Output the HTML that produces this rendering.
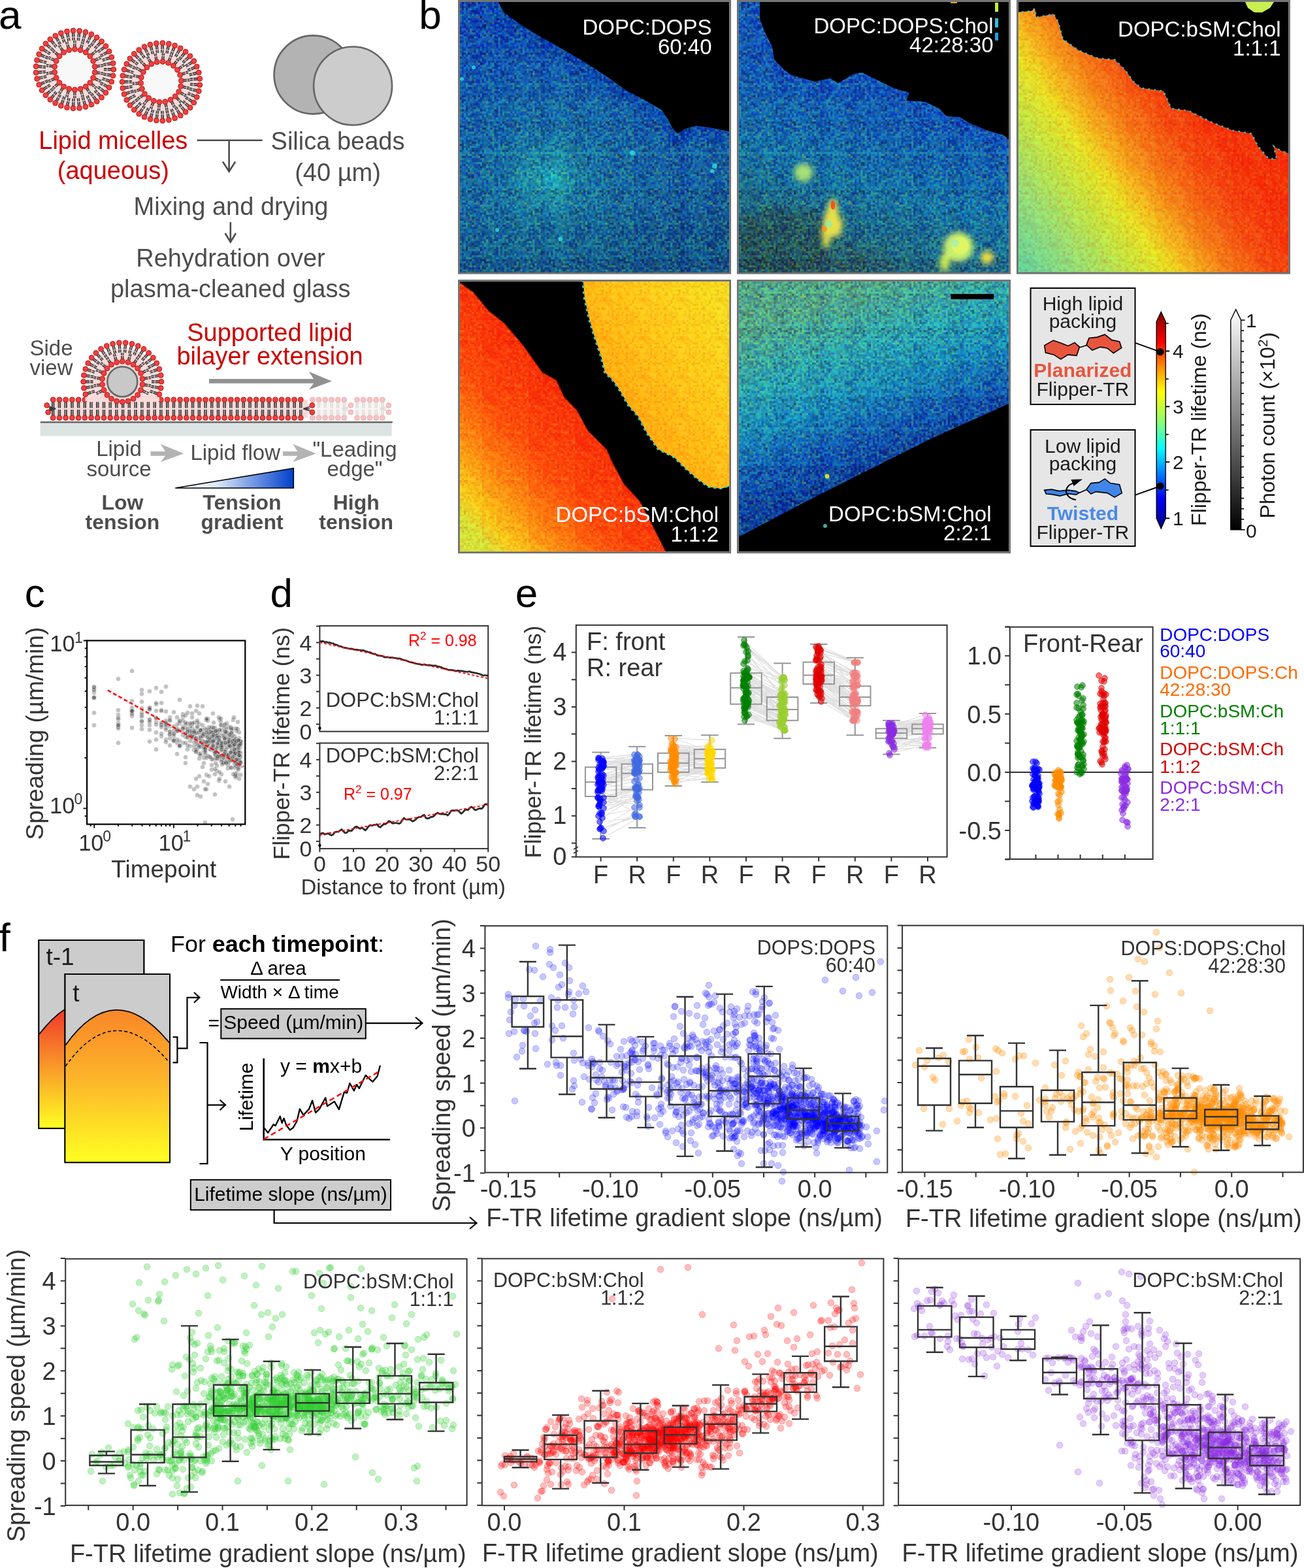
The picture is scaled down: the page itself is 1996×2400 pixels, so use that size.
<!DOCTYPE html>
<html><head><meta charset="utf-8"><style>
html,body{margin:0;padding:0;background:#fff}
svg{display:block}
text{font-family:"Liberation Sans",Arial,sans-serif}
</style></head><body>
<svg xmlns="http://www.w3.org/2000/svg" width="1996" height="2400" viewBox="0 0 1996 2400">
<rect width="1996" height="2400" fill="#fff"/>
<text x="-2" y="44.3" font-size="62" fill="#000">a</text>
<circle cx="114.4" cy="106.3" r="57.5" fill="#f7dada"/>
<circle cx="114.4" cy="106.3" r="29" fill="#f8f8f8"/>
<path d="M170.4 105L164.4 105M163.4 105L158.9 105M170.4 107.6L164.4 107.6M163.4 107.6L158.9 107.6M169.9 114L164 113M163 112.9L158.5 112.2M169.5 116.6L163.5 115.6M162.6 115.4L158.1 114.7M167.9 122.8L162.2 120.9M161.3 120.6L157 119.2M167.1 125.3L161.4 123.4M160.5 123L156.2 121.6M164.6 131.2L159.3 128.4M158.4 127.9L154.4 125.8M163.4 133.5L158.1 130.7M157.2 130.2L153.2 128.1M159.9 138.9L155.2 135.3M154.4 134.7L150.8 132M158.4 141L153.6 137.4M152.8 136.8L149.2 134.1M154.1 145.8L150 141.5M149.3 140.7L146.2 137.5M152.3 147.6L148.1 143.3M147.4 142.5L144.3 139.3M147.3 151.6L143.9 146.7M143.3 145.9L140.7 142.2M145.1 153.1L141.7 148.2M141.2 147.4L138.6 143.7M139.6 156.3L137 150.9M136.6 150L134.7 145.9M137.2 157.5L134.7 152M134.2 151.1L132.3 147.1M131.2 159.7L129.6 154M129.3 153L128 148.7M128.7 160.5L127.1 154.7M126.8 153.7L125.5 149.4M122.4 161.7L121.7 155.8M121.6 154.8L121.1 150.3M119.9 162L119.1 156.1M119 155.1L118.5 150.6M113.4 162.3L113.7 156.3M113.7 155.3L113.9 150.8M110.8 162.2L111.1 156.2M111.1 155.2L111.3 150.7M104.5 161.4L105.7 155.5M105.9 154.6L106.8 150.2M101.9 160.9L103.1 155M103.3 154L104.2 149.6M95.8 159.1L97.9 153.5M98.2 152.6L99.8 148.4M93.3 158.2L95.5 152.6M95.8 151.7L97.4 147.4M87.5 155.4L90.5 150.3M91 149.4L93.3 145.5M85.3 154.1L88.3 149M88.8 148.1L91 144.2M80 150.5L83.8 145.9M84.4 145.1L87.3 141.6M78 148.9L81.8 144.2M82.4 143.4L85.2 139.9M73.3 144.4L77.8 140.4M78.6 139.8L82 136.8M71.6 142.5L76.1 138.5M76.9 137.8L80.2 134.8M67.8 137.3L72.8 134.1M73.7 133.6L77.5 131.2M66.4 135.1L71.4 131.9M72.3 131.4L76.1 129M63.4 129.4L68.9 127.1M69.8 126.7L74 124.9M62.4 127.1L67.9 124.7M68.8 124.3L73 122.5M60.3 121L66.2 119.5M67.1 119.3L71.5 118.2M59.7 118.4L65.5 117M66.5 116.8L70.9 115.7M58.7 112.1L64.7 111.6M65.7 111.5L70.1 111.2M58.5 109.5L64.5 109M65.5 108.9L69.9 108.6M58.5 103.1L64.5 103.6M65.5 103.7L69.9 104M58.7 100.5L64.7 101M65.7 101.1L70.1 101.4M59.7 94.2L65.5 95.6M66.5 95.8L70.9 96.9M60.3 91.6L66.2 93.1M67.1 93.3L71.5 94.4M62.4 85.5L67.9 87.9M68.8 88.3L73 90.1M63.4 83.2L68.9 85.5M69.8 85.9L74 87.7M66.4 77.5L71.4 80.7M72.3 81.2L76.1 83.6M67.8 75.3L72.8 78.5M73.7 79L77.5 81.4M71.6 70.1L76.1 74.1M76.9 74.8L80.2 77.8M73.3 68.2L77.8 72.2M78.6 72.8L82 75.8M78 63.7L81.8 68.4M82.4 69.2L85.2 72.7M80 62.1L83.8 66.7M84.4 67.5L87.3 71M85.3 58.5L88.3 63.6M88.8 64.5L91 68.4M87.5 57.2L90.5 62.3M91 63.2L93.3 67.1M93.3 54.4L95.5 60M95.8 60.9L97.4 65.2M95.8 53.5L97.9 59.1M98.2 60L99.8 64.2M101.9 51.7L103.1 57.6M103.3 58.6L104.2 63M104.5 51.2L105.7 57.1M105.9 58L106.8 62.4M110.8 50.4L111.1 56.4M111.1 57.4L111.3 61.9M113.4 50.3L113.7 56.3M113.7 57.3L113.9 61.8M119.9 50.6L119.1 56.5M119 57.5L118.5 62M122.4 50.9L121.7 56.8M121.6 57.8L121.1 62.3M128.7 52.1L127.1 57.9M126.8 58.9L125.5 63.2M131.2 52.9L129.6 58.6M129.3 59.6L128 63.9M137.2 55.1L134.7 60.6M134.2 61.5L132.3 65.5M139.6 56.3L137 61.7M136.6 62.6L134.7 66.7M145.1 59.5L141.7 64.4M141.2 65.2L138.6 68.9M147.3 61L143.9 65.9M143.3 66.7L140.7 70.4M152.3 65L148.1 69.3M147.4 70.1L144.3 73.3M154.1 66.8L150 71.1M149.3 71.9L146.2 75.1M158.4 71.6L153.6 75.2M152.8 75.8L149.2 78.5M159.9 73.7L155.2 77.3M154.4 77.9L150.8 80.6M163.4 79.1L158.1 81.9M157.2 82.4L153.2 84.5M164.6 81.4L159.3 84.2M158.4 84.7L154.4 86.8M167.1 87.3L161.4 89.2M160.5 89.6L156.2 91M167.9 89.8L162.2 91.7M161.3 92L157 93.4M169.5 96L163.5 97M162.6 97.2L158.1 97.9M169.9 98.6L164 99.6M163 99.7L158.5 100.4M148.7 109.9L153.7 110.6M154.7 110.8L158.1 111.3M148.4 112.5L153.3 113.2M154.3 113.4L157.8 113.8M146.3 119.4L150.9 121.5M151.8 121.9L155 123.4M145.2 121.8L149.8 123.9M150.7 124.3L153.9 125.8M141.3 127.9L145.1 131.2M145.9 131.8L148.5 134.1M139.6 129.9L143.4 133.1M144.2 133.8L146.8 136.1M134.1 134.6L136.8 138.8M137.4 139.7L139.3 142.6M132 136L134.7 140.2M135.2 141.1L137.1 144M125.4 139L126.8 143.8M127.1 144.8L128 148.2M122.9 139.8L124.3 144.6M124.6 145.5L125.5 148.9M115.7 140.8L115.7 145.8M115.7 146.8L115.7 150.3M113.1 140.8L113.1 145.8M113.1 146.8L113.1 150.3M105.9 139.8L104.5 144.6M104.2 145.5L103.3 148.9M103.4 139L102 143.8M101.7 144.8L100.8 148.2M96.8 136L94.1 140.2M93.6 141.1L91.7 144M94.7 134.6L92 138.8M91.4 139.7L89.5 142.6M89.2 129.9L85.4 133.1M84.6 133.8L82 136.1M87.5 127.9L83.7 131.2M82.9 131.8L80.3 134.1M83.6 121.8L79 123.9M78.1 124.3L74.9 125.8M82.5 119.4L77.9 121.5M77 121.9L73.8 123.4M80.4 112.5L75.5 113.2M74.5 113.4L71 113.8M80.1 109.9L75.1 110.6M74.1 110.8L70.7 111.3M80.1 102.7L75.1 102M74.1 101.8L70.7 101.3M80.4 100.1L75.5 99.4M74.5 99.2L71 98.8M82.5 93.2L77.9 91.1M77 90.7L73.8 89.2M83.6 90.8L79 88.7M78.1 88.3L74.9 86.8M87.5 84.7L83.7 81.4M82.9 80.8L80.3 78.5M89.2 82.7L85.4 79.5M84.6 78.8L82 76.5M94.7 78L92 73.8M91.4 72.9L89.5 70M96.8 76.6L94.1 72.4M93.6 71.5L91.7 68.6M103.4 73.6L102 68.8M101.7 67.8L100.8 64.4M105.9 72.8L104.5 68M104.2 67.1L103.3 63.7M113.1 71.8L113.1 66.8M113.1 65.8L113.1 62.3M115.7 71.8L115.7 66.8M115.7 65.8L115.7 62.3M122.9 72.8L124.3 68M124.6 67.1L125.5 63.7M125.4 73.6L126.8 68.8M127.1 67.8L128 64.4M132 76.6L134.7 72.4M135.2 71.5L137.1 68.6M134.1 78L136.8 73.8M137.4 72.9L139.3 70M139.6 82.7L143.4 79.5M144.2 78.8L146.8 76.5M141.3 84.7L145.1 81.4M145.9 80.8L148.5 78.5M145.2 90.8L149.8 88.7M150.7 88.3L153.9 86.8M146.3 93.2L150.9 91.1M151.8 90.7L155 89.2M148.4 100.1L153.3 99.4M154.3 99.2L157.8 98.8M148.7 102.7L153.7 102M154.7 101.8L158.1 101.3" stroke="#3c3c3c" stroke-width="1.8" fill="none"/>
<g fill="#f04040" stroke="#b41616" stroke-width="1"><circle cx="173.9" cy="106.3" r="3.9"/><circle cx="173.1" cy="115.8" r="3.9"/><circle cx="170.8" cy="125.1" r="3.9"/><circle cx="167.1" cy="134" r="3.9"/><circle cx="162" cy="142" r="3.9"/><circle cx="155.6" cy="149.2" r="3.9"/><circle cx="148.2" cy="155.3" r="3.9"/><circle cx="139.9" cy="160.1" r="3.9"/><circle cx="131" cy="163.5" r="3.9"/><circle cx="121.6" cy="165.4" r="3.9"/><circle cx="112" cy="165.8" r="3.9"/><circle cx="102.5" cy="164.6" r="3.9"/><circle cx="93.3" cy="161.9" r="3.9"/><circle cx="84.6" cy="157.8" r="3.9"/><circle cx="76.8" cy="152.4" r="3.9"/><circle cx="69.9" cy="145.8" r="3.9"/><circle cx="64.1" cy="138.1" r="3.9"/><circle cx="59.7" cy="129.6" r="3.9"/><circle cx="56.6" cy="120.5" r="3.9"/><circle cx="55.1" cy="111.1" r="3.9"/><circle cx="55.1" cy="101.5" r="3.9"/><circle cx="56.6" cy="92.1" r="3.9"/><circle cx="59.7" cy="83" r="3.9"/><circle cx="64.1" cy="74.5" r="3.9"/><circle cx="69.9" cy="66.8" r="3.9"/><circle cx="76.8" cy="60.2" r="3.9"/><circle cx="84.7" cy="54.8" r="3.9"/><circle cx="93.3" cy="50.7" r="3.9"/><circle cx="102.5" cy="48" r="3.9"/><circle cx="112" cy="46.8" r="3.9"/><circle cx="121.6" cy="47.2" r="3.9"/><circle cx="131" cy="49.1" r="3.9"/><circle cx="139.9" cy="52.5" r="3.9"/><circle cx="148.2" cy="57.3" r="3.9"/><circle cx="155.6" cy="63.4" r="3.9"/><circle cx="162" cy="70.6" r="3.9"/><circle cx="167.1" cy="78.6" r="3.9"/><circle cx="170.8" cy="87.5" r="3.9"/><circle cx="173.1" cy="96.8" r="3.9"/><circle cx="145.1" cy="110.7" r="3.9"/><circle cx="142.6" cy="119.2" r="3.9"/><circle cx="137.8" cy="126.6" r="3.9"/><circle cx="131.2" cy="132.4" r="3.9"/><circle cx="123.1" cy="136" r="3.9"/><circle cx="114.4" cy="137.3" r="3.9"/><circle cx="105.7" cy="136" r="3.9"/><circle cx="97.6" cy="132.4" r="3.9"/><circle cx="91" cy="126.6" r="3.9"/><circle cx="86.2" cy="119.2" r="3.9"/><circle cx="83.7" cy="110.7" r="3.9"/><circle cx="83.7" cy="101.9" r="3.9"/><circle cx="86.2" cy="93.4" r="3.9"/><circle cx="91" cy="86" r="3.9"/><circle cx="97.6" cy="80.2" r="3.9"/><circle cx="105.7" cy="76.6" r="3.9"/><circle cx="114.4" cy="75.3" r="3.9"/><circle cx="123.1" cy="76.6" r="3.9"/><circle cx="131.2" cy="80.2" r="3.9"/><circle cx="137.8" cy="86" r="3.9"/><circle cx="142.6" cy="93.4" r="3.9"/><circle cx="145.1" cy="101.9" r="3.9"/></g>
<circle cx="246.5" cy="125.3" r="57.5" fill="#f7dada"/>
<circle cx="246.5" cy="125.3" r="29" fill="#f8f8f8"/>
<path d="M302.4 128.5L296.4 128M295.4 127.9L291 127.6M302.2 131.1L296.2 130.6M295.2 130.5L290.8 130.2M301.2 137.4L295.4 136M294.4 135.7L290 134.7M300.6 139.9L294.7 138.5M293.8 138.3L289.4 137.2M298.5 146L293 143.7M292.1 143.3L288 141.5M297.5 148.4L292 146.1M291.1 145.7L286.9 143.9M294.5 154.1L289.5 150.9M288.6 150.4L284.8 148M293.2 156.3L288.1 153.1M287.2 152.6L283.4 150.2M289.3 161.4L284.8 157.5M284.1 156.8L280.7 153.8M287.6 163.4L283.1 159.4M282.3 158.7L279 155.8M282.9 167.8L279.2 163.2M278.5 162.4L275.7 158.9M280.9 169.5L277.1 164.8M276.5 164.1L273.7 160.6M275.7 173.1L272.6 167.9M272.1 167.1L269.9 163.2M273.4 174.4L270.4 169.2M269.9 168.4L267.6 164.5M267.6 177.2L265.5 171.6M265.1 170.6L263.5 166.4M265.2 178.1L263 172.5M262.7 171.6L261.1 167.4M259 179.9L257.8 174M257.6 173L256.7 168.6M256.5 180.4L255.3 174.5M255.1 173.6L254.2 169.2M250.1 181.2L249.8 175.2M249.8 174.2L249.6 169.7M247.5 181.3L247.2 175.3M247.2 174.3L247 169.8M241.1 181.1L241.8 175.1M241.9 174.1L242.5 169.6M238.5 180.7L239.2 174.8M239.3 173.8L239.9 169.3M232.2 179.5L233.9 173.7M234.1 172.7L235.4 168.4M229.7 178.7L231.4 173M231.6 172L232.9 167.7M223.7 176.5L226.3 171M226.7 170.1L228.6 166.1M221.3 175.3L223.9 169.9M224.3 169L226.3 165M215.8 172.1L219.2 167.2M219.8 166.4L222.3 162.7M213.6 170.7L217 165.7M217.6 164.9L220.2 161.2M208.7 166.6L212.8 162.3M213.5 161.6L216.6 158.3M206.8 164.8L210.9 160.5M211.6 159.8L214.8 156.5M202.5 160L207.3 156.4M208.1 155.8L211.7 153.1M201 157.9L205.8 154.3M206.6 153.7L210.2 151M197.5 152.5L202.8 149.7M203.7 149.2L207.7 147.2M196.3 150.2L201.6 147.4M202.5 146.9L206.5 144.9M193.8 144.3L199.5 142.4M200.4 142.1L204.7 140.6M193 141.8L198.7 139.9M199.6 139.6L203.9 138.2M191.4 135.6L197.4 134.6M198.3 134.5L202.8 133.7M191 133L196.9 132.1M197.9 131.9L202.4 131.2M190.5 126.6L196.5 126.6M197.5 126.6L202 126.6M190.5 124L196.5 124M197.5 124L202 124M191 117.6L196.9 118.6M197.9 118.7L202.4 119.5M191.4 115.1L197.4 116M198.3 116.2L202.8 116.9M193 108.8L198.7 110.7M199.6 111L203.9 112.5M193.8 106.4L199.5 108.3M200.4 108.6L204.7 110M196.3 100.5L201.6 103.2M202.5 103.7L206.5 105.8M197.5 98.2L202.8 100.9M203.7 101.4L207.7 103.5M200.9 92.7L205.7 96.3M206.5 96.9L210.1 99.6M202.5 90.6L207.3 94.2M208.1 94.8L211.7 97.5M206.7 85.8L210.9 90.2M211.6 90.9L214.7 94.1M208.6 84L212.8 88.4M213.5 89.1L216.6 92.3M213.6 80L217 84.9M217.6 85.7L220.1 89.4M215.7 78.5L219.1 83.4M219.7 84.3L222.3 88M221.3 75.3L223.9 80.7M224.3 81.6L226.2 85.7M223.6 74.2L226.2 79.6M226.6 80.5L228.6 84.5M229.6 71.9L231.3 77.6M231.6 78.6L232.8 82.9M232.1 71.2L233.8 76.9M234.1 77.9L235.3 82.2M238.4 69.9L239.2 75.8M239.3 76.8L239.8 81.3M241 69.6L241.7 75.5M241.9 76.5L242.4 81M247.4 69.3L247.2 75.3M247.1 76.3L247 80.8M250 69.4L249.8 75.4M249.7 76.4L249.6 80.9M256.4 70.2L255.2 76M255 77L254.1 81.4M258.9 70.7L257.7 76.6M257.5 77.5L256.7 82M265.1 72.5L263 78.1M262.6 79L261 83.2M267.5 73.4L265.4 79M265.1 79.9L263.5 84.1M273.3 76.1L270.3 81.3M269.9 82.2L267.6 86.1M275.6 77.4L272.6 82.6M272.1 83.5L269.9 87.4M280.9 81.1L277.1 85.7M276.5 86.5L273.6 90M282.9 82.7L279.1 87.4M278.5 88.1L275.6 91.6M287.5 87.2L283 91.2M282.3 91.8L278.9 94.8M289.3 89.1L284.8 93.1M284 93.8L280.7 96.7M293.1 94.2L288 97.5M287.2 98L283.4 100.4M294.5 96.4L289.4 99.7M288.6 100.2L284.8 102.6M297.5 102.1L292 104.5M291.1 104.9L286.9 106.6M298.5 104.5L293 106.9M292.1 107.3L287.9 109M300.6 110.6L294.7 112M293.8 112.3L289.4 113.4M301.2 113.1L295.4 114.6M294.4 114.8L290 115.9M302.2 119.5L296.2 120M295.2 120L290.7 120.4M302.4 122.1L296.4 122.5M295.4 122.6L291 123M280.4 131.7L285.3 132.8M286.3 133L289.7 133.8M279.9 134.2L284.7 135.3M285.7 135.5L289.1 136.3M277.3 141L281.6 143.4M282.5 143.9L285.6 145.6M276 143.2L280.4 145.7M281.2 146.2L284.3 147.9M271.6 149L275.1 152.6M275.8 153.3L278.3 155.8M269.8 150.8L273.3 154.4M274 155.1L276.4 157.6M263.9 155.1L266.3 159.5M266.7 160.4L268.4 163.5M261.6 156.3L264 160.7M264.5 161.6L266.1 164.7M254.8 158.8L255.8 163.7M256 164.7L256.8 168.1M252.3 159.3L253.3 164.2M253.5 165.2L254.2 168.6M245 159.8L244.6 164.8M244.6 165.8L244.3 169.3M242.4 159.6L242 164.6M242 165.6L241.7 169.1M235.4 158L233.6 162.7M233.2 163.6L232 166.9M233 157.1L231.2 161.7M230.8 162.7L229.6 165.9M226.6 153.5L223.6 157.5M223 158.3L220.9 161.1M224.6 152L221.5 155.9M220.9 156.7L218.8 159.5M219.5 146.8L215.4 149.7M214.6 150.3L211.8 152.4M217.9 144.7L213.9 147.7M213.1 148.2L210.3 150.3M214.5 138.3L209.8 140M208.9 140.3L205.6 141.5M213.6 135.9L208.9 137.6M208 137.9L204.7 139.1M212.1 128.8L207.2 129.1M206.2 129.1L202.7 129.4M212 126.2L207 126.5M206 126.5L202.5 126.8M212.6 118.9L207.7 117.8M206.7 117.6L203.3 116.8M213.1 116.4L208.3 115.3M207.3 115.1L203.9 114.3M215.7 109.6L211.4 107.2M210.5 106.7L207.4 105M217 107.4L212.6 104.9M211.8 104.4L208.7 102.7M221.4 101.6L217.9 98M217.2 97.3L214.7 94.8M223.2 99.8L219.7 96.2M219 95.5L216.6 93M229.1 95.5L226.7 91.1M226.3 90.2L224.6 87.1M231.4 94.3L229 89.9M228.5 89L226.9 85.9M238.2 91.8L237.2 86.9M237 85.9L236.2 82.5M240.7 91.3L239.7 86.4M239.5 85.4L238.8 82M248 90.8L248.4 85.8M248.4 84.8L248.7 81.3M250.6 91L251 86M251 85L251.3 81.5M257.6 92.6L259.4 87.9M259.8 87L261 83.7M260 93.5L261.8 88.9M262.2 87.9L263.4 84.7M266.4 97.1L269.4 93.1M270 92.3L272.1 89.5M268.4 98.6L271.5 94.7M272.1 93.9L274.2 91.1M273.5 103.8L277.6 100.9M278.4 100.3L281.2 98.2M275.1 105.9L279.1 102.9M279.9 102.4L282.7 100.3M278.5 112.3L283.2 110.6M284.1 110.3L287.4 109.1M279.4 114.7L284.1 113M285 112.7L288.3 111.5M280.9 121.8L285.8 121.5M286.8 121.5L290.3 121.2M281 124.4L286 124.1M287 124.1L290.5 123.8" stroke="#3c3c3c" stroke-width="1.8" fill="none"/>
<g fill="#f04040" stroke="#b41616" stroke-width="1"><circle cx="305.8" cy="130.1" r="3.9"/><circle cx="304.3" cy="139.5" r="3.9"/><circle cx="301.3" cy="148.6" r="3.9"/><circle cx="296.8" cy="157.1" r="3.9"/><circle cx="291.1" cy="164.7" r="3.9"/><circle cx="284.2" cy="171.4" r="3.9"/><circle cx="276.3" cy="176.8" r="3.9"/><circle cx="267.6" cy="180.9" r="3.9"/><circle cx="258.4" cy="183.6" r="3.9"/><circle cx="248.9" cy="184.8" r="3.9"/><circle cx="239.4" cy="184.4" r="3.9"/><circle cx="230" cy="182.5" r="3.9"/><circle cx="221" cy="179.1" r="3.9"/><circle cx="212.7" cy="174.3" r="3.9"/><circle cx="205.3" cy="168.2" r="3.9"/><circle cx="199" cy="161.1" r="3.9"/><circle cx="193.8" cy="153" r="3.9"/><circle cx="190.1" cy="144.2" r="3.9"/><circle cx="187.8" cy="134.9" r="3.9"/><circle cx="187" cy="125.3" r="3.9"/><circle cx="187.8" cy="115.8" r="3.9"/><circle cx="190.1" cy="106.5" r="3.9"/><circle cx="193.8" cy="97.7" r="3.9"/><circle cx="198.9" cy="89.6" r="3.9"/><circle cx="205.3" cy="82.4" r="3.9"/><circle cx="212.7" cy="76.4" r="3.9"/><circle cx="221" cy="71.6" r="3.9"/><circle cx="229.9" cy="68.2" r="3.9"/><circle cx="239.3" cy="66.2" r="3.9"/><circle cx="248.9" cy="65.8" r="3.9"/><circle cx="258.4" cy="67" r="3.9"/><circle cx="267.6" cy="69.7" r="3.9"/><circle cx="276.2" cy="73.8" r="3.9"/><circle cx="284.1" cy="79.2" r="3.9"/><circle cx="291" cy="85.8" r="3.9"/><circle cx="296.8" cy="93.5" r="3.9"/><circle cx="301.2" cy="101.9" r="3.9"/><circle cx="304.3" cy="111" r="3.9"/><circle cx="305.8" cy="120.5" r="3.9"/><circle cx="276.7" cy="132.1" r="3.9"/><circle cx="273.6" cy="140.4" r="3.9"/><circle cx="268.2" cy="147.4" r="3.9"/><circle cx="261.1" cy="152.6" r="3.9"/><circle cx="252.8" cy="155.6" r="3.9"/><circle cx="244" cy="156.2" r="3.9"/><circle cx="235.4" cy="154.3" r="3.9"/><circle cx="227.7" cy="150" r="3.9"/><circle cx="221.5" cy="143.7" r="3.9"/><circle cx="217.4" cy="135.9" r="3.9"/><circle cx="215.6" cy="127.2" r="3.9"/><circle cx="216.3" cy="118.5" r="3.9"/><circle cx="219.4" cy="110.2" r="3.9"/><circle cx="224.8" cy="103.2" r="3.9"/><circle cx="231.9" cy="98" r="3.9"/><circle cx="240.2" cy="95" r="3.9"/><circle cx="249" cy="94.4" r="3.9"/><circle cx="257.6" cy="96.3" r="3.9"/><circle cx="265.3" cy="100.6" r="3.9"/><circle cx="271.5" cy="106.9" r="3.9"/><circle cx="275.6" cy="114.7" r="3.9"/><circle cx="277.4" cy="123.4" r="3.9"/></g>
<circle cx="479.6" cy="114.4" r="60" fill="#b3b3b3" stroke="#666" stroke-width="2.6"/>
<circle cx="540.1" cy="131.5" r="60" fill="#cccccc" stroke="#666" stroke-width="2.6"/>
<text x="173.3" y="227.5" font-size="38" text-anchor="middle" fill="#cc0000">Lipid micelles</text>
<text x="173.3" y="273.6" font-size="38" text-anchor="middle" fill="#cc0000">(aqueous)</text>
<text x="517" y="229.4" font-size="38" text-anchor="middle" fill="#4d4d4d">Silica beads</text>
<text x="517" y="276.5" font-size="38" text-anchor="middle" fill="#4d4d4d">(40 µm)</text>
<path d="M301.6,214.8 H401.7 M350.6,214.8 V262.5 M341,247.5 L350.6,262.5 L360.2,247.5" fill="none" stroke="#4d4d4d" stroke-width="2.6"/>
<text x="353.5" y="328.8" font-size="38" text-anchor="middle" fill="#4d4d4d">Mixing and drying</text>
<path d="M352.8,340 V370.5 M344.6,357 L352.8,370.5 L361,357" fill="none" stroke="#4d4d4d" stroke-width="2.6"/>
<text x="353" y="407.8" font-size="38" text-anchor="middle" fill="#4d4d4d">Rehydration over</text>
<text x="352.7" y="455.3" font-size="38" text-anchor="middle" fill="#4d4d4d">plasma-cleaned glass</text>
<text x="78.5" y="543.7" font-size="33" text-anchor="middle" fill="#4d4d4d">Side</text>
<text x="78.5" y="573.8" font-size="33" text-anchor="middle" fill="#4d4d4d">view</text>
<text x="413" y="522" font-size="38" text-anchor="middle" fill="#cc0000">Supported lipid</text>
<text x="413" y="558" font-size="38" text-anchor="middle" fill="#cc0000">bilayer extension</text>
<path d="M320,579.9 H480.1 L472.8,568.7 L508,583.5 L472.8,596.4 L480.1,586.8 H320 Z" fill="#919191"/>
<rect x="61.7" y="647.4" width="537.9" height="20" fill="#dbe3e3"/>
<line x1="61.7" y1="646.2" x2="600.7" y2="646.2" stroke="#666" stroke-width="2.4"/>
<g opacity="0.32">
<rect x="475.3" y="611.8" width="55.3" height="27.8" fill="#f7dada"/>
<path d="M477 615.3L477 624.4M477 636.1L477 627M479.6 615.3L479.6 624.4M479.6 636.1L479.6 627M486.7 615.3L486.7 624.4M486.7 636.1L486.7 627M489.3 615.3L489.3 624.4M489.3 636.1L489.3 627M496.4 615.3L496.4 624.4M496.4 636.1L496.4 627M499 615.3L499 624.4M499 636.1L499 627M506.2 615.3L506.2 624.4M506.2 636.1L506.2 627M508.8 615.3L508.8 624.4M508.8 636.1L508.8 627M515.9 615.3L515.9 624.4M515.9 636.1L515.9 627M518.5 615.3L518.5 624.4M518.5 636.1L518.5 627M525.6 615.3L525.6 624.4M525.6 636.1L525.6 627M528.2 615.3L528.2 624.4M528.2 636.1L528.2 627" stroke="#9a9a9a" stroke-width="1.8" fill="none"/>
<path d="M533.6 622.5L523.6 625.7M533.6 622.5L523.6 625.7M533.6 625.7L523.6 625.7M533.6 628.9L523.6 625.7M533.6 628.9L523.6 625.7" stroke="#9a9a9a" stroke-width="1.8" fill="none"/>
<g fill="#f04040" stroke="#b41616" stroke-width="1"><circle cx="478.3" cy="611.8" r="3.9"/><circle cx="478.3" cy="639.6" r="3.9"/><circle cx="488" cy="611.8" r="3.9"/><circle cx="488" cy="639.6" r="3.9"/><circle cx="497.7" cy="611.8" r="3.9"/><circle cx="497.7" cy="639.6" r="3.9"/><circle cx="507.5" cy="611.8" r="3.9"/><circle cx="507.5" cy="639.6" r="3.9"/><circle cx="517.2" cy="611.8" r="3.9"/><circle cx="517.2" cy="639.6" r="3.9"/><circle cx="526.9" cy="611.8" r="3.9"/><circle cx="526.9" cy="639.6" r="3.9"/><circle cx="537.1" cy="620.4" r="3.9"/><circle cx="537.1" cy="631" r="3.9"/></g>
</g>
<g opacity="0.32">
<rect x="543.5" y="611.8" width="44.9" height="27.8" fill="#f7dada"/>
<path d="M545.2 615.3L545.2 624.4M545.2 636.1L545.2 627M547.8 615.3L547.8 624.4M547.8 636.1L547.8 627M554.9 615.3L554.9 624.4M554.9 636.1L554.9 627M557.5 615.3L557.5 624.4M557.5 636.1L557.5 627M564.6 615.3L564.6 624.4M564.6 636.1L564.6 627M567.2 615.3L567.2 624.4M567.2 636.1L567.2 627M574.4 615.3L574.4 624.4M574.4 636.1L574.4 627M577 615.3L577 624.4M577 636.1L577 627M584.1 615.3L584.1 624.4M584.1 636.1L584.1 627M586.7 615.3L586.7 624.4M586.7 636.1L586.7 627" stroke="#9a9a9a" stroke-width="1.8" fill="none"/>
<path d="M591.4 622.5L581.4 625.7M591.4 622.5L581.4 625.7M591.4 625.7L581.4 625.7M591.4 628.9L581.4 625.7M591.4 628.9L581.4 625.7" stroke="#9a9a9a" stroke-width="1.8" fill="none"/>
<g fill="#f04040" stroke="#b41616" stroke-width="1"><circle cx="546.5" cy="611.8" r="3.9"/><circle cx="546.5" cy="639.6" r="3.9"/><circle cx="556.2" cy="611.8" r="3.9"/><circle cx="556.2" cy="639.6" r="3.9"/><circle cx="565.9" cy="611.8" r="3.9"/><circle cx="565.9" cy="639.6" r="3.9"/><circle cx="575.7" cy="611.8" r="3.9"/><circle cx="575.7" cy="639.6" r="3.9"/><circle cx="585.4" cy="611.8" r="3.9"/><circle cx="585.4" cy="639.6" r="3.9"/><circle cx="594.9" cy="620.4" r="3.9"/><circle cx="594.9" cy="631" r="3.9"/></g>
</g>
<g>
<rect x="78.2" y="611.8" width="393.1" height="27.8" fill="#f7dada"/>
<path d="M79.9 615.3L79.9 624.4M79.9 636.1L79.9 627M82.5 615.3L82.5 624.4M82.5 636.1L82.5 627M89.6 615.3L89.6 624.4M89.6 636.1L89.6 627M92.2 615.3L92.2 624.4M92.2 636.1L92.2 627M99.3 615.3L99.3 624.4M99.3 636.1L99.3 627M101.9 615.3L101.9 624.4M101.9 636.1L101.9 627M109.1 615.3L109.1 624.4M109.1 636.1L109.1 627M111.7 615.3L111.7 624.4M111.7 636.1L111.7 627M118.8 615.3L118.8 624.4M118.8 636.1L118.8 627M121.4 615.3L121.4 624.4M121.4 636.1L121.4 627M128.5 615.3L128.5 624.4M128.5 636.1L128.5 627M131.1 615.3L131.1 624.4M131.1 636.1L131.1 627M138.2 615.3L138.2 624.4M138.2 636.1L138.2 627M140.8 615.3L140.8 624.4M140.8 636.1L140.8 627M147.9 615.3L147.9 624.4M147.9 636.1L147.9 627M150.5 615.3L150.5 624.4M150.5 636.1L150.5 627M157.7 615.3L157.7 624.4M157.7 636.1L157.7 627M160.3 615.3L160.3 624.4M160.3 636.1L160.3 627M167.4 615.3L167.4 624.4M167.4 636.1L167.4 627M170 615.3L170 624.4M170 636.1L170 627M177.1 615.3L177.1 624.4M177.1 636.1L177.1 627M179.7 615.3L179.7 624.4M179.7 636.1L179.7 627M186.8 615.3L186.8 624.4M186.8 636.1L186.8 627M189.4 615.3L189.4 624.4M189.4 636.1L189.4 627M196.5 615.3L196.5 624.4M196.5 636.1L196.5 627M199.1 615.3L199.1 624.4M199.1 636.1L199.1 627M206.3 615.3L206.3 624.4M206.3 636.1L206.3 627M208.9 615.3L208.9 624.4M208.9 636.1L208.9 627M216 615.3L216 624.4M216 636.1L216 627M218.6 615.3L218.6 624.4M218.6 636.1L218.6 627M225.7 615.3L225.7 624.4M225.7 636.1L225.7 627M228.3 615.3L228.3 624.4M228.3 636.1L228.3 627M235.4 615.3L235.4 624.4M235.4 636.1L235.4 627M238 615.3L238 624.4M238 636.1L238 627M245.1 615.3L245.1 624.4M245.1 636.1L245.1 627M247.7 615.3L247.7 624.4M247.7 636.1L247.7 627M254.9 615.3L254.9 624.4M254.9 636.1L254.9 627M257.5 615.3L257.5 624.4M257.5 636.1L257.5 627M264.6 615.3L264.6 624.4M264.6 636.1L264.6 627M267.2 615.3L267.2 624.4M267.2 636.1L267.2 627M274.3 615.3L274.3 624.4M274.3 636.1L274.3 627M276.9 615.3L276.9 624.4M276.9 636.1L276.9 627M284 615.3L284 624.4M284 636.1L284 627M286.6 615.3L286.6 624.4M286.6 636.1L286.6 627M293.7 615.3L293.7 624.4M293.7 636.1L293.7 627M296.3 615.3L296.3 624.4M296.3 636.1L296.3 627M303.5 615.3L303.5 624.4M303.5 636.1L303.5 627M306.1 615.3L306.1 624.4M306.1 636.1L306.1 627M313.2 615.3L313.2 624.4M313.2 636.1L313.2 627M315.8 615.3L315.8 624.4M315.8 636.1L315.8 627M322.9 615.3L322.9 624.4M322.9 636.1L322.9 627M325.5 615.3L325.5 624.4M325.5 636.1L325.5 627M332.6 615.3L332.6 624.4M332.6 636.1L332.6 627M335.2 615.3L335.2 624.4M335.2 636.1L335.2 627M342.3 615.3L342.3 624.4M342.3 636.1L342.3 627M344.9 615.3L344.9 624.4M344.9 636.1L344.9 627M352.1 615.3L352.1 624.4M352.1 636.1L352.1 627M354.7 615.3L354.7 624.4M354.7 636.1L354.7 627M361.8 615.3L361.8 624.4M361.8 636.1L361.8 627M364.4 615.3L364.4 624.4M364.4 636.1L364.4 627M371.5 615.3L371.5 624.4M371.5 636.1L371.5 627M374.1 615.3L374.1 624.4M374.1 636.1L374.1 627M381.2 615.3L381.2 624.4M381.2 636.1L381.2 627M383.8 615.3L383.8 624.4M383.8 636.1L383.8 627M390.9 615.3L390.9 624.4M390.9 636.1L390.9 627M393.5 615.3L393.5 624.4M393.5 636.1L393.5 627M400.7 615.3L400.7 624.4M400.7 636.1L400.7 627M403.3 615.3L403.3 624.4M403.3 636.1L403.3 627M410.4 615.3L410.4 624.4M410.4 636.1L410.4 627M413 615.3L413 624.4M413 636.1L413 627M420.1 615.3L420.1 624.4M420.1 636.1L420.1 627M422.7 615.3L422.7 624.4M422.7 636.1L422.7 627M429.8 615.3L429.8 624.4M429.8 636.1L429.8 627M432.4 615.3L432.4 624.4M432.4 636.1L432.4 627M439.5 615.3L439.5 624.4M439.5 636.1L439.5 627M442.1 615.3L442.1 624.4M442.1 636.1L442.1 627M449.3 615.3L449.3 624.4M449.3 636.1L449.3 627M451.9 615.3L451.9 624.4M451.9 636.1L451.9 627M459 615.3L459 624.4M459 636.1L459 627M461.6 615.3L461.6 624.4M461.6 636.1L461.6 627" stroke="#3c3c3c" stroke-width="1.8" fill="none"/>
<path d="M474.3 622.5L464.3 625.7M474.3 622.5L464.3 625.7M474.3 625.7L464.3 625.7M474.3 628.9L464.3 625.7M474.3 628.9L464.3 625.7" stroke="#3c3c3c" stroke-width="1.8" fill="none"/>
<path d="M75.2 622.2L85.2 625.7M75.2 624L85.2 625.7M75.2 625.7L85.2 625.7M75.2 627.5L85.2 625.7M75.2 629.2L85.2 625.7" stroke="#3c3c3c" stroke-width="1.8" fill="none"/>
<g fill="#f04040" stroke="#b41616" stroke-width="1"><circle cx="81.2" cy="611.8" r="3.9"/><circle cx="81.2" cy="639.6" r="3.9"/><circle cx="90.9" cy="611.8" r="3.9"/><circle cx="90.9" cy="639.6" r="3.9"/><circle cx="100.6" cy="611.8" r="3.9"/><circle cx="100.6" cy="639.6" r="3.9"/><circle cx="110.4" cy="611.8" r="3.9"/><circle cx="110.4" cy="639.6" r="3.9"/><circle cx="120.1" cy="611.8" r="3.9"/><circle cx="120.1" cy="639.6" r="3.9"/><circle cx="129.8" cy="611.8" r="3.9"/><circle cx="129.8" cy="639.6" r="3.9"/><circle cx="139.5" cy="639.6" r="3.9"/><circle cx="149.2" cy="639.6" r="3.9"/><circle cx="159" cy="639.6" r="3.9"/><circle cx="168.7" cy="639.6" r="3.9"/><circle cx="178.4" cy="639.6" r="3.9"/><circle cx="188.1" cy="639.6" r="3.9"/><circle cx="197.8" cy="639.6" r="3.9"/><circle cx="207.6" cy="639.6" r="3.9"/><circle cx="217.3" cy="639.6" r="3.9"/><circle cx="227" cy="639.6" r="3.9"/><circle cx="236.7" cy="639.6" r="3.9"/><circle cx="246.4" cy="611.8" r="3.9"/><circle cx="246.4" cy="639.6" r="3.9"/><circle cx="256.2" cy="611.8" r="3.9"/><circle cx="256.2" cy="639.6" r="3.9"/><circle cx="265.9" cy="611.8" r="3.9"/><circle cx="265.9" cy="639.6" r="3.9"/><circle cx="275.6" cy="611.8" r="3.9"/><circle cx="275.6" cy="639.6" r="3.9"/><circle cx="285.3" cy="611.8" r="3.9"/><circle cx="285.3" cy="639.6" r="3.9"/><circle cx="295" cy="611.8" r="3.9"/><circle cx="295" cy="639.6" r="3.9"/><circle cx="304.8" cy="611.8" r="3.9"/><circle cx="304.8" cy="639.6" r="3.9"/><circle cx="314.5" cy="611.8" r="3.9"/><circle cx="314.5" cy="639.6" r="3.9"/><circle cx="324.2" cy="611.8" r="3.9"/><circle cx="324.2" cy="639.6" r="3.9"/><circle cx="333.9" cy="611.8" r="3.9"/><circle cx="333.9" cy="639.6" r="3.9"/><circle cx="343.6" cy="611.8" r="3.9"/><circle cx="343.6" cy="639.6" r="3.9"/><circle cx="353.4" cy="611.8" r="3.9"/><circle cx="353.4" cy="639.6" r="3.9"/><circle cx="363.1" cy="611.8" r="3.9"/><circle cx="363.1" cy="639.6" r="3.9"/><circle cx="372.8" cy="611.8" r="3.9"/><circle cx="372.8" cy="639.6" r="3.9"/><circle cx="382.5" cy="611.8" r="3.9"/><circle cx="382.5" cy="639.6" r="3.9"/><circle cx="392.2" cy="611.8" r="3.9"/><circle cx="392.2" cy="639.6" r="3.9"/><circle cx="402" cy="611.8" r="3.9"/><circle cx="402" cy="639.6" r="3.9"/><circle cx="411.7" cy="611.8" r="3.9"/><circle cx="411.7" cy="639.6" r="3.9"/><circle cx="421.4" cy="611.8" r="3.9"/><circle cx="421.4" cy="639.6" r="3.9"/><circle cx="431.1" cy="611.8" r="3.9"/><circle cx="431.1" cy="639.6" r="3.9"/><circle cx="440.8" cy="611.8" r="3.9"/><circle cx="440.8" cy="639.6" r="3.9"/><circle cx="450.6" cy="611.8" r="3.9"/><circle cx="450.6" cy="639.6" r="3.9"/><circle cx="460.3" cy="611.8" r="3.9"/><circle cx="460.3" cy="639.6" r="3.9"/><circle cx="477.8" cy="620.4" r="3.9"/><circle cx="477.8" cy="631" r="3.9"/><circle cx="71.7" cy="620.4" r="3.9"/><circle cx="73.7" cy="631" r="3.9"/></g>
</g>
<path d="M131.8,611 A58.7,58.7 0 1 1 242.8,611 Z" fill="#f7dada"/>
<rect x="130.6" y="600" width="113.4" height="14" fill="#f7dada"/>
<path d="M243.5 582.9L237.5 582.9M236.5 582.9L232 582.9M243.5 585.5L237.5 585.5M236.5 585.5L232 585.5M242.9 592.2L237 591.2M236 591L231.6 590.3M242.5 594.7L236.6 593.7M235.6 593.6L231.2 592.8M240.9 601.2L235.2 599.3M234.3 598.9L230 597.5M240 603.7L234.4 601.7M233.4 601.4L229.2 599.9M134.6 603.7L140.2 601.7M141.2 601.4L145.4 599.9M133.7 601.2L139.4 599.3M140.3 598.9L144.6 597.5M132.1 594.7L138 593.7M139 593.6L143.4 592.8M131.7 592.2L137.6 591.2M138.6 591L143 590.3M131.1 585.5L137.1 585.5M138.1 585.5L142.6 585.5M131.1 582.9L137.1 582.9M138.1 582.9L142.6 582.9M131.7 576.2L137.6 577.2M138.6 577.4L143 578.1M132.1 573.7L138 574.7M139 574.8L143.4 575.6M133.7 567.2L139.4 569.1M140.3 569.5L144.6 570.9M134.6 564.7L140.2 566.7M141.2 567L145.4 568.5M137.3 558.6L142.5 561.5M143.4 561.9L147.4 564.1M138.5 556.3L143.8 559.2M144.6 559.6L148.6 561.8M142.2 550.7L146.9 554.4M147.7 555L151.2 557.8M143.7 548.7L148.5 552.3M149.3 553L152.8 555.7M148.3 543.7L152.3 548.1M153 548.9L156.1 552.2M150.2 542L154.3 546.4M154.9 547.1L158 550.4M155.5 537.9L158.8 542.9M159.3 543.7L161.8 547.5M157.6 536.4L160.9 541.5M161.5 542.3L163.9 546.1M163.5 533.3L165.9 538.8M166.3 539.7L168.2 543.8M165.9 532.2L168.3 537.7M168.7 538.6L170.5 542.7M172.2 530L173.7 535.9M174 536.8L175.1 541.2M174.8 529.4L176.2 535.2M176.5 536.2L177.6 540.5M181.4 528.3L181.9 534.3M181.9 535.3L182.3 539.8M184 528.1L184.5 534.1M184.5 535.1L184.9 539.5M190.6 528.1L190.1 534.1M190.1 535.1L189.7 539.5M193.2 528.3L192.7 534.3M192.7 535.3L192.3 539.8M199.8 529.4L198.4 535.2M198.1 536.2L197 540.5M202.4 530L200.9 535.9M200.6 536.8L199.5 541.2M208.7 532.2L206.3 537.7M205.9 538.6L204.1 542.7M211.1 533.3L208.7 538.8M208.3 539.7L206.4 543.8M217 536.4L213.7 541.5M213.1 542.3L210.7 546.1M219.1 537.9L215.8 542.9M215.3 543.7L212.8 547.5M224.4 542L220.3 546.4M219.7 547.1L216.6 550.4M226.3 543.7L222.3 548.1M221.6 548.9L218.5 552.2M230.9 548.7L226.1 552.3M225.3 553L221.8 555.7M232.4 550.7L227.7 554.4M226.9 555L223.4 557.8M236.1 556.3L230.8 559.2M230 559.6L226 561.8M237.3 558.6L232.1 561.5M231.2 561.9L227.2 564.1M240 564.7L234.4 566.7M233.4 567L229.2 568.5M240.9 567.2L235.2 569.1M234.3 569.5L230 570.9M242.5 573.7L236.6 574.7M235.6 574.8L231.2 575.6M242.9 576.2L237 577.2M236 577.4L231.6 578.1M221.6 587.8L226.6 588.5M227.6 588.7L231 589.2M221.3 590.4L226.2 591.1M227.2 591.3L230.7 591.7M219.2 597.3L223.8 599.4M224.7 599.8L227.9 601.3M218.1 599.7L222.7 601.8M223.6 602.2L226.8 603.7M156.5 599.7L151.9 601.8M151 602.2L147.8 603.7M155.4 597.3L150.8 599.4M149.9 599.8L146.7 601.3M153.3 590.4L148.4 591.1M147.4 591.3L143.9 591.7M153 587.8L148 588.5M147 588.7L143.6 589.2M153 580.6L148 579.9M147 579.7L143.6 579.2M153.3 578L148.4 577.3M147.4 577.1L143.9 576.7M155.4 571.1L150.8 569M149.9 568.6L146.7 567.1M156.5 568.7L151.9 566.6M151 566.2L147.8 564.7M160.4 562.6L156.6 559.3M155.8 558.7L153.2 556.4M162.1 560.6L158.3 557.4M157.5 556.7L154.9 554.4M167.6 555.9L164.9 551.7M164.3 550.8L162.4 547.9M169.7 554.5L167 550.3M166.5 549.4L164.6 546.5M176.3 551.5L174.9 546.7M174.6 545.7L173.7 542.3M178.8 550.7L177.4 545.9M177.1 545L176.2 541.6M186 549.7L186 544.7M186 543.7L186 540.2M188.6 549.7L188.6 544.7M188.6 543.7L188.6 540.2M195.8 550.7L197.2 545.9M197.5 545L198.4 541.6M198.3 551.5L199.7 546.7M200 545.7L200.9 542.3M204.9 554.5L207.6 550.3M208.1 549.4L210 546.5M207 555.9L209.7 551.7M210.3 550.8L212.2 547.9M212.5 560.6L216.3 557.4M217.1 556.7L219.7 554.4M214.2 562.6L218 559.3M218.8 558.7L221.4 556.4M218.1 568.7L222.7 566.6M223.6 566.2L226.8 564.7M219.2 571.1L223.8 569M224.7 568.6L227.9 567.1M221.3 578L226.2 577.3M227.2 577.1L230.7 576.7M221.6 580.6L226.6 579.9M227.6 579.7L231 579.2" stroke="#3c3c3c" stroke-width="1.8" fill="none"/>
<circle cx="187.3" cy="584.2" r="23" fill="#c8c8c8" stroke="#666" stroke-width="2.6"/>
<g fill="#f04040" stroke="#b41616" stroke-width="1"><circle cx="247" cy="584.2" r="3.9"/><circle cx="246.2" cy="594" r="3.9"/><circle cx="243.8" cy="603.6" r="3.9"/><circle cx="130.8" cy="603.6" r="3.9"/><circle cx="128.4" cy="594" r="3.9"/><circle cx="127.6" cy="584.2" r="3.9"/><circle cx="128.4" cy="574.4" r="3.9"/><circle cx="130.8" cy="564.8" r="3.9"/><circle cx="134.8" cy="555.8" r="3.9"/><circle cx="140.2" cy="547.5" r="3.9"/><circle cx="146.9" cy="540.3" r="3.9"/><circle cx="154.6" cy="534.2" r="3.9"/><circle cx="163.3" cy="529.5" r="3.9"/><circle cx="172.6" cy="526.3" r="3.9"/><circle cx="182.4" cy="524.7" r="3.9"/><circle cx="192.2" cy="524.7" r="3.9"/><circle cx="202" cy="526.3" r="3.9"/><circle cx="211.3" cy="529.5" r="3.9"/><circle cx="220" cy="534.2" r="3.9"/><circle cx="227.7" cy="540.3" r="3.9"/><circle cx="234.4" cy="547.5" r="3.9"/><circle cx="239.8" cy="555.8" r="3.9"/><circle cx="243.8" cy="564.8" r="3.9"/><circle cx="246.2" cy="574.4" r="3.9"/><circle cx="218" cy="588.6" r="3.9"/><circle cx="215.5" cy="597.1" r="3.9"/><circle cx="210.7" cy="604.5" r="3.9"/><circle cx="204.1" cy="610.3" r="3.9"/><circle cx="196" cy="613.9" r="3.9"/><circle cx="187.3" cy="615.2" r="3.9"/><circle cx="178.6" cy="613.9" r="3.9"/><circle cx="170.5" cy="610.3" r="3.9"/><circle cx="163.9" cy="604.5" r="3.9"/><circle cx="159.1" cy="597.1" r="3.9"/><circle cx="156.6" cy="588.6" r="3.9"/><circle cx="156.6" cy="579.8" r="3.9"/><circle cx="159.1" cy="571.3" r="3.9"/><circle cx="163.9" cy="563.9" r="3.9"/><circle cx="170.5" cy="558.1" r="3.9"/><circle cx="178.6" cy="554.5" r="3.9"/><circle cx="187.3" cy="553.2" r="3.9"/><circle cx="196" cy="554.5" r="3.9"/><circle cx="204.1" cy="558.1" r="3.9"/><circle cx="210.7" cy="563.9" r="3.9"/><circle cx="215.5" cy="571.3" r="3.9"/><circle cx="218" cy="579.8" r="3.9"/></g>
<path d="M230.5,691.1 H253 L245.7,679.6 L281.2,694.3 L245.7,707.3 L253,697.7 H230.5 Z" fill="#b3b3b3"/>
<path d="M432.9,691.1 H455.4 L448.1,679.6 L483.6,694.3 L448.1,707.3 L455.4,697.7 H432.9 Z" fill="#b3b3b3"/>
<text x="182" y="698.1" font-size="33" text-anchor="middle" fill="#4d4d4d">Lipid</text>
<text x="182" y="729.1" font-size="33" text-anchor="middle" fill="#4d4d4d">source</text>
<text x="360.2" y="704" font-size="33" text-anchor="middle" fill="#4d4d4d">Lipid flow</text>
<text x="543" y="698.7" font-size="33" text-anchor="middle" fill="#4d4d4d">"Leading</text>
<text x="543" y="728.5" font-size="33" text-anchor="middle" fill="#4d4d4d">edge"</text>
<defs><linearGradient id="tg" x1="0" x2="1" y1="0" y2="0"><stop offset="0" stop-color="#ffffff"/><stop offset="0.35" stop-color="#dde8fa"/><stop offset="1" stop-color="#0040cc"/></linearGradient></defs>
<path d="M268.3,747 L449.3,716.6 V747 Z" fill="url(#tg)" stroke="#000" stroke-width="1.6"/>
<text x="187.5" y="779.7" font-size="32" text-anchor="middle" font-weight="bold" fill="#4d4d4d">Low</text>
<text x="187.5" y="809.5" font-size="32" text-anchor="middle" font-weight="bold" fill="#4d4d4d">tension</text>
<text x="370.5" y="779.7" font-size="32" text-anchor="middle" font-weight="bold" fill="#4d4d4d">Tension</text>
<text x="370.5" y="809.5" font-size="32" text-anchor="middle" font-weight="bold" fill="#4d4d4d">gradient</text>
<text x="545.2" y="779.7" font-size="32" text-anchor="middle" font-weight="bold" fill="#4d4d4d">High</text>
<text x="545.2" y="809.5" font-size="32" text-anchor="middle" font-weight="bold" fill="#4d4d4d">tension</text>
<text x="641.2" y="43.7" font-size="62" fill="#000">b</text>
<defs><pattern id="ncool" width="71.3" height="71.3" patternUnits="userSpaceOnUse"><path d="M0 0h3.1v3.1h-3.1zM0 3.1h3.1v3.1h-3.1zM9.3 65.1h3.1v3.1h-3.1zM12.4 12.4h3.1v3.1h-3.1zM12.4 52.7h3.1v3.1h-3.1zM21.7 6.2h3.1v3.1h-3.1zM27.9 3.1h3.1v3.1h-3.1zM27.9 31h3.1v3.1h-3.1zM27.9 65.1h3.1v3.1h-3.1zM34.1 6.2h3.1v3.1h-3.1zM43.4 43.4h3.1v3.1h-3.1zM43.4 65.1h3.1v3.1h-3.1zM46.5 40.3h3.1v3.1h-3.1zM49.6 34.1h3.1v3.1h-3.1zM49.6 40.3h3.1v3.1h-3.1zM49.6 55.8h3.1v3.1h-3.1zM52.7 40.3h3.1v3.1h-3.1zM55.8 24.8h3.1v3.1h-3.1zM58.9 12.4h3.1v3.1h-3.1zM62 43.4h3.1v3.1h-3.1z" fill="#0060d0" fill-opacity="0.3"/><path d="M0 6.2h3.1v3.1h-3.1zM0 37.2h3.1v3.1h-3.1zM3.1 18.6h3.1v3.1h-3.1zM3.1 40.3h3.1v3.1h-3.1zM6.2 3.1h3.1v3.1h-3.1zM9.3 0h3.1v3.1h-3.1zM12.4 24.8h3.1v3.1h-3.1zM12.4 49.6h3.1v3.1h-3.1zM15.5 24.8h3.1v3.1h-3.1zM18.6 34.1h3.1v3.1h-3.1zM24.8 12.4h3.1v3.1h-3.1zM27.9 18.6h3.1v3.1h-3.1zM31 24.8h3.1v3.1h-3.1zM37.2 18.6h3.1v3.1h-3.1zM37.2 55.8h3.1v3.1h-3.1zM40.3 3.1h3.1v3.1h-3.1zM40.3 68.2h3.1v3.1h-3.1zM49.6 12.4h3.1v3.1h-3.1zM49.6 31h3.1v3.1h-3.1zM55.8 21.7h3.1v3.1h-3.1zM58.9 43.4h3.1v3.1h-3.1zM62 27.9h3.1v3.1h-3.1z" fill="#80c840" fill-opacity="0.3"/><path d="M0 9.3h3.1v3.1h-3.1zM0 46.5h3.1v3.1h-3.1zM3.1 21.7h3.1v3.1h-3.1zM3.1 49.6h3.1v3.1h-3.1zM6.2 9.3h3.1v3.1h-3.1zM6.2 21.7h3.1v3.1h-3.1zM9.3 6.2h3.1v3.1h-3.1zM9.3 40.3h3.1v3.1h-3.1zM9.3 49.6h3.1v3.1h-3.1zM15.5 65.1h3.1v3.1h-3.1zM18.6 68.2h3.1v3.1h-3.1zM21.7 46.5h3.1v3.1h-3.1zM21.7 49.6h3.1v3.1h-3.1zM24.8 27.9h3.1v3.1h-3.1zM31 37.2h3.1v3.1h-3.1zM34.1 52.7h3.1v3.1h-3.1zM40.3 40.3h3.1v3.1h-3.1zM40.3 62h3.1v3.1h-3.1zM43.4 0h3.1v3.1h-3.1zM43.4 18.6h3.1v3.1h-3.1zM46.5 3.1h3.1v3.1h-3.1zM49.6 24.8h3.1v3.1h-3.1zM52.7 18.6h3.1v3.1h-3.1zM62 9.3h3.1v3.1h-3.1zM62 34.1h3.1v3.1h-3.1zM65.1 43.4h3.1v3.1h-3.1zM68.2 21.7h3.1v3.1h-3.1zM68.2 43.4h3.1v3.1h-3.1zM68.2 62h3.1v3.1h-3.1z" fill="#80c840" fill-opacity="0.2"/><path d="M0 12.4h3.1v3.1h-3.1zM0 40.3h3.1v3.1h-3.1zM3.1 27.9h3.1v3.1h-3.1zM12.4 68.2h3.1v3.1h-3.1zM18.6 27.9h3.1v3.1h-3.1zM18.6 52.7h3.1v3.1h-3.1zM24.8 9.3h3.1v3.1h-3.1zM24.8 62h3.1v3.1h-3.1zM37.2 12.4h3.1v3.1h-3.1zM37.2 46.5h3.1v3.1h-3.1zM40.3 12.4h3.1v3.1h-3.1zM43.4 37.2h3.1v3.1h-3.1zM43.4 52.7h3.1v3.1h-3.1zM46.5 9.3h3.1v3.1h-3.1zM46.5 24.8h3.1v3.1h-3.1zM46.5 34.1h3.1v3.1h-3.1zM46.5 43.4h3.1v3.1h-3.1zM49.6 3.1h3.1v3.1h-3.1zM49.6 15.5h3.1v3.1h-3.1zM52.7 27.9h3.1v3.1h-3.1zM55.8 52.7h3.1v3.1h-3.1zM55.8 55.8h3.1v3.1h-3.1zM55.8 68.2h3.1v3.1h-3.1zM58.9 21.7h3.1v3.1h-3.1zM58.9 27.9h3.1v3.1h-3.1zM58.9 65.1h3.1v3.1h-3.1zM62 46.5h3.1v3.1h-3.1z" fill="#0010c8" fill-opacity="0.4"/><path d="M0 15.5h3.1v3.1h-3.1zM3.1 3.1h3.1v3.1h-3.1zM3.1 58.9h3.1v3.1h-3.1zM9.3 37.2h3.1v3.1h-3.1zM15.5 62h3.1v3.1h-3.1zM18.6 58.9h3.1v3.1h-3.1zM21.7 52.7h3.1v3.1h-3.1zM24.8 31h3.1v3.1h-3.1zM31 21.7h3.1v3.1h-3.1zM34.1 18.6h3.1v3.1h-3.1zM34.1 58.9h3.1v3.1h-3.1zM37.2 3.1h3.1v3.1h-3.1zM43.4 15.5h3.1v3.1h-3.1zM43.4 46.5h3.1v3.1h-3.1zM46.5 46.5h3.1v3.1h-3.1zM49.6 0h3.1v3.1h-3.1zM52.7 43.4h3.1v3.1h-3.1zM52.7 68.2h3.1v3.1h-3.1zM55.8 3.1h3.1v3.1h-3.1zM55.8 12.4h3.1v3.1h-3.1zM55.8 46.5h3.1v3.1h-3.1zM58.9 55.8h3.1v3.1h-3.1zM62 31h3.1v3.1h-3.1zM62 68.2h3.1v3.1h-3.1zM65.1 46.5h3.1v3.1h-3.1zM65.1 65.1h3.1v3.1h-3.1zM68.2 15.5h3.1v3.1h-3.1z" fill="#30c890" fill-opacity="0.2"/><path d="M0 18.6h3.1v3.1h-3.1zM0 31h3.1v3.1h-3.1zM3.1 65.1h3.1v3.1h-3.1zM9.3 62h3.1v3.1h-3.1zM12.4 34.1h3.1v3.1h-3.1zM15.5 0h3.1v3.1h-3.1zM15.5 37.2h3.1v3.1h-3.1zM15.5 68.2h3.1v3.1h-3.1zM18.6 31h3.1v3.1h-3.1zM18.6 46.5h3.1v3.1h-3.1zM21.7 15.5h3.1v3.1h-3.1zM27.9 46.5h3.1v3.1h-3.1zM31 15.5h3.1v3.1h-3.1zM46.5 18.6h3.1v3.1h-3.1zM49.6 27.9h3.1v3.1h-3.1zM49.6 37.2h3.1v3.1h-3.1zM49.6 43.4h3.1v3.1h-3.1zM49.6 62h3.1v3.1h-3.1zM49.6 68.2h3.1v3.1h-3.1zM58.9 24.8h3.1v3.1h-3.1zM62 58.9h3.1v3.1h-3.1zM65.1 0h3.1v3.1h-3.1zM65.1 40.3h3.1v3.1h-3.1zM68.2 0h3.1v3.1h-3.1zM68.2 65.1h3.1v3.1h-3.1z" fill="#0060d0" fill-opacity="0.2"/><path d="M0 21.7h3.1v3.1h-3.1zM3.1 6.2h3.1v3.1h-3.1zM3.1 43.4h3.1v3.1h-3.1zM9.3 15.5h3.1v3.1h-3.1zM12.4 62h3.1v3.1h-3.1zM15.5 15.5h3.1v3.1h-3.1zM21.7 40.3h3.1v3.1h-3.1zM27.9 40.3h3.1v3.1h-3.1zM27.9 43.4h3.1v3.1h-3.1zM27.9 52.7h3.1v3.1h-3.1zM31 34.1h3.1v3.1h-3.1zM34.1 34.1h3.1v3.1h-3.1zM34.1 68.2h3.1v3.1h-3.1zM37.2 21.7h3.1v3.1h-3.1zM37.2 34.1h3.1v3.1h-3.1zM37.2 43.4h3.1v3.1h-3.1zM43.4 34.1h3.1v3.1h-3.1zM46.5 62h3.1v3.1h-3.1zM52.7 46.5h3.1v3.1h-3.1zM55.8 58.9h3.1v3.1h-3.1zM58.9 6.2h3.1v3.1h-3.1zM65.1 9.3h3.1v3.1h-3.1zM65.1 12.4h3.1v3.1h-3.1z" fill="#000030" fill-opacity="0.3"/><path d="M0 24.8h3.1v3.1h-3.1zM0 65.1h3.1v3.1h-3.1zM3.1 55.8h3.1v3.1h-3.1zM6.2 34.1h3.1v3.1h-3.1zM6.2 40.3h3.1v3.1h-3.1zM6.2 55.8h3.1v3.1h-3.1zM9.3 3.1h3.1v3.1h-3.1zM9.3 46.5h3.1v3.1h-3.1zM9.3 52.7h3.1v3.1h-3.1zM15.5 18.6h3.1v3.1h-3.1zM15.5 31h3.1v3.1h-3.1zM18.6 0h3.1v3.1h-3.1zM21.7 21.7h3.1v3.1h-3.1zM24.8 6.2h3.1v3.1h-3.1zM24.8 15.5h3.1v3.1h-3.1zM24.8 52.7h3.1v3.1h-3.1zM24.8 68.2h3.1v3.1h-3.1zM31 43.4h3.1v3.1h-3.1zM37.2 0h3.1v3.1h-3.1zM40.3 21.7h3.1v3.1h-3.1zM43.4 49.6h3.1v3.1h-3.1zM46.5 21.7h3.1v3.1h-3.1zM46.5 58.9h3.1v3.1h-3.1zM52.7 21.7h3.1v3.1h-3.1zM52.7 52.7h3.1v3.1h-3.1zM52.7 55.8h3.1v3.1h-3.1zM52.7 65.1h3.1v3.1h-3.1zM68.2 37.2h3.1v3.1h-3.1zM68.2 58.9h3.1v3.1h-3.1z" fill="#001070" fill-opacity="0.3"/><path d="M0 27.9h3.1v3.1h-3.1zM0 62h3.1v3.1h-3.1zM3.1 12.4h3.1v3.1h-3.1zM3.1 15.5h3.1v3.1h-3.1zM6.2 46.5h3.1v3.1h-3.1zM6.2 58.9h3.1v3.1h-3.1zM9.3 9.3h3.1v3.1h-3.1zM9.3 18.6h3.1v3.1h-3.1zM12.4 65.1h3.1v3.1h-3.1zM15.5 9.3h3.1v3.1h-3.1zM15.5 46.5h3.1v3.1h-3.1zM18.6 65.1h3.1v3.1h-3.1zM21.7 18.6h3.1v3.1h-3.1zM27.9 6.2h3.1v3.1h-3.1zM27.9 55.8h3.1v3.1h-3.1zM34.1 31h3.1v3.1h-3.1zM34.1 40.3h3.1v3.1h-3.1zM34.1 49.6h3.1v3.1h-3.1zM37.2 62h3.1v3.1h-3.1zM40.3 6.2h3.1v3.1h-3.1zM40.3 27.9h3.1v3.1h-3.1zM46.5 52.7h3.1v3.1h-3.1zM49.6 9.3h3.1v3.1h-3.1zM49.6 58.9h3.1v3.1h-3.1zM49.6 65.1h3.1v3.1h-3.1zM55.8 6.2h3.1v3.1h-3.1zM55.8 27.9h3.1v3.1h-3.1zM55.8 34.1h3.1v3.1h-3.1zM62 3.1h3.1v3.1h-3.1zM62 18.6h3.1v3.1h-3.1zM65.1 15.5h3.1v3.1h-3.1zM65.1 21.7h3.1v3.1h-3.1zM65.1 52.7h3.1v3.1h-3.1zM65.1 68.2h3.1v3.1h-3.1zM68.2 18.6h3.1v3.1h-3.1z" fill="#30c890" fill-opacity="0.3"/><path d="M0 34.1h3.1v3.1h-3.1zM0 68.2h3.1v3.1h-3.1zM3.1 34.1h3.1v3.1h-3.1zM6.2 24.8h3.1v3.1h-3.1zM6.2 31h3.1v3.1h-3.1zM12.4 0h3.1v3.1h-3.1zM12.4 27.9h3.1v3.1h-3.1zM12.4 40.3h3.1v3.1h-3.1zM15.5 27.9h3.1v3.1h-3.1zM15.5 43.4h3.1v3.1h-3.1zM18.6 15.5h3.1v3.1h-3.1zM21.7 55.8h3.1v3.1h-3.1zM24.8 21.7h3.1v3.1h-3.1zM27.9 24.8h3.1v3.1h-3.1zM31 58.9h3.1v3.1h-3.1zM31 68.2h3.1v3.1h-3.1zM34.1 0h3.1v3.1h-3.1zM37.2 49.6h3.1v3.1h-3.1zM40.3 0h3.1v3.1h-3.1zM46.5 49.6h3.1v3.1h-3.1zM49.6 21.7h3.1v3.1h-3.1zM55.8 49.6h3.1v3.1h-3.1zM58.9 40.3h3.1v3.1h-3.1zM65.1 18.6h3.1v3.1h-3.1zM65.1 58.9h3.1v3.1h-3.1z" fill="#0060d0" fill-opacity="0.4"/><path d="M0 43.4h3.1v3.1h-3.1zM3.1 0h3.1v3.1h-3.1zM3.1 52.7h3.1v3.1h-3.1zM6.2 15.5h3.1v3.1h-3.1zM6.2 18.6h3.1v3.1h-3.1zM15.5 52.7h3.1v3.1h-3.1zM18.6 49.6h3.1v3.1h-3.1zM21.7 43.4h3.1v3.1h-3.1zM34.1 15.5h3.1v3.1h-3.1zM34.1 24.8h3.1v3.1h-3.1zM34.1 43.4h3.1v3.1h-3.1zM37.2 68.2h3.1v3.1h-3.1zM40.3 37.2h3.1v3.1h-3.1zM46.5 0h3.1v3.1h-3.1zM52.7 34.1h3.1v3.1h-3.1zM58.9 34.1h3.1v3.1h-3.1zM58.9 58.9h3.1v3.1h-3.1zM58.9 68.2h3.1v3.1h-3.1zM65.1 31h3.1v3.1h-3.1zM65.1 34.1h3.1v3.1h-3.1zM65.1 37.2h3.1v3.1h-3.1zM68.2 40.3h3.1v3.1h-3.1zM68.2 46.5h3.1v3.1h-3.1zM68.2 49.6h3.1v3.1h-3.1z" fill="#0010c8" fill-opacity="0.2"/><path d="M0 49.6h3.1v3.1h-3.1zM0 52.7h3.1v3.1h-3.1zM3.1 62h3.1v3.1h-3.1zM6.2 0h3.1v3.1h-3.1zM18.6 12.4h3.1v3.1h-3.1zM18.6 18.6h3.1v3.1h-3.1zM18.6 43.4h3.1v3.1h-3.1zM21.7 12.4h3.1v3.1h-3.1zM24.8 37.2h3.1v3.1h-3.1zM24.8 40.3h3.1v3.1h-3.1zM24.8 49.6h3.1v3.1h-3.1zM27.9 0h3.1v3.1h-3.1zM27.9 58.9h3.1v3.1h-3.1zM31 3.1h3.1v3.1h-3.1zM31 31h3.1v3.1h-3.1zM34.1 3.1h3.1v3.1h-3.1zM34.1 21.7h3.1v3.1h-3.1zM37.2 65.1h3.1v3.1h-3.1zM40.3 31h3.1v3.1h-3.1zM43.4 3.1h3.1v3.1h-3.1zM43.4 6.2h3.1v3.1h-3.1zM46.5 31h3.1v3.1h-3.1zM55.8 37.2h3.1v3.1h-3.1zM58.9 0h3.1v3.1h-3.1zM58.9 62h3.1v3.1h-3.1zM68.2 24.8h3.1v3.1h-3.1z" fill="#001070" fill-opacity="0.2"/><path d="M0 55.8h3.1v3.1h-3.1zM3.1 31h3.1v3.1h-3.1zM6.2 49.6h3.1v3.1h-3.1zM9.3 58.9h3.1v3.1h-3.1zM12.4 55.8h3.1v3.1h-3.1zM15.5 6.2h3.1v3.1h-3.1zM15.5 21.7h3.1v3.1h-3.1zM18.6 24.8h3.1v3.1h-3.1zM21.7 27.9h3.1v3.1h-3.1zM21.7 62h3.1v3.1h-3.1zM24.8 55.8h3.1v3.1h-3.1zM27.9 34.1h3.1v3.1h-3.1zM31 9.3h3.1v3.1h-3.1zM31 12.4h3.1v3.1h-3.1zM31 40.3h3.1v3.1h-3.1zM34.1 46.5h3.1v3.1h-3.1zM34.1 62h3.1v3.1h-3.1zM37.2 31h3.1v3.1h-3.1zM55.8 9.3h3.1v3.1h-3.1zM58.9 52.7h3.1v3.1h-3.1z" fill="#80c840" fill-opacity="0.4"/><path d="M0 58.9h3.1v3.1h-3.1zM3.1 68.2h3.1v3.1h-3.1zM6.2 43.4h3.1v3.1h-3.1zM15.5 3.1h3.1v3.1h-3.1zM21.7 34.1h3.1v3.1h-3.1zM24.8 43.4h3.1v3.1h-3.1zM27.9 15.5h3.1v3.1h-3.1zM27.9 27.9h3.1v3.1h-3.1zM27.9 49.6h3.1v3.1h-3.1zM31 52.7h3.1v3.1h-3.1zM40.3 34.1h3.1v3.1h-3.1zM40.3 52.7h3.1v3.1h-3.1zM40.3 55.8h3.1v3.1h-3.1zM40.3 65.1h3.1v3.1h-3.1zM43.4 12.4h3.1v3.1h-3.1zM43.4 21.7h3.1v3.1h-3.1zM46.5 37.2h3.1v3.1h-3.1zM52.7 12.4h3.1v3.1h-3.1zM55.8 18.6h3.1v3.1h-3.1zM55.8 31h3.1v3.1h-3.1zM58.9 3.1h3.1v3.1h-3.1zM62 12.4h3.1v3.1h-3.1zM62 21.7h3.1v3.1h-3.1zM62 52.7h3.1v3.1h-3.1zM65.1 27.9h3.1v3.1h-3.1z" fill="#30c890" fill-opacity="0.4"/><path d="M3.1 9.3h3.1v3.1h-3.1zM3.1 46.5h3.1v3.1h-3.1zM12.4 3.1h3.1v3.1h-3.1zM21.7 9.3h3.1v3.1h-3.1zM21.7 24.8h3.1v3.1h-3.1zM27.9 37.2h3.1v3.1h-3.1zM31 6.2h3.1v3.1h-3.1zM31 62h3.1v3.1h-3.1zM34.1 9.3h3.1v3.1h-3.1zM37.2 6.2h3.1v3.1h-3.1zM37.2 52.7h3.1v3.1h-3.1zM43.4 24.8h3.1v3.1h-3.1zM43.4 55.8h3.1v3.1h-3.1zM43.4 62h3.1v3.1h-3.1zM46.5 27.9h3.1v3.1h-3.1zM49.6 52.7h3.1v3.1h-3.1zM55.8 15.5h3.1v3.1h-3.1zM55.8 40.3h3.1v3.1h-3.1zM55.8 43.4h3.1v3.1h-3.1zM62 49.6h3.1v3.1h-3.1zM65.1 3.1h3.1v3.1h-3.1z" fill="#000030" fill-opacity="0.4"/><path d="M3.1 24.8h3.1v3.1h-3.1zM3.1 37.2h3.1v3.1h-3.1zM6.2 37.2h3.1v3.1h-3.1zM9.3 24.8h3.1v3.1h-3.1zM12.4 9.3h3.1v3.1h-3.1zM12.4 43.4h3.1v3.1h-3.1zM27.9 62h3.1v3.1h-3.1zM27.9 68.2h3.1v3.1h-3.1zM37.2 15.5h3.1v3.1h-3.1zM37.2 27.9h3.1v3.1h-3.1zM37.2 40.3h3.1v3.1h-3.1zM40.3 24.8h3.1v3.1h-3.1zM46.5 15.5h3.1v3.1h-3.1zM49.6 6.2h3.1v3.1h-3.1zM49.6 18.6h3.1v3.1h-3.1zM52.7 9.3h3.1v3.1h-3.1zM52.7 58.9h3.1v3.1h-3.1zM58.9 37.2h3.1v3.1h-3.1zM58.9 49.6h3.1v3.1h-3.1zM62 24.8h3.1v3.1h-3.1zM62 37.2h3.1v3.1h-3.1zM68.2 6.2h3.1v3.1h-3.1zM68.2 12.4h3.1v3.1h-3.1zM68.2 31h3.1v3.1h-3.1zM68.2 34.1h3.1v3.1h-3.1zM68.2 55.8h3.1v3.1h-3.1z" fill="#00b0c0" fill-opacity="0.4"/><path d="M6.2 6.2h3.1v3.1h-3.1zM6.2 52.7h3.1v3.1h-3.1zM9.3 27.9h3.1v3.1h-3.1zM12.4 6.2h3.1v3.1h-3.1zM12.4 18.6h3.1v3.1h-3.1zM12.4 31h3.1v3.1h-3.1zM15.5 49.6h3.1v3.1h-3.1zM15.5 58.9h3.1v3.1h-3.1zM18.6 9.3h3.1v3.1h-3.1zM18.6 21.7h3.1v3.1h-3.1zM18.6 37.2h3.1v3.1h-3.1zM18.6 55.8h3.1v3.1h-3.1zM21.7 31h3.1v3.1h-3.1zM24.8 18.6h3.1v3.1h-3.1zM24.8 24.8h3.1v3.1h-3.1zM24.8 34.1h3.1v3.1h-3.1zM24.8 58.9h3.1v3.1h-3.1zM24.8 65.1h3.1v3.1h-3.1zM27.9 21.7h3.1v3.1h-3.1zM31 46.5h3.1v3.1h-3.1zM31 55.8h3.1v3.1h-3.1zM34.1 37.2h3.1v3.1h-3.1zM34.1 65.1h3.1v3.1h-3.1zM40.3 15.5h3.1v3.1h-3.1zM40.3 43.4h3.1v3.1h-3.1zM43.4 31h3.1v3.1h-3.1zM43.4 58.9h3.1v3.1h-3.1zM43.4 68.2h3.1v3.1h-3.1zM46.5 6.2h3.1v3.1h-3.1zM46.5 65.1h3.1v3.1h-3.1zM49.6 46.5h3.1v3.1h-3.1zM52.7 0h3.1v3.1h-3.1zM52.7 3.1h3.1v3.1h-3.1zM52.7 31h3.1v3.1h-3.1zM52.7 62h3.1v3.1h-3.1zM58.9 15.5h3.1v3.1h-3.1zM62 40.3h3.1v3.1h-3.1zM62 55.8h3.1v3.1h-3.1zM68.2 27.9h3.1v3.1h-3.1z" fill="#0010c8" fill-opacity="0.3"/><path d="M6.2 12.4h3.1v3.1h-3.1zM6.2 27.9h3.1v3.1h-3.1zM6.2 65.1h3.1v3.1h-3.1zM6.2 68.2h3.1v3.1h-3.1zM9.3 21.7h3.1v3.1h-3.1zM12.4 58.9h3.1v3.1h-3.1zM21.7 3.1h3.1v3.1h-3.1zM21.7 37.2h3.1v3.1h-3.1zM21.7 58.9h3.1v3.1h-3.1zM24.8 46.5h3.1v3.1h-3.1zM27.9 12.4h3.1v3.1h-3.1zM31 18.6h3.1v3.1h-3.1zM31 27.9h3.1v3.1h-3.1zM37.2 58.9h3.1v3.1h-3.1zM49.6 49.6h3.1v3.1h-3.1zM52.7 15.5h3.1v3.1h-3.1zM65.1 55.8h3.1v3.1h-3.1zM68.2 68.2h3.1v3.1h-3.1z" fill="#00b0c0" fill-opacity="0.3"/><path d="M6.2 62h3.1v3.1h-3.1zM9.3 12.4h3.1v3.1h-3.1zM9.3 31h3.1v3.1h-3.1zM12.4 21.7h3.1v3.1h-3.1zM12.4 46.5h3.1v3.1h-3.1zM15.5 12.4h3.1v3.1h-3.1zM21.7 68.2h3.1v3.1h-3.1zM31 49.6h3.1v3.1h-3.1zM31 65.1h3.1v3.1h-3.1zM37.2 37.2h3.1v3.1h-3.1zM40.3 46.5h3.1v3.1h-3.1zM40.3 49.6h3.1v3.1h-3.1zM40.3 58.9h3.1v3.1h-3.1zM43.4 40.3h3.1v3.1h-3.1zM46.5 55.8h3.1v3.1h-3.1zM52.7 37.2h3.1v3.1h-3.1zM58.9 31h3.1v3.1h-3.1zM65.1 6.2h3.1v3.1h-3.1zM65.1 49.6h3.1v3.1h-3.1z" fill="#000030" fill-opacity="0.2"/><path d="M9.3 34.1h3.1v3.1h-3.1zM9.3 43.4h3.1v3.1h-3.1zM9.3 68.2h3.1v3.1h-3.1zM15.5 34.1h3.1v3.1h-3.1zM15.5 55.8h3.1v3.1h-3.1zM18.6 6.2h3.1v3.1h-3.1zM18.6 62h3.1v3.1h-3.1zM21.7 0h3.1v3.1h-3.1zM21.7 65.1h3.1v3.1h-3.1zM34.1 12.4h3.1v3.1h-3.1zM34.1 27.9h3.1v3.1h-3.1zM34.1 55.8h3.1v3.1h-3.1zM37.2 24.8h3.1v3.1h-3.1zM40.3 9.3h3.1v3.1h-3.1zM40.3 18.6h3.1v3.1h-3.1zM46.5 12.4h3.1v3.1h-3.1zM52.7 24.8h3.1v3.1h-3.1zM52.7 49.6h3.1v3.1h-3.1zM55.8 0h3.1v3.1h-3.1zM55.8 62h3.1v3.1h-3.1zM58.9 9.3h3.1v3.1h-3.1zM58.9 18.6h3.1v3.1h-3.1zM62 0h3.1v3.1h-3.1zM62 65.1h3.1v3.1h-3.1zM65.1 62h3.1v3.1h-3.1z" fill="#00b0c0" fill-opacity="0.2"/><path d="M9.3 55.8h3.1v3.1h-3.1zM12.4 15.5h3.1v3.1h-3.1zM12.4 37.2h3.1v3.1h-3.1zM15.5 40.3h3.1v3.1h-3.1zM18.6 3.1h3.1v3.1h-3.1zM18.6 40.3h3.1v3.1h-3.1zM24.8 0h3.1v3.1h-3.1zM24.8 3.1h3.1v3.1h-3.1zM27.9 9.3h3.1v3.1h-3.1zM31 0h3.1v3.1h-3.1zM37.2 9.3h3.1v3.1h-3.1zM43.4 9.3h3.1v3.1h-3.1zM43.4 27.9h3.1v3.1h-3.1zM46.5 68.2h3.1v3.1h-3.1zM52.7 6.2h3.1v3.1h-3.1zM55.8 65.1h3.1v3.1h-3.1zM58.9 46.5h3.1v3.1h-3.1zM62 6.2h3.1v3.1h-3.1zM62 15.5h3.1v3.1h-3.1zM62 62h3.1v3.1h-3.1zM65.1 24.8h3.1v3.1h-3.1zM68.2 3.1h3.1v3.1h-3.1zM68.2 9.3h3.1v3.1h-3.1zM68.2 52.7h3.1v3.1h-3.1z" fill="#001070" fill-opacity="0.4"/></pattern><pattern id="ncool2" width="52.7" height="52.7" patternUnits="userSpaceOnUse"><path d="M0 0h3.1v3.1h-3.1zM0 31h3.1v3.1h-3.1zM0 46.5h3.1v3.1h-3.1zM3.1 6.2h3.1v3.1h-3.1zM3.1 12.4h3.1v3.1h-3.1zM6.2 0h3.1v3.1h-3.1zM6.2 34.1h3.1v3.1h-3.1zM9.3 18.6h3.1v3.1h-3.1zM9.3 34.1h3.1v3.1h-3.1zM9.3 37.2h3.1v3.1h-3.1zM12.4 6.2h3.1v3.1h-3.1zM12.4 18.6h3.1v3.1h-3.1zM15.5 24.8h3.1v3.1h-3.1zM15.5 31h3.1v3.1h-3.1zM18.6 6.2h3.1v3.1h-3.1zM18.6 21.7h3.1v3.1h-3.1zM18.6 31h3.1v3.1h-3.1zM21.7 43.4h3.1v3.1h-3.1zM24.8 9.3h3.1v3.1h-3.1zM24.8 12.4h3.1v3.1h-3.1zM24.8 15.5h3.1v3.1h-3.1zM24.8 31h3.1v3.1h-3.1zM24.8 43.4h3.1v3.1h-3.1zM24.8 49.6h3.1v3.1h-3.1zM31 12.4h3.1v3.1h-3.1zM31 31h3.1v3.1h-3.1zM34.1 24.8h3.1v3.1h-3.1zM34.1 43.4h3.1v3.1h-3.1zM34.1 46.5h3.1v3.1h-3.1zM46.5 27.9h3.1v3.1h-3.1zM46.5 43.4h3.1v3.1h-3.1zM49.6 37.2h3.1v3.1h-3.1z" fill="#30c890" fill-opacity="0.2"/><path d="M0 3.1h3.1v3.1h-3.1zM0 12.4h3.1v3.1h-3.1zM0 34.1h3.1v3.1h-3.1zM0 49.6h3.1v3.1h-3.1zM3.1 15.5h3.1v3.1h-3.1zM3.1 18.6h3.1v3.1h-3.1zM3.1 21.7h3.1v3.1h-3.1zM3.1 43.4h3.1v3.1h-3.1zM6.2 6.2h3.1v3.1h-3.1zM9.3 9.3h3.1v3.1h-3.1zM9.3 15.5h3.1v3.1h-3.1zM9.3 21.7h3.1v3.1h-3.1zM9.3 24.8h3.1v3.1h-3.1zM9.3 27.9h3.1v3.1h-3.1zM15.5 6.2h3.1v3.1h-3.1zM15.5 9.3h3.1v3.1h-3.1zM18.6 15.5h3.1v3.1h-3.1zM18.6 37.2h3.1v3.1h-3.1zM21.7 21.7h3.1v3.1h-3.1zM21.7 24.8h3.1v3.1h-3.1zM21.7 37.2h3.1v3.1h-3.1zM24.8 18.6h3.1v3.1h-3.1zM24.8 24.8h3.1v3.1h-3.1zM27.9 24.8h3.1v3.1h-3.1zM27.9 49.6h3.1v3.1h-3.1zM31 0h3.1v3.1h-3.1zM31 46.5h3.1v3.1h-3.1zM34.1 37.2h3.1v3.1h-3.1zM37.2 0h3.1v3.1h-3.1zM37.2 27.9h3.1v3.1h-3.1zM40.3 3.1h3.1v3.1h-3.1zM40.3 9.3h3.1v3.1h-3.1zM40.3 12.4h3.1v3.1h-3.1zM40.3 21.7h3.1v3.1h-3.1zM43.4 3.1h3.1v3.1h-3.1zM43.4 9.3h3.1v3.1h-3.1zM46.5 12.4h3.1v3.1h-3.1zM46.5 21.7h3.1v3.1h-3.1zM46.5 37.2h3.1v3.1h-3.1zM46.5 49.6h3.1v3.1h-3.1zM49.6 21.7h3.1v3.1h-3.1z" fill="#00b0c0" fill-opacity="0.2"/><path d="M0 6.2h3.1v3.1h-3.1zM6.2 3.1h3.1v3.1h-3.1zM6.2 9.3h3.1v3.1h-3.1zM12.4 40.3h3.1v3.1h-3.1zM12.4 43.4h3.1v3.1h-3.1zM15.5 21.7h3.1v3.1h-3.1zM18.6 24.8h3.1v3.1h-3.1zM18.6 27.9h3.1v3.1h-3.1zM24.8 3.1h3.1v3.1h-3.1zM27.9 34.1h3.1v3.1h-3.1zM37.2 12.4h3.1v3.1h-3.1zM40.3 37.2h3.1v3.1h-3.1zM46.5 9.3h3.1v3.1h-3.1zM49.6 0h3.1v3.1h-3.1z" fill="#00b0c0" fill-opacity="0.3"/><path d="M0 9.3h3.1v3.1h-3.1zM0 21.7h3.1v3.1h-3.1zM3.1 24.8h3.1v3.1h-3.1zM6.2 21.7h3.1v3.1h-3.1zM6.2 27.9h3.1v3.1h-3.1zM12.4 9.3h3.1v3.1h-3.1zM12.4 15.5h3.1v3.1h-3.1zM12.4 24.8h3.1v3.1h-3.1zM12.4 46.5h3.1v3.1h-3.1zM15.5 3.1h3.1v3.1h-3.1zM18.6 46.5h3.1v3.1h-3.1zM21.7 0h3.1v3.1h-3.1zM27.9 18.6h3.1v3.1h-3.1zM27.9 46.5h3.1v3.1h-3.1zM31 9.3h3.1v3.1h-3.1zM31 15.5h3.1v3.1h-3.1zM31 34.1h3.1v3.1h-3.1zM34.1 34.1h3.1v3.1h-3.1zM37.2 43.4h3.1v3.1h-3.1zM43.4 21.7h3.1v3.1h-3.1zM43.4 37.2h3.1v3.1h-3.1zM43.4 46.5h3.1v3.1h-3.1z" fill="#00b0c0" fill-opacity="0.1"/><path d="M0 15.5h3.1v3.1h-3.1zM0 43.4h3.1v3.1h-3.1zM6.2 12.4h3.1v3.1h-3.1zM6.2 15.5h3.1v3.1h-3.1zM9.3 12.4h3.1v3.1h-3.1zM9.3 43.4h3.1v3.1h-3.1zM9.3 46.5h3.1v3.1h-3.1zM12.4 37.2h3.1v3.1h-3.1zM18.6 18.6h3.1v3.1h-3.1zM18.6 49.6h3.1v3.1h-3.1zM21.7 3.1h3.1v3.1h-3.1zM21.7 34.1h3.1v3.1h-3.1zM21.7 40.3h3.1v3.1h-3.1zM21.7 46.5h3.1v3.1h-3.1zM27.9 31h3.1v3.1h-3.1zM34.1 3.1h3.1v3.1h-3.1zM34.1 31h3.1v3.1h-3.1zM37.2 40.3h3.1v3.1h-3.1zM40.3 27.9h3.1v3.1h-3.1zM43.4 6.2h3.1v3.1h-3.1zM43.4 12.4h3.1v3.1h-3.1zM43.4 27.9h3.1v3.1h-3.1zM43.4 43.4h3.1v3.1h-3.1zM43.4 49.6h3.1v3.1h-3.1zM46.5 15.5h3.1v3.1h-3.1zM46.5 46.5h3.1v3.1h-3.1zM49.6 3.1h3.1v3.1h-3.1zM49.6 31h3.1v3.1h-3.1zM49.6 46.5h3.1v3.1h-3.1z" fill="#0010c8" fill-opacity="0.2"/><path d="M0 18.6h3.1v3.1h-3.1zM6.2 24.8h3.1v3.1h-3.1zM6.2 31h3.1v3.1h-3.1zM6.2 46.5h3.1v3.1h-3.1zM21.7 18.6h3.1v3.1h-3.1zM24.8 27.9h3.1v3.1h-3.1zM24.8 46.5h3.1v3.1h-3.1zM27.9 0h3.1v3.1h-3.1zM27.9 6.2h3.1v3.1h-3.1zM31 40.3h3.1v3.1h-3.1zM34.1 21.7h3.1v3.1h-3.1zM37.2 31h3.1v3.1h-3.1zM40.3 0h3.1v3.1h-3.1zM49.6 9.3h3.1v3.1h-3.1zM49.6 34.1h3.1v3.1h-3.1z" fill="#0010c8" fill-opacity="0.3"/><path d="M0 24.8h3.1v3.1h-3.1zM3.1 46.5h3.1v3.1h-3.1zM6.2 43.4h3.1v3.1h-3.1zM6.2 49.6h3.1v3.1h-3.1zM15.5 0h3.1v3.1h-3.1zM15.5 43.4h3.1v3.1h-3.1zM15.5 46.5h3.1v3.1h-3.1zM18.6 0h3.1v3.1h-3.1zM24.8 6.2h3.1v3.1h-3.1zM27.9 21.7h3.1v3.1h-3.1zM31 24.8h3.1v3.1h-3.1zM34.1 12.4h3.1v3.1h-3.1zM37.2 21.7h3.1v3.1h-3.1zM37.2 49.6h3.1v3.1h-3.1z" fill="#30c890" fill-opacity="0.3"/><path d="M0 27.9h3.1v3.1h-3.1zM3.1 31h3.1v3.1h-3.1zM3.1 37.2h3.1v3.1h-3.1zM12.4 0h3.1v3.1h-3.1zM21.7 27.9h3.1v3.1h-3.1zM24.8 34.1h3.1v3.1h-3.1zM31 6.2h3.1v3.1h-3.1zM31 27.9h3.1v3.1h-3.1zM34.1 27.9h3.1v3.1h-3.1zM37.2 3.1h3.1v3.1h-3.1zM37.2 6.2h3.1v3.1h-3.1zM37.2 15.5h3.1v3.1h-3.1zM37.2 18.6h3.1v3.1h-3.1zM43.4 31h3.1v3.1h-3.1zM46.5 40.3h3.1v3.1h-3.1zM49.6 24.8h3.1v3.1h-3.1zM49.6 43.4h3.1v3.1h-3.1z" fill="#000030" fill-opacity="0.3"/><path d="M0 37.2h3.1v3.1h-3.1zM0 40.3h3.1v3.1h-3.1zM3.1 0h3.1v3.1h-3.1zM3.1 9.3h3.1v3.1h-3.1zM3.1 27.9h3.1v3.1h-3.1zM3.1 40.3h3.1v3.1h-3.1zM12.4 3.1h3.1v3.1h-3.1zM12.4 27.9h3.1v3.1h-3.1zM15.5 15.5h3.1v3.1h-3.1zM18.6 9.3h3.1v3.1h-3.1zM18.6 34.1h3.1v3.1h-3.1zM18.6 43.4h3.1v3.1h-3.1zM21.7 9.3h3.1v3.1h-3.1zM24.8 40.3h3.1v3.1h-3.1zM27.9 3.1h3.1v3.1h-3.1zM27.9 9.3h3.1v3.1h-3.1zM27.9 12.4h3.1v3.1h-3.1zM27.9 37.2h3.1v3.1h-3.1zM31 3.1h3.1v3.1h-3.1zM31 18.6h3.1v3.1h-3.1zM34.1 0h3.1v3.1h-3.1zM37.2 9.3h3.1v3.1h-3.1zM37.2 24.8h3.1v3.1h-3.1zM37.2 37.2h3.1v3.1h-3.1zM40.3 6.2h3.1v3.1h-3.1zM40.3 31h3.1v3.1h-3.1zM40.3 34.1h3.1v3.1h-3.1zM40.3 43.4h3.1v3.1h-3.1zM43.4 0h3.1v3.1h-3.1zM43.4 18.6h3.1v3.1h-3.1zM46.5 0h3.1v3.1h-3.1zM46.5 3.1h3.1v3.1h-3.1zM46.5 18.6h3.1v3.1h-3.1zM46.5 34.1h3.1v3.1h-3.1zM49.6 27.9h3.1v3.1h-3.1z" fill="#000030" fill-opacity="0.2"/><path d="M3.1 3.1h3.1v3.1h-3.1zM3.1 49.6h3.1v3.1h-3.1zM6.2 18.6h3.1v3.1h-3.1zM6.2 40.3h3.1v3.1h-3.1zM9.3 3.1h3.1v3.1h-3.1zM9.3 49.6h3.1v3.1h-3.1zM12.4 21.7h3.1v3.1h-3.1zM12.4 34.1h3.1v3.1h-3.1zM12.4 49.6h3.1v3.1h-3.1zM15.5 27.9h3.1v3.1h-3.1zM15.5 34.1h3.1v3.1h-3.1zM18.6 12.4h3.1v3.1h-3.1zM21.7 6.2h3.1v3.1h-3.1zM21.7 31h3.1v3.1h-3.1zM27.9 27.9h3.1v3.1h-3.1zM27.9 40.3h3.1v3.1h-3.1zM31 21.7h3.1v3.1h-3.1zM31 43.4h3.1v3.1h-3.1zM46.5 6.2h3.1v3.1h-3.1zM49.6 6.2h3.1v3.1h-3.1zM49.6 18.6h3.1v3.1h-3.1zM49.6 40.3h3.1v3.1h-3.1zM49.6 49.6h3.1v3.1h-3.1z" fill="#30c890" fill-opacity="0.1"/><path d="M3.1 34.1h3.1v3.1h-3.1zM6.2 37.2h3.1v3.1h-3.1zM9.3 0h3.1v3.1h-3.1zM9.3 40.3h3.1v3.1h-3.1zM12.4 12.4h3.1v3.1h-3.1zM15.5 18.6h3.1v3.1h-3.1zM15.5 37.2h3.1v3.1h-3.1zM15.5 40.3h3.1v3.1h-3.1zM18.6 3.1h3.1v3.1h-3.1zM21.7 12.4h3.1v3.1h-3.1zM24.8 0h3.1v3.1h-3.1zM24.8 21.7h3.1v3.1h-3.1zM27.9 15.5h3.1v3.1h-3.1zM27.9 43.4h3.1v3.1h-3.1zM31 37.2h3.1v3.1h-3.1zM31 49.6h3.1v3.1h-3.1zM34.1 15.5h3.1v3.1h-3.1zM34.1 49.6h3.1v3.1h-3.1zM40.3 49.6h3.1v3.1h-3.1zM43.4 15.5h3.1v3.1h-3.1zM43.4 24.8h3.1v3.1h-3.1zM43.4 40.3h3.1v3.1h-3.1zM46.5 31h3.1v3.1h-3.1zM49.6 15.5h3.1v3.1h-3.1z" fill="#0010c8" fill-opacity="0.1"/><path d="M9.3 6.2h3.1v3.1h-3.1zM9.3 31h3.1v3.1h-3.1zM12.4 31h3.1v3.1h-3.1zM15.5 12.4h3.1v3.1h-3.1zM15.5 49.6h3.1v3.1h-3.1zM18.6 40.3h3.1v3.1h-3.1zM21.7 15.5h3.1v3.1h-3.1zM21.7 49.6h3.1v3.1h-3.1zM24.8 37.2h3.1v3.1h-3.1zM34.1 6.2h3.1v3.1h-3.1zM34.1 9.3h3.1v3.1h-3.1zM34.1 18.6h3.1v3.1h-3.1zM34.1 40.3h3.1v3.1h-3.1zM37.2 34.1h3.1v3.1h-3.1zM37.2 46.5h3.1v3.1h-3.1zM40.3 15.5h3.1v3.1h-3.1zM40.3 18.6h3.1v3.1h-3.1zM40.3 24.8h3.1v3.1h-3.1zM40.3 40.3h3.1v3.1h-3.1zM40.3 46.5h3.1v3.1h-3.1zM43.4 34.1h3.1v3.1h-3.1zM46.5 24.8h3.1v3.1h-3.1zM49.6 12.4h3.1v3.1h-3.1z" fill="#000030" fill-opacity="0.1"/></pattern><pattern id="nwarm" width="71.3" height="71.3" patternUnits="userSpaceOnUse"><path d="M0 0h3.1v3.1h-3.1zM0 27.9h3.1v3.1h-3.1zM0 43.4h3.1v3.1h-3.1zM9.3 21.7h3.1v3.1h-3.1zM12.4 40.3h3.1v3.1h-3.1zM15.5 6.2h3.1v3.1h-3.1zM15.5 40.3h3.1v3.1h-3.1zM15.5 55.8h3.1v3.1h-3.1zM15.5 68.2h3.1v3.1h-3.1zM18.6 37.2h3.1v3.1h-3.1zM21.7 12.4h3.1v3.1h-3.1zM21.7 46.5h3.1v3.1h-3.1zM24.8 46.5h3.1v3.1h-3.1zM27.9 43.4h3.1v3.1h-3.1zM31 6.2h3.1v3.1h-3.1zM31 68.2h3.1v3.1h-3.1zM46.5 52.7h3.1v3.1h-3.1zM49.6 0h3.1v3.1h-3.1zM49.6 55.8h3.1v3.1h-3.1zM52.7 49.6h3.1v3.1h-3.1zM55.8 3.1h3.1v3.1h-3.1zM55.8 40.3h3.1v3.1h-3.1zM55.8 49.6h3.1v3.1h-3.1zM55.8 65.1h3.1v3.1h-3.1zM68.2 18.6h3.1v3.1h-3.1zM68.2 49.6h3.1v3.1h-3.1z" fill="#ffff30" fill-opacity="0.2"/><path d="M0 3.1h3.1v3.1h-3.1zM3.1 24.8h3.1v3.1h-3.1zM6.2 3.1h3.1v3.1h-3.1zM6.2 27.9h3.1v3.1h-3.1zM9.3 27.9h3.1v3.1h-3.1zM9.3 31h3.1v3.1h-3.1zM9.3 55.8h3.1v3.1h-3.1zM12.4 3.1h3.1v3.1h-3.1zM18.6 0h3.1v3.1h-3.1zM18.6 9.3h3.1v3.1h-3.1zM18.6 34.1h3.1v3.1h-3.1zM18.6 52.7h3.1v3.1h-3.1zM18.6 55.8h3.1v3.1h-3.1zM18.6 62h3.1v3.1h-3.1zM21.7 62h3.1v3.1h-3.1zM24.8 65.1h3.1v3.1h-3.1zM31 9.3h3.1v3.1h-3.1zM34.1 18.6h3.1v3.1h-3.1zM34.1 52.7h3.1v3.1h-3.1zM43.4 3.1h3.1v3.1h-3.1zM43.4 15.5h3.1v3.1h-3.1zM43.4 27.9h3.1v3.1h-3.1zM43.4 68.2h3.1v3.1h-3.1zM52.7 21.7h3.1v3.1h-3.1zM58.9 12.4h3.1v3.1h-3.1zM58.9 55.8h3.1v3.1h-3.1zM68.2 37.2h3.1v3.1h-3.1z" fill="#ffd000" fill-opacity="0.3"/><path d="M0 6.2h3.1v3.1h-3.1zM0 65.1h3.1v3.1h-3.1zM6.2 24.8h3.1v3.1h-3.1zM6.2 37.2h3.1v3.1h-3.1zM6.2 52.7h3.1v3.1h-3.1zM9.3 0h3.1v3.1h-3.1zM9.3 65.1h3.1v3.1h-3.1zM12.4 0h3.1v3.1h-3.1zM15.5 37.2h3.1v3.1h-3.1zM21.7 55.8h3.1v3.1h-3.1zM21.7 68.2h3.1v3.1h-3.1zM24.8 6.2h3.1v3.1h-3.1zM24.8 9.3h3.1v3.1h-3.1zM24.8 34.1h3.1v3.1h-3.1zM27.9 0h3.1v3.1h-3.1zM27.9 49.6h3.1v3.1h-3.1zM27.9 65.1h3.1v3.1h-3.1zM31 62h3.1v3.1h-3.1zM37.2 68.2h3.1v3.1h-3.1zM46.5 6.2h3.1v3.1h-3.1zM52.7 62h3.1v3.1h-3.1zM55.8 34.1h3.1v3.1h-3.1zM55.8 37.2h3.1v3.1h-3.1zM55.8 58.9h3.1v3.1h-3.1zM58.9 3.1h3.1v3.1h-3.1zM62 65.1h3.1v3.1h-3.1zM65.1 21.7h3.1v3.1h-3.1zM65.1 40.3h3.1v3.1h-3.1zM68.2 40.3h3.1v3.1h-3.1zM68.2 55.8h3.1v3.1h-3.1zM68.2 58.9h3.1v3.1h-3.1z" fill="#ff5000" fill-opacity="0.3"/><path d="M0 9.3h3.1v3.1h-3.1zM15.5 31h3.1v3.1h-3.1zM18.6 21.7h3.1v3.1h-3.1zM21.7 49.6h3.1v3.1h-3.1zM31 43.4h3.1v3.1h-3.1zM43.4 34.1h3.1v3.1h-3.1zM43.4 65.1h3.1v3.1h-3.1zM46.5 37.2h3.1v3.1h-3.1zM46.5 49.6h3.1v3.1h-3.1zM52.7 27.9h3.1v3.1h-3.1zM55.8 0h3.1v3.1h-3.1zM55.8 43.4h3.1v3.1h-3.1zM58.9 15.5h3.1v3.1h-3.1zM58.9 65.1h3.1v3.1h-3.1zM68.2 34.1h3.1v3.1h-3.1z" fill="#ffff30" fill-opacity="0.1"/><path d="M0 12.4h3.1v3.1h-3.1zM0 24.8h3.1v3.1h-3.1zM3.1 27.9h3.1v3.1h-3.1zM9.3 24.8h3.1v3.1h-3.1zM12.4 9.3h3.1v3.1h-3.1zM21.7 15.5h3.1v3.1h-3.1zM24.8 3.1h3.1v3.1h-3.1zM24.8 12.4h3.1v3.1h-3.1zM24.8 31h3.1v3.1h-3.1zM24.8 40.3h3.1v3.1h-3.1zM31 37.2h3.1v3.1h-3.1zM31 52.7h3.1v3.1h-3.1zM34.1 40.3h3.1v3.1h-3.1zM37.2 27.9h3.1v3.1h-3.1zM40.3 6.2h3.1v3.1h-3.1zM46.5 18.6h3.1v3.1h-3.1zM46.5 27.9h3.1v3.1h-3.1zM49.6 6.2h3.1v3.1h-3.1zM49.6 15.5h3.1v3.1h-3.1zM49.6 27.9h3.1v3.1h-3.1zM49.6 34.1h3.1v3.1h-3.1zM52.7 52.7h3.1v3.1h-3.1zM58.9 21.7h3.1v3.1h-3.1zM62 12.4h3.1v3.1h-3.1zM68.2 46.5h3.1v3.1h-3.1z" fill="#c00000" fill-opacity="0.3"/><path d="M0 15.5h3.1v3.1h-3.1zM0 62h3.1v3.1h-3.1zM3.1 31h3.1v3.1h-3.1zM3.1 58.9h3.1v3.1h-3.1zM9.3 3.1h3.1v3.1h-3.1zM15.5 27.9h3.1v3.1h-3.1zM18.6 12.4h3.1v3.1h-3.1zM18.6 49.6h3.1v3.1h-3.1zM21.7 18.6h3.1v3.1h-3.1zM21.7 21.7h3.1v3.1h-3.1zM27.9 6.2h3.1v3.1h-3.1zM31 12.4h3.1v3.1h-3.1zM31 55.8h3.1v3.1h-3.1zM34.1 24.8h3.1v3.1h-3.1zM37.2 0h3.1v3.1h-3.1zM40.3 31h3.1v3.1h-3.1zM40.3 55.8h3.1v3.1h-3.1zM40.3 65.1h3.1v3.1h-3.1zM43.4 18.6h3.1v3.1h-3.1zM43.4 37.2h3.1v3.1h-3.1zM43.4 52.7h3.1v3.1h-3.1zM46.5 0h3.1v3.1h-3.1zM46.5 65.1h3.1v3.1h-3.1zM49.6 43.4h3.1v3.1h-3.1zM49.6 62h3.1v3.1h-3.1zM52.7 18.6h3.1v3.1h-3.1zM52.7 40.3h3.1v3.1h-3.1zM58.9 24.8h3.1v3.1h-3.1zM62 43.4h3.1v3.1h-3.1zM65.1 9.3h3.1v3.1h-3.1zM65.1 68.2h3.1v3.1h-3.1z" fill="#ff8000" fill-opacity="0.3"/><path d="M0 18.6h3.1v3.1h-3.1zM3.1 9.3h3.1v3.1h-3.1zM3.1 62h3.1v3.1h-3.1zM6.2 21.7h3.1v3.1h-3.1zM6.2 68.2h3.1v3.1h-3.1zM9.3 34.1h3.1v3.1h-3.1zM12.4 43.4h3.1v3.1h-3.1zM15.5 24.8h3.1v3.1h-3.1zM21.7 3.1h3.1v3.1h-3.1zM21.7 40.3h3.1v3.1h-3.1zM24.8 55.8h3.1v3.1h-3.1zM27.9 18.6h3.1v3.1h-3.1zM27.9 21.7h3.1v3.1h-3.1zM31 3.1h3.1v3.1h-3.1zM31 65.1h3.1v3.1h-3.1zM34.1 0h3.1v3.1h-3.1zM34.1 34.1h3.1v3.1h-3.1zM37.2 21.7h3.1v3.1h-3.1zM37.2 62h3.1v3.1h-3.1zM40.3 49.6h3.1v3.1h-3.1zM43.4 21.7h3.1v3.1h-3.1zM46.5 24.8h3.1v3.1h-3.1zM49.6 18.6h3.1v3.1h-3.1zM49.6 49.6h3.1v3.1h-3.1zM49.6 52.7h3.1v3.1h-3.1zM49.6 58.9h3.1v3.1h-3.1zM52.7 31h3.1v3.1h-3.1zM58.9 37.2h3.1v3.1h-3.1zM58.9 43.4h3.1v3.1h-3.1zM62 27.9h3.1v3.1h-3.1zM62 68.2h3.1v3.1h-3.1zM65.1 55.8h3.1v3.1h-3.1zM68.2 12.4h3.1v3.1h-3.1zM68.2 27.9h3.1v3.1h-3.1z" fill="#ff8000" fill-opacity="0.2"/><path d="M0 21.7h3.1v3.1h-3.1zM15.5 18.6h3.1v3.1h-3.1zM18.6 40.3h3.1v3.1h-3.1zM24.8 21.7h3.1v3.1h-3.1zM24.8 43.4h3.1v3.1h-3.1zM34.1 37.2h3.1v3.1h-3.1zM37.2 6.2h3.1v3.1h-3.1zM37.2 43.4h3.1v3.1h-3.1zM43.4 40.3h3.1v3.1h-3.1zM46.5 46.5h3.1v3.1h-3.1zM49.6 12.4h3.1v3.1h-3.1zM52.7 24.8h3.1v3.1h-3.1zM62 21.7h3.1v3.1h-3.1zM62 62h3.1v3.1h-3.1zM65.1 27.9h3.1v3.1h-3.1zM68.2 0h3.1v3.1h-3.1zM68.2 21.7h3.1v3.1h-3.1zM68.2 68.2h3.1v3.1h-3.1z" fill="#c00000" fill-opacity="0.4"/><path d="M0 31h3.1v3.1h-3.1zM3.1 0h3.1v3.1h-3.1zM3.1 34.1h3.1v3.1h-3.1zM12.4 24.8h3.1v3.1h-3.1zM12.4 34.1h3.1v3.1h-3.1zM12.4 55.8h3.1v3.1h-3.1zM15.5 0h3.1v3.1h-3.1zM15.5 9.3h3.1v3.1h-3.1zM15.5 12.4h3.1v3.1h-3.1zM18.6 46.5h3.1v3.1h-3.1zM27.9 55.8h3.1v3.1h-3.1zM31 46.5h3.1v3.1h-3.1zM34.1 12.4h3.1v3.1h-3.1zM34.1 15.5h3.1v3.1h-3.1zM34.1 58.9h3.1v3.1h-3.1zM37.2 3.1h3.1v3.1h-3.1zM37.2 18.6h3.1v3.1h-3.1zM37.2 24.8h3.1v3.1h-3.1zM37.2 46.5h3.1v3.1h-3.1zM40.3 68.2h3.1v3.1h-3.1zM43.4 43.4h3.1v3.1h-3.1zM46.5 12.4h3.1v3.1h-3.1zM49.6 3.1h3.1v3.1h-3.1zM52.7 55.8h3.1v3.1h-3.1zM55.8 15.5h3.1v3.1h-3.1zM55.8 21.7h3.1v3.1h-3.1zM58.9 34.1h3.1v3.1h-3.1zM58.9 68.2h3.1v3.1h-3.1zM62 40.3h3.1v3.1h-3.1zM65.1 31h3.1v3.1h-3.1zM68.2 65.1h3.1v3.1h-3.1z" fill="#ff5000" fill-opacity="0.2"/><path d="M0 34.1h3.1v3.1h-3.1zM0 58.9h3.1v3.1h-3.1zM3.1 6.2h3.1v3.1h-3.1zM3.1 12.4h3.1v3.1h-3.1zM6.2 31h3.1v3.1h-3.1zM6.2 55.8h3.1v3.1h-3.1zM9.3 15.5h3.1v3.1h-3.1zM9.3 43.4h3.1v3.1h-3.1zM9.3 62h3.1v3.1h-3.1zM12.4 12.4h3.1v3.1h-3.1zM12.4 15.5h3.1v3.1h-3.1zM12.4 21.7h3.1v3.1h-3.1zM18.6 65.1h3.1v3.1h-3.1zM21.7 24.8h3.1v3.1h-3.1zM21.7 52.7h3.1v3.1h-3.1zM24.8 37.2h3.1v3.1h-3.1zM27.9 62h3.1v3.1h-3.1zM31 15.5h3.1v3.1h-3.1zM31 40.3h3.1v3.1h-3.1zM34.1 68.2h3.1v3.1h-3.1zM37.2 12.4h3.1v3.1h-3.1zM37.2 49.6h3.1v3.1h-3.1zM37.2 52.7h3.1v3.1h-3.1zM43.4 31h3.1v3.1h-3.1zM43.4 62h3.1v3.1h-3.1zM46.5 55.8h3.1v3.1h-3.1zM49.6 46.5h3.1v3.1h-3.1zM55.8 68.2h3.1v3.1h-3.1zM58.9 6.2h3.1v3.1h-3.1zM58.9 49.6h3.1v3.1h-3.1zM62 9.3h3.1v3.1h-3.1zM62 31h3.1v3.1h-3.1zM62 58.9h3.1v3.1h-3.1zM65.1 34.1h3.1v3.1h-3.1zM65.1 46.5h3.1v3.1h-3.1zM68.2 6.2h3.1v3.1h-3.1z" fill="#ffd000" fill-opacity="0.2"/><path d="M0 37.2h3.1v3.1h-3.1zM3.1 3.1h3.1v3.1h-3.1zM3.1 49.6h3.1v3.1h-3.1zM3.1 68.2h3.1v3.1h-3.1zM6.2 40.3h3.1v3.1h-3.1zM6.2 58.9h3.1v3.1h-3.1zM6.2 65.1h3.1v3.1h-3.1zM9.3 9.3h3.1v3.1h-3.1zM9.3 46.5h3.1v3.1h-3.1zM9.3 68.2h3.1v3.1h-3.1zM12.4 27.9h3.1v3.1h-3.1zM12.4 49.6h3.1v3.1h-3.1zM12.4 65.1h3.1v3.1h-3.1zM15.5 34.1h3.1v3.1h-3.1zM18.6 3.1h3.1v3.1h-3.1zM18.6 43.4h3.1v3.1h-3.1zM27.9 52.7h3.1v3.1h-3.1zM31 18.6h3.1v3.1h-3.1zM31 34.1h3.1v3.1h-3.1zM34.1 6.2h3.1v3.1h-3.1zM34.1 46.5h3.1v3.1h-3.1zM34.1 65.1h3.1v3.1h-3.1zM37.2 58.9h3.1v3.1h-3.1zM40.3 9.3h3.1v3.1h-3.1zM40.3 34.1h3.1v3.1h-3.1zM40.3 40.3h3.1v3.1h-3.1zM46.5 3.1h3.1v3.1h-3.1zM52.7 0h3.1v3.1h-3.1zM52.7 6.2h3.1v3.1h-3.1zM52.7 68.2h3.1v3.1h-3.1zM55.8 55.8h3.1v3.1h-3.1zM58.9 62h3.1v3.1h-3.1zM62 3.1h3.1v3.1h-3.1zM65.1 12.4h3.1v3.1h-3.1z" fill="#c00000" fill-opacity="0.2"/><path d="M0 40.3h3.1v3.1h-3.1zM0 49.6h3.1v3.1h-3.1zM6.2 12.4h3.1v3.1h-3.1zM6.2 15.5h3.1v3.1h-3.1zM15.5 3.1h3.1v3.1h-3.1zM15.5 46.5h3.1v3.1h-3.1zM18.6 27.9h3.1v3.1h-3.1zM18.6 68.2h3.1v3.1h-3.1zM24.8 0h3.1v3.1h-3.1zM24.8 24.8h3.1v3.1h-3.1zM27.9 58.9h3.1v3.1h-3.1zM34.1 55.8h3.1v3.1h-3.1zM37.2 34.1h3.1v3.1h-3.1zM40.3 3.1h3.1v3.1h-3.1zM43.4 0h3.1v3.1h-3.1zM43.4 58.9h3.1v3.1h-3.1zM46.5 68.2h3.1v3.1h-3.1zM49.6 9.3h3.1v3.1h-3.1zM49.6 31h3.1v3.1h-3.1zM52.7 9.3h3.1v3.1h-3.1zM52.7 43.4h3.1v3.1h-3.1zM55.8 18.6h3.1v3.1h-3.1zM55.8 46.5h3.1v3.1h-3.1zM58.9 9.3h3.1v3.1h-3.1zM58.9 52.7h3.1v3.1h-3.1zM62 24.8h3.1v3.1h-3.1zM62 52.7h3.1v3.1h-3.1zM62 55.8h3.1v3.1h-3.1zM65.1 3.1h3.1v3.1h-3.1zM65.1 24.8h3.1v3.1h-3.1zM65.1 52.7h3.1v3.1h-3.1z" fill="#ff1000" fill-opacity="0.2"/><path d="M0 46.5h3.1v3.1h-3.1zM15.5 21.7h3.1v3.1h-3.1zM21.7 58.9h3.1v3.1h-3.1zM27.9 24.8h3.1v3.1h-3.1zM27.9 27.9h3.1v3.1h-3.1zM43.4 49.6h3.1v3.1h-3.1zM58.9 18.6h3.1v3.1h-3.1zM68.2 3.1h3.1v3.1h-3.1zM68.2 62h3.1v3.1h-3.1z" fill="#ff8000" fill-opacity="0.1"/><path d="M0 52.7h3.1v3.1h-3.1zM0 55.8h3.1v3.1h-3.1zM0 68.2h3.1v3.1h-3.1zM3.1 65.1h3.1v3.1h-3.1zM12.4 31h3.1v3.1h-3.1zM18.6 18.6h3.1v3.1h-3.1zM21.7 6.2h3.1v3.1h-3.1zM24.8 18.6h3.1v3.1h-3.1zM27.9 12.4h3.1v3.1h-3.1zM31 49.6h3.1v3.1h-3.1zM37.2 65.1h3.1v3.1h-3.1zM40.3 21.7h3.1v3.1h-3.1zM46.5 43.4h3.1v3.1h-3.1zM49.6 37.2h3.1v3.1h-3.1zM52.7 3.1h3.1v3.1h-3.1zM55.8 62h3.1v3.1h-3.1zM62 15.5h3.1v3.1h-3.1z" fill="#ff8000" fill-opacity="0.4"/><path d="M3.1 15.5h3.1v3.1h-3.1zM3.1 18.6h3.1v3.1h-3.1zM6.2 18.6h3.1v3.1h-3.1zM6.2 46.5h3.1v3.1h-3.1zM12.4 18.6h3.1v3.1h-3.1zM12.4 58.9h3.1v3.1h-3.1zM12.4 62h3.1v3.1h-3.1zM12.4 68.2h3.1v3.1h-3.1zM15.5 65.1h3.1v3.1h-3.1zM18.6 6.2h3.1v3.1h-3.1zM18.6 15.5h3.1v3.1h-3.1zM18.6 31h3.1v3.1h-3.1zM21.7 31h3.1v3.1h-3.1zM21.7 43.4h3.1v3.1h-3.1zM24.8 49.6h3.1v3.1h-3.1zM31 0h3.1v3.1h-3.1zM34.1 3.1h3.1v3.1h-3.1zM40.3 15.5h3.1v3.1h-3.1zM40.3 52.7h3.1v3.1h-3.1zM43.4 6.2h3.1v3.1h-3.1zM43.4 9.3h3.1v3.1h-3.1zM46.5 34.1h3.1v3.1h-3.1zM46.5 62h3.1v3.1h-3.1zM49.6 24.8h3.1v3.1h-3.1zM52.7 37.2h3.1v3.1h-3.1zM55.8 12.4h3.1v3.1h-3.1zM58.9 27.9h3.1v3.1h-3.1zM58.9 40.3h3.1v3.1h-3.1zM58.9 58.9h3.1v3.1h-3.1zM62 34.1h3.1v3.1h-3.1zM62 37.2h3.1v3.1h-3.1zM65.1 0h3.1v3.1h-3.1zM65.1 65.1h3.1v3.1h-3.1z" fill="#ffff30" fill-opacity="0.3"/><path d="M3.1 21.7h3.1v3.1h-3.1zM9.3 52.7h3.1v3.1h-3.1zM15.5 62h3.1v3.1h-3.1zM31 24.8h3.1v3.1h-3.1zM34.1 43.4h3.1v3.1h-3.1zM46.5 21.7h3.1v3.1h-3.1zM46.5 31h3.1v3.1h-3.1zM46.5 58.9h3.1v3.1h-3.1zM55.8 6.2h3.1v3.1h-3.1zM58.9 46.5h3.1v3.1h-3.1z" fill="#ffd000" fill-opacity="0.1"/><path d="M3.1 37.2h3.1v3.1h-3.1zM3.1 43.4h3.1v3.1h-3.1zM6.2 0h3.1v3.1h-3.1zM6.2 9.3h3.1v3.1h-3.1zM12.4 37.2h3.1v3.1h-3.1zM12.4 46.5h3.1v3.1h-3.1zM15.5 49.6h3.1v3.1h-3.1zM27.9 68.2h3.1v3.1h-3.1zM34.1 62h3.1v3.1h-3.1zM37.2 9.3h3.1v3.1h-3.1zM43.4 55.8h3.1v3.1h-3.1zM52.7 15.5h3.1v3.1h-3.1zM55.8 31h3.1v3.1h-3.1zM65.1 15.5h3.1v3.1h-3.1zM65.1 37.2h3.1v3.1h-3.1zM65.1 62h3.1v3.1h-3.1z" fill="#ffd000" fill-opacity="0.4"/><path d="M3.1 40.3h3.1v3.1h-3.1zM9.3 12.4h3.1v3.1h-3.1zM24.8 68.2h3.1v3.1h-3.1zM27.9 3.1h3.1v3.1h-3.1zM31 58.9h3.1v3.1h-3.1zM40.3 46.5h3.1v3.1h-3.1zM40.3 58.9h3.1v3.1h-3.1zM49.6 40.3h3.1v3.1h-3.1z" fill="#ff1000" fill-opacity="0.4"/><path d="M3.1 46.5h3.1v3.1h-3.1zM6.2 6.2h3.1v3.1h-3.1zM6.2 34.1h3.1v3.1h-3.1zM12.4 52.7h3.1v3.1h-3.1zM15.5 52.7h3.1v3.1h-3.1zM15.5 58.9h3.1v3.1h-3.1zM21.7 9.3h3.1v3.1h-3.1zM24.8 27.9h3.1v3.1h-3.1zM24.8 58.9h3.1v3.1h-3.1zM27.9 9.3h3.1v3.1h-3.1zM27.9 31h3.1v3.1h-3.1zM27.9 37.2h3.1v3.1h-3.1zM27.9 40.3h3.1v3.1h-3.1zM31 31h3.1v3.1h-3.1zM37.2 15.5h3.1v3.1h-3.1zM37.2 37.2h3.1v3.1h-3.1zM40.3 12.4h3.1v3.1h-3.1zM40.3 18.6h3.1v3.1h-3.1zM43.4 24.8h3.1v3.1h-3.1zM43.4 46.5h3.1v3.1h-3.1zM46.5 9.3h3.1v3.1h-3.1zM46.5 15.5h3.1v3.1h-3.1zM49.6 68.2h3.1v3.1h-3.1zM52.7 12.4h3.1v3.1h-3.1zM52.7 46.5h3.1v3.1h-3.1zM52.7 65.1h3.1v3.1h-3.1zM55.8 9.3h3.1v3.1h-3.1zM55.8 24.8h3.1v3.1h-3.1zM55.8 52.7h3.1v3.1h-3.1zM65.1 18.6h3.1v3.1h-3.1zM65.1 43.4h3.1v3.1h-3.1zM65.1 49.6h3.1v3.1h-3.1z" fill="#ff1000" fill-opacity="0.3"/><path d="M3.1 52.7h3.1v3.1h-3.1zM9.3 18.6h3.1v3.1h-3.1zM9.3 37.2h3.1v3.1h-3.1zM9.3 49.6h3.1v3.1h-3.1zM12.4 6.2h3.1v3.1h-3.1zM21.7 0h3.1v3.1h-3.1zM21.7 27.9h3.1v3.1h-3.1zM21.7 34.1h3.1v3.1h-3.1zM34.1 21.7h3.1v3.1h-3.1zM34.1 49.6h3.1v3.1h-3.1zM52.7 58.9h3.1v3.1h-3.1zM62 6.2h3.1v3.1h-3.1zM62 18.6h3.1v3.1h-3.1zM62 46.5h3.1v3.1h-3.1zM65.1 6.2h3.1v3.1h-3.1zM68.2 52.7h3.1v3.1h-3.1z" fill="#ffff30" fill-opacity="0.4"/><path d="M3.1 55.8h3.1v3.1h-3.1zM6.2 49.6h3.1v3.1h-3.1zM9.3 6.2h3.1v3.1h-3.1zM18.6 58.9h3.1v3.1h-3.1zM27.9 46.5h3.1v3.1h-3.1zM34.1 27.9h3.1v3.1h-3.1zM40.3 24.8h3.1v3.1h-3.1zM40.3 27.9h3.1v3.1h-3.1zM68.2 31h3.1v3.1h-3.1z" fill="#c00000" fill-opacity="0.1"/><path d="M6.2 43.4h3.1v3.1h-3.1zM21.7 37.2h3.1v3.1h-3.1zM24.8 52.7h3.1v3.1h-3.1zM34.1 31h3.1v3.1h-3.1zM40.3 37.2h3.1v3.1h-3.1zM40.3 62h3.1v3.1h-3.1zM46.5 40.3h3.1v3.1h-3.1zM52.7 34.1h3.1v3.1h-3.1zM62 0h3.1v3.1h-3.1zM68.2 9.3h3.1v3.1h-3.1zM68.2 15.5h3.1v3.1h-3.1zM68.2 24.8h3.1v3.1h-3.1zM68.2 43.4h3.1v3.1h-3.1z" fill="#ff1000" fill-opacity="0.1"/><path d="M6.2 62h3.1v3.1h-3.1zM9.3 58.9h3.1v3.1h-3.1zM15.5 15.5h3.1v3.1h-3.1zM18.6 24.8h3.1v3.1h-3.1zM27.9 34.1h3.1v3.1h-3.1zM31 21.7h3.1v3.1h-3.1zM31 27.9h3.1v3.1h-3.1zM37.2 40.3h3.1v3.1h-3.1zM40.3 43.4h3.1v3.1h-3.1zM43.4 12.4h3.1v3.1h-3.1zM65.1 58.9h3.1v3.1h-3.1z" fill="#ff5000" fill-opacity="0.1"/><path d="M9.3 40.3h3.1v3.1h-3.1zM15.5 43.4h3.1v3.1h-3.1zM21.7 65.1h3.1v3.1h-3.1zM24.8 15.5h3.1v3.1h-3.1zM24.8 62h3.1v3.1h-3.1zM27.9 15.5h3.1v3.1h-3.1zM34.1 9.3h3.1v3.1h-3.1zM37.2 31h3.1v3.1h-3.1zM37.2 55.8h3.1v3.1h-3.1zM40.3 0h3.1v3.1h-3.1zM49.6 21.7h3.1v3.1h-3.1zM49.6 65.1h3.1v3.1h-3.1zM55.8 27.9h3.1v3.1h-3.1zM58.9 0h3.1v3.1h-3.1zM58.9 31h3.1v3.1h-3.1zM62 49.6h3.1v3.1h-3.1z" fill="#ff5000" fill-opacity="0.4"/></pattern><pattern id="nwarm2" width="58.9" height="58.9" patternUnits="userSpaceOnUse"><path d="M0 0h3.1v3.1h-3.1zM6.2 43.4h3.1v3.1h-3.1zM9.3 21.7h3.1v3.1h-3.1zM12.4 0h3.1v3.1h-3.1zM12.4 18.6h3.1v3.1h-3.1zM12.4 49.6h3.1v3.1h-3.1zM18.6 21.7h3.1v3.1h-3.1zM18.6 34.1h3.1v3.1h-3.1zM18.6 46.5h3.1v3.1h-3.1zM24.8 18.6h3.1v3.1h-3.1zM27.9 15.5h3.1v3.1h-3.1zM27.9 37.2h3.1v3.1h-3.1zM27.9 55.8h3.1v3.1h-3.1zM31 24.8h3.1v3.1h-3.1zM34.1 21.7h3.1v3.1h-3.1zM37.2 46.5h3.1v3.1h-3.1zM40.3 0h3.1v3.1h-3.1zM43.4 46.5h3.1v3.1h-3.1zM46.5 9.3h3.1v3.1h-3.1zM46.5 21.7h3.1v3.1h-3.1zM49.6 34.1h3.1v3.1h-3.1zM49.6 52.7h3.1v3.1h-3.1zM52.7 3.1h3.1v3.1h-3.1zM55.8 3.1h3.1v3.1h-3.1zM55.8 24.8h3.1v3.1h-3.1zM55.8 49.6h3.1v3.1h-3.1z" fill="#ff4000" fill-opacity="0.3"/><path d="M0 3.1h3.1v3.1h-3.1zM0 46.5h3.1v3.1h-3.1zM6.2 31h3.1v3.1h-3.1zM9.3 55.8h3.1v3.1h-3.1zM27.9 49.6h3.1v3.1h-3.1zM27.9 52.7h3.1v3.1h-3.1zM37.2 9.3h3.1v3.1h-3.1zM40.3 3.1h3.1v3.1h-3.1zM40.3 27.9h3.1v3.1h-3.1zM40.3 37.2h3.1v3.1h-3.1zM46.5 24.8h3.1v3.1h-3.1zM52.7 24.8h3.1v3.1h-3.1zM52.7 34.1h3.1v3.1h-3.1zM55.8 40.3h3.1v3.1h-3.1z" fill="#ffff30" fill-opacity="0.2"/><path d="M0 6.2h3.1v3.1h-3.1zM0 18.6h3.1v3.1h-3.1zM6.2 27.9h3.1v3.1h-3.1zM15.5 6.2h3.1v3.1h-3.1zM15.5 40.3h3.1v3.1h-3.1zM21.7 12.4h3.1v3.1h-3.1zM24.8 43.4h3.1v3.1h-3.1zM27.9 34.1h3.1v3.1h-3.1zM37.2 18.6h3.1v3.1h-3.1zM46.5 40.3h3.1v3.1h-3.1z" fill="#ffe080" fill-opacity="0.1"/><path d="M0 9.3h3.1v3.1h-3.1zM3.1 24.8h3.1v3.1h-3.1zM6.2 34.1h3.1v3.1h-3.1zM9.3 24.8h3.1v3.1h-3.1zM9.3 43.4h3.1v3.1h-3.1zM12.4 52.7h3.1v3.1h-3.1zM15.5 12.4h3.1v3.1h-3.1zM21.7 9.3h3.1v3.1h-3.1zM24.8 6.2h3.1v3.1h-3.1zM24.8 9.3h3.1v3.1h-3.1zM24.8 21.7h3.1v3.1h-3.1zM34.1 46.5h3.1v3.1h-3.1zM37.2 37.2h3.1v3.1h-3.1zM43.4 18.6h3.1v3.1h-3.1zM43.4 40.3h3.1v3.1h-3.1zM43.4 49.6h3.1v3.1h-3.1zM46.5 52.7h3.1v3.1h-3.1zM52.7 12.4h3.1v3.1h-3.1zM52.7 46.5h3.1v3.1h-3.1z" fill="#ff0000" fill-opacity="0.2"/><path d="M0 12.4h3.1v3.1h-3.1zM0 37.2h3.1v3.1h-3.1zM6.2 18.6h3.1v3.1h-3.1zM15.5 3.1h3.1v3.1h-3.1zM15.5 43.4h3.1v3.1h-3.1zM18.6 9.3h3.1v3.1h-3.1zM21.7 24.8h3.1v3.1h-3.1zM24.8 34.1h3.1v3.1h-3.1zM46.5 49.6h3.1v3.1h-3.1zM55.8 12.4h3.1v3.1h-3.1z" fill="#ff0000" fill-opacity="0.1"/><path d="M0 15.5h3.1v3.1h-3.1zM15.5 0h3.1v3.1h-3.1zM15.5 9.3h3.1v3.1h-3.1zM31 12.4h3.1v3.1h-3.1zM37.2 0h3.1v3.1h-3.1zM37.2 31h3.1v3.1h-3.1zM40.3 43.4h3.1v3.1h-3.1zM43.4 21.7h3.1v3.1h-3.1zM43.4 34.1h3.1v3.1h-3.1z" fill="#ff0000" fill-opacity="0.4"/><path d="M0 21.7h3.1v3.1h-3.1zM0 27.9h3.1v3.1h-3.1zM3.1 0h3.1v3.1h-3.1zM3.1 12.4h3.1v3.1h-3.1zM3.1 43.4h3.1v3.1h-3.1zM6.2 52.7h3.1v3.1h-3.1zM9.3 9.3h3.1v3.1h-3.1zM12.4 12.4h3.1v3.1h-3.1zM15.5 34.1h3.1v3.1h-3.1zM24.8 3.1h3.1v3.1h-3.1zM24.8 12.4h3.1v3.1h-3.1zM24.8 24.8h3.1v3.1h-3.1zM27.9 6.2h3.1v3.1h-3.1zM27.9 40.3h3.1v3.1h-3.1zM31 49.6h3.1v3.1h-3.1zM37.2 43.4h3.1v3.1h-3.1zM43.4 43.4h3.1v3.1h-3.1zM46.5 3.1h3.1v3.1h-3.1zM46.5 6.2h3.1v3.1h-3.1zM46.5 27.9h3.1v3.1h-3.1zM46.5 34.1h3.1v3.1h-3.1zM49.6 12.4h3.1v3.1h-3.1zM49.6 43.4h3.1v3.1h-3.1zM52.7 55.8h3.1v3.1h-3.1z" fill="#ff4000" fill-opacity="0.2"/><path d="M0 24.8h3.1v3.1h-3.1zM0 52.7h3.1v3.1h-3.1zM15.5 37.2h3.1v3.1h-3.1zM15.5 55.8h3.1v3.1h-3.1zM18.6 37.2h3.1v3.1h-3.1zM21.7 52.7h3.1v3.1h-3.1zM24.8 46.5h3.1v3.1h-3.1zM34.1 18.6h3.1v3.1h-3.1zM34.1 37.2h3.1v3.1h-3.1zM37.2 34.1h3.1v3.1h-3.1zM52.7 21.7h3.1v3.1h-3.1z" fill="#ff4000" fill-opacity="0.4"/><path d="M0 31h3.1v3.1h-3.1zM9.3 18.6h3.1v3.1h-3.1zM18.6 12.4h3.1v3.1h-3.1zM18.6 15.5h3.1v3.1h-3.1zM18.6 40.3h3.1v3.1h-3.1zM27.9 21.7h3.1v3.1h-3.1zM34.1 52.7h3.1v3.1h-3.1zM40.3 52.7h3.1v3.1h-3.1zM40.3 55.8h3.1v3.1h-3.1zM43.4 15.5h3.1v3.1h-3.1z" fill="#ffd000" fill-opacity="0.1"/><path d="M0 34.1h3.1v3.1h-3.1zM0 49.6h3.1v3.1h-3.1zM6.2 3.1h3.1v3.1h-3.1zM9.3 12.4h3.1v3.1h-3.1zM9.3 49.6h3.1v3.1h-3.1zM12.4 21.7h3.1v3.1h-3.1zM12.4 37.2h3.1v3.1h-3.1zM12.4 55.8h3.1v3.1h-3.1zM15.5 27.9h3.1v3.1h-3.1zM21.7 40.3h3.1v3.1h-3.1zM24.8 37.2h3.1v3.1h-3.1zM24.8 55.8h3.1v3.1h-3.1zM27.9 46.5h3.1v3.1h-3.1zM31 3.1h3.1v3.1h-3.1zM31 21.7h3.1v3.1h-3.1zM31 31h3.1v3.1h-3.1zM31 43.4h3.1v3.1h-3.1zM31 52.7h3.1v3.1h-3.1zM34.1 0h3.1v3.1h-3.1zM34.1 24.8h3.1v3.1h-3.1zM34.1 40.3h3.1v3.1h-3.1zM40.3 9.3h3.1v3.1h-3.1zM40.3 49.6h3.1v3.1h-3.1zM55.8 43.4h3.1v3.1h-3.1z" fill="#ffd000" fill-opacity="0.3"/><path d="M0 40.3h3.1v3.1h-3.1zM6.2 12.4h3.1v3.1h-3.1zM9.3 27.9h3.1v3.1h-3.1zM12.4 9.3h3.1v3.1h-3.1zM18.6 6.2h3.1v3.1h-3.1zM21.7 43.4h3.1v3.1h-3.1zM27.9 9.3h3.1v3.1h-3.1zM31 15.5h3.1v3.1h-3.1zM34.1 12.4h3.1v3.1h-3.1zM40.3 24.8h3.1v3.1h-3.1zM40.3 34.1h3.1v3.1h-3.1zM40.3 40.3h3.1v3.1h-3.1zM43.4 0h3.1v3.1h-3.1zM43.4 12.4h3.1v3.1h-3.1zM46.5 12.4h3.1v3.1h-3.1zM46.5 15.5h3.1v3.1h-3.1zM49.6 3.1h3.1v3.1h-3.1zM49.6 6.2h3.1v3.1h-3.1zM49.6 40.3h3.1v3.1h-3.1z" fill="#ffe080" fill-opacity="0.2"/><path d="M0 43.4h3.1v3.1h-3.1zM6.2 6.2h3.1v3.1h-3.1zM9.3 31h3.1v3.1h-3.1zM21.7 0h3.1v3.1h-3.1zM24.8 40.3h3.1v3.1h-3.1zM34.1 55.8h3.1v3.1h-3.1zM37.2 3.1h3.1v3.1h-3.1zM43.4 6.2h3.1v3.1h-3.1zM55.8 9.3h3.1v3.1h-3.1z" fill="#ffe080" fill-opacity="0.4"/><path d="M0 55.8h3.1v3.1h-3.1zM6.2 21.7h3.1v3.1h-3.1zM21.7 55.8h3.1v3.1h-3.1zM27.9 18.6h3.1v3.1h-3.1zM34.1 34.1h3.1v3.1h-3.1zM40.3 15.5h3.1v3.1h-3.1zM49.6 21.7h3.1v3.1h-3.1zM52.7 40.3h3.1v3.1h-3.1zM52.7 43.4h3.1v3.1h-3.1zM55.8 31h3.1v3.1h-3.1z" fill="#ffff30" fill-opacity="0.4"/><path d="M3.1 3.1h3.1v3.1h-3.1zM3.1 21.7h3.1v3.1h-3.1zM3.1 31h3.1v3.1h-3.1zM6.2 9.3h3.1v3.1h-3.1zM6.2 49.6h3.1v3.1h-3.1zM6.2 55.8h3.1v3.1h-3.1zM9.3 15.5h3.1v3.1h-3.1zM12.4 40.3h3.1v3.1h-3.1zM18.6 18.6h3.1v3.1h-3.1zM18.6 27.9h3.1v3.1h-3.1zM18.6 52.7h3.1v3.1h-3.1zM21.7 15.5h3.1v3.1h-3.1zM21.7 21.7h3.1v3.1h-3.1zM24.8 15.5h3.1v3.1h-3.1zM24.8 31h3.1v3.1h-3.1zM31 6.2h3.1v3.1h-3.1zM31 9.3h3.1v3.1h-3.1zM31 18.6h3.1v3.1h-3.1zM40.3 18.6h3.1v3.1h-3.1zM40.3 21.7h3.1v3.1h-3.1zM40.3 31h3.1v3.1h-3.1zM43.4 37.2h3.1v3.1h-3.1zM46.5 37.2h3.1v3.1h-3.1zM46.5 46.5h3.1v3.1h-3.1zM49.6 37.2h3.1v3.1h-3.1zM55.8 34.1h3.1v3.1h-3.1z" fill="#ff8000" fill-opacity="0.2"/><path d="M3.1 6.2h3.1v3.1h-3.1zM3.1 9.3h3.1v3.1h-3.1zM3.1 18.6h3.1v3.1h-3.1zM12.4 31h3.1v3.1h-3.1zM15.5 18.6h3.1v3.1h-3.1zM27.9 24.8h3.1v3.1h-3.1zM34.1 6.2h3.1v3.1h-3.1zM34.1 9.3h3.1v3.1h-3.1zM34.1 31h3.1v3.1h-3.1zM34.1 43.4h3.1v3.1h-3.1zM52.7 6.2h3.1v3.1h-3.1zM52.7 15.5h3.1v3.1h-3.1zM52.7 37.2h3.1v3.1h-3.1z" fill="#ff8000" fill-opacity="0.4"/><path d="M3.1 15.5h3.1v3.1h-3.1zM3.1 27.9h3.1v3.1h-3.1zM3.1 40.3h3.1v3.1h-3.1zM3.1 49.6h3.1v3.1h-3.1zM6.2 15.5h3.1v3.1h-3.1zM6.2 37.2h3.1v3.1h-3.1zM9.3 37.2h3.1v3.1h-3.1zM12.4 46.5h3.1v3.1h-3.1zM15.5 49.6h3.1v3.1h-3.1zM27.9 31h3.1v3.1h-3.1zM31 27.9h3.1v3.1h-3.1zM37.2 15.5h3.1v3.1h-3.1zM49.6 9.3h3.1v3.1h-3.1zM52.7 27.9h3.1v3.1h-3.1zM55.8 6.2h3.1v3.1h-3.1zM55.8 37.2h3.1v3.1h-3.1zM55.8 52.7h3.1v3.1h-3.1z" fill="#ffd000" fill-opacity="0.2"/><path d="M3.1 34.1h3.1v3.1h-3.1zM3.1 46.5h3.1v3.1h-3.1zM18.6 0h3.1v3.1h-3.1zM18.6 3.1h3.1v3.1h-3.1zM21.7 6.2h3.1v3.1h-3.1zM21.7 27.9h3.1v3.1h-3.1zM31 37.2h3.1v3.1h-3.1zM37.2 55.8h3.1v3.1h-3.1zM43.4 9.3h3.1v3.1h-3.1zM46.5 43.4h3.1v3.1h-3.1zM49.6 0h3.1v3.1h-3.1zM49.6 55.8h3.1v3.1h-3.1zM52.7 0h3.1v3.1h-3.1zM52.7 49.6h3.1v3.1h-3.1zM55.8 15.5h3.1v3.1h-3.1z" fill="#ff8000" fill-opacity="0.3"/><path d="M3.1 37.2h3.1v3.1h-3.1zM3.1 52.7h3.1v3.1h-3.1zM6.2 0h3.1v3.1h-3.1zM6.2 24.8h3.1v3.1h-3.1zM6.2 40.3h3.1v3.1h-3.1zM9.3 6.2h3.1v3.1h-3.1zM12.4 27.9h3.1v3.1h-3.1zM15.5 15.5h3.1v3.1h-3.1zM15.5 21.7h3.1v3.1h-3.1zM21.7 18.6h3.1v3.1h-3.1zM24.8 49.6h3.1v3.1h-3.1zM27.9 12.4h3.1v3.1h-3.1zM27.9 43.4h3.1v3.1h-3.1zM31 0h3.1v3.1h-3.1zM37.2 24.8h3.1v3.1h-3.1zM40.3 46.5h3.1v3.1h-3.1zM49.6 18.6h3.1v3.1h-3.1zM49.6 24.8h3.1v3.1h-3.1zM49.6 31h3.1v3.1h-3.1zM49.6 46.5h3.1v3.1h-3.1zM52.7 9.3h3.1v3.1h-3.1z" fill="#ff0000" fill-opacity="0.3"/><path d="M3.1 55.8h3.1v3.1h-3.1zM9.3 3.1h3.1v3.1h-3.1zM9.3 46.5h3.1v3.1h-3.1zM15.5 31h3.1v3.1h-3.1zM18.6 55.8h3.1v3.1h-3.1zM24.8 0h3.1v3.1h-3.1zM37.2 12.4h3.1v3.1h-3.1zM43.4 52.7h3.1v3.1h-3.1z" fill="#ff8000" fill-opacity="0.1"/><path d="M6.2 46.5h3.1v3.1h-3.1zM9.3 0h3.1v3.1h-3.1zM9.3 34.1h3.1v3.1h-3.1zM15.5 24.8h3.1v3.1h-3.1zM18.6 31h3.1v3.1h-3.1zM21.7 3.1h3.1v3.1h-3.1zM21.7 46.5h3.1v3.1h-3.1zM27.9 0h3.1v3.1h-3.1zM27.9 27.9h3.1v3.1h-3.1zM31 40.3h3.1v3.1h-3.1zM34.1 15.5h3.1v3.1h-3.1zM55.8 18.6h3.1v3.1h-3.1z" fill="#ffff30" fill-opacity="0.1"/><path d="M9.3 40.3h3.1v3.1h-3.1zM12.4 3.1h3.1v3.1h-3.1zM12.4 43.4h3.1v3.1h-3.1zM15.5 46.5h3.1v3.1h-3.1zM18.6 49.6h3.1v3.1h-3.1zM21.7 49.6h3.1v3.1h-3.1zM31 55.8h3.1v3.1h-3.1zM34.1 27.9h3.1v3.1h-3.1zM34.1 49.6h3.1v3.1h-3.1zM37.2 21.7h3.1v3.1h-3.1zM37.2 49.6h3.1v3.1h-3.1zM43.4 27.9h3.1v3.1h-3.1zM46.5 31h3.1v3.1h-3.1zM46.5 55.8h3.1v3.1h-3.1zM55.8 27.9h3.1v3.1h-3.1z" fill="#ffd000" fill-opacity="0.4"/><path d="M9.3 52.7h3.1v3.1h-3.1zM12.4 24.8h3.1v3.1h-3.1zM12.4 34.1h3.1v3.1h-3.1zM18.6 43.4h3.1v3.1h-3.1zM21.7 34.1h3.1v3.1h-3.1zM21.7 37.2h3.1v3.1h-3.1zM31 34.1h3.1v3.1h-3.1zM37.2 6.2h3.1v3.1h-3.1zM40.3 6.2h3.1v3.1h-3.1zM43.4 3.1h3.1v3.1h-3.1zM43.4 24.8h3.1v3.1h-3.1zM43.4 31h3.1v3.1h-3.1zM43.4 55.8h3.1v3.1h-3.1zM52.7 18.6h3.1v3.1h-3.1zM52.7 31h3.1v3.1h-3.1zM55.8 0h3.1v3.1h-3.1zM55.8 21.7h3.1v3.1h-3.1z" fill="#ffff30" fill-opacity="0.3"/><path d="M12.4 6.2h3.1v3.1h-3.1zM12.4 15.5h3.1v3.1h-3.1zM15.5 52.7h3.1v3.1h-3.1zM24.8 52.7h3.1v3.1h-3.1zM27.9 3.1h3.1v3.1h-3.1zM31 46.5h3.1v3.1h-3.1zM34.1 3.1h3.1v3.1h-3.1zM37.2 27.9h3.1v3.1h-3.1zM37.2 52.7h3.1v3.1h-3.1zM40.3 12.4h3.1v3.1h-3.1zM46.5 0h3.1v3.1h-3.1zM46.5 18.6h3.1v3.1h-3.1zM49.6 15.5h3.1v3.1h-3.1zM49.6 49.6h3.1v3.1h-3.1zM55.8 46.5h3.1v3.1h-3.1zM55.8 55.8h3.1v3.1h-3.1z" fill="#ffe080" fill-opacity="0.3"/><path d="M18.6 24.8h3.1v3.1h-3.1zM21.7 31h3.1v3.1h-3.1zM24.8 27.9h3.1v3.1h-3.1zM37.2 40.3h3.1v3.1h-3.1zM49.6 27.9h3.1v3.1h-3.1zM52.7 52.7h3.1v3.1h-3.1z" fill="#ff4000" fill-opacity="0.1"/></pattern><clipPath id="cp1"><rect x="703.7" y="2.7" width="412.6" height="414.1"/></clipPath><clipPath id="cp2"><rect x="1130.7" y="2.7" width="413.6" height="414.1"/></clipPath><clipPath id="cp3"><rect x="1558.6" y="2.7" width="413.7" height="414.1"/></clipPath><clipPath id="cp4"><rect x="703.7" y="430.8" width="412.6" height="413.5"/></clipPath><clipPath id="cp5"><rect x="1130.7" y="430.8" width="413.6" height="413.5"/></clipPath><filter id="bl8" x="-20%" y="-20%" width="140%" height="140%"><feGaussianBlur stdDeviation="8"/></filter><filter id="bl4" x="-20%" y="-20%" width="140%" height="140%"><feGaussianBlur stdDeviation="4"/></filter><filter id="bl20" x="-50%" y="-50%" width="200%" height="200%"><feGaussianBlur stdDeviation="20"/></filter><linearGradient id="g1" gradientUnits="userSpaceOnUse" x1="700" y1="0" x2="760" y2="420"><stop offset="0" stop-color="#1034c4"/><stop offset="0.35" stop-color="#1450bc"/><stop offset="0.75" stop-color="#1a5ca8"/><stop offset="1" stop-color="#164c80"/></linearGradient><radialGradient id="g1r" gradientUnits="userSpaceOnUse" cx="840" cy="272" r="200"><stop offset="0" stop-color="#30e8d8" stop-opacity="1"/><stop offset="0.12" stop-color="#30c8b8" stop-opacity="0.75"/><stop offset="0.4" stop-color="#2aa8a0" stop-opacity="0.35"/><stop offset="1" stop-color="#2aa0a0" stop-opacity="0"/></radialGradient><linearGradient id="g2" gradientUnits="userSpaceOnUse" x1="1330" y1="150" x2="1250" y2="420"><stop offset="0" stop-color="#1450c8"/><stop offset="0.45" stop-color="#1c7eb0"/><stop offset="0.8" stop-color="#2c6a70"/><stop offset="1" stop-color="#2a5048"/></linearGradient><linearGradient id="g3" gradientUnits="userSpaceOnUse" x1="1849" y1="176" x2="1542.6" y2="389.4"><stop offset="0" stop-color="#ff2400"/><stop offset="0.15" stop-color="#ff4008"/><stop offset="0.3" stop-color="#ff7a10"/><stop offset="0.42" stop-color="#ffc018"/><stop offset="0.5" stop-color="#f0f020"/><stop offset="0.62" stop-color="#c8f440"/><stop offset="0.8" stop-color="#90ec80"/><stop offset="1" stop-color="#50e0b0"/></linearGradient><linearGradient id="g4" gradientUnits="userSpaceOnUse" x1="880" y1="620" x2="690" y2="780"><stop offset="0" stop-color="#f82408"/><stop offset="0.38" stop-color="#ff460c"/><stop offset="0.62" stop-color="#ff8412"/><stop offset="0.86" stop-color="#f8d41c"/><stop offset="1" stop-color="#d0f040"/></linearGradient><linearGradient id="g4b" gradientUnits="userSpaceOnUse" x1="940" y1="600" x2="1116" y2="480"><stop offset="0" stop-color="#ffae10"/><stop offset="0.5" stop-color="#ffcc18"/><stop offset="1" stop-color="#f4e420"/></linearGradient><linearGradient id="g5" gradientUnits="userSpaceOnUse" x1="1330" y1="719" x2="1240" y2="470"><stop offset="0" stop-color="#0c2ca0"/><stop offset="0.18" stop-color="#1450c0"/><stop offset="0.42" stop-color="#20a4d0"/><stop offset="0.68" stop-color="#40d0c0"/><stop offset="1" stop-color="#80d480"/></linearGradient><linearGradient id="jet" x1="0" y1="1" x2="0" y2="0"><stop offset="0" stop-color="#000080"/><stop offset="0.14" stop-color="#0000ff"/><stop offset="0.37" stop-color="#00ffff"/><stop offset="0.48" stop-color="#80ff80"/><stop offset="0.63" stop-color="#ffff00"/><stop offset="0.76" stop-color="#ff8000"/><stop offset="0.86" stop-color="#ff0000"/><stop offset="1" stop-color="#800000"/></linearGradient><linearGradient id="gray" x1="0" y1="1" x2="0" y2="0"><stop offset="0" stop-color="#000"/><stop offset="1" stop-color="#fff"/></linearGradient></defs>
<g clip-path="url(#cp1)"><rect x="700" y="0" width="420" height="420" fill="#000"/>
<path d="M700,-5 L757.7,-5 L772,20 L800,40 L825,55 L860,75 L892.4,93.8 L930,118 L959.8,139.5 L990,155 L1012.7,168.4 L1022.3,182.8 L1030,197 L1036.8,204.5 L1048.8,197.3 L1065.6,192.4 L1090,196 L1120,202 L1120,420 L700,420 Z" fill="url(#g1)"/>
<g clip-path="url(#cp1)"><path d="M700,-5 L757.7,-5 L772,20 L800,40 L825,55 L860,75 L892.4,93.8 L930,118 L959.8,139.5 L990,155 L1012.7,168.4 L1022.3,182.8 L1030,197 L1036.8,204.5 L1048.8,197.3 L1065.6,192.4 L1090,196 L1120,202 L1120,420 L700,420 Z" fill="url(#g1r)"/></g><clipPath id="t1"><path d="M700,-5 L757.7,-5 L772,20 L800,40 L825,55 L860,75 L892.4,93.8 L930,118 L959.8,139.5 L990,155 L1012.7,168.4 L1022.3,182.8 L1030,197 L1036.8,204.5 L1048.8,197.3 L1065.6,192.4 L1090,196 L1120,202 L1120,420 L700,420 Z"/></clipPath><g clip-path="url(#t1)"><polyline points="757.7,1 772,26 800,46 825,61 860,81 892.4,99.8 930,124 959.8,145.5 990,161 1012.7,174.4 1022.3,188.8 1030,203 1036.8,210.5 1048.8,203.3 1065.6,198.4 1090,202 1120,208" fill="none" stroke="#0828b8" stroke-width="26" stroke-opacity="0.6" filter="url(#bl4)"/></g><path d="M700,-5 L757.7,-5 L772,20 L800,40 L825,55 L860,75 L892.4,93.8 L930,118 L959.8,139.5 L990,155 L1012.7,168.4 L1022.3,182.8 L1030,197 L1036.8,204.5 L1048.8,197.3 L1065.6,192.4 L1090,196 L1120,202 L1120,420 L700,420 Z" fill="url(#ncool)"/>
<path d="M700,-5 L757.7,-5 L772,20 L800,40 L825,55 L860,75 L892.4,93.8 L930,118 L959.8,139.5 L990,155 L1012.7,168.4 L1022.3,182.8 L1030,197 L1036.8,204.5 L1048.8,197.3 L1065.6,192.4 L1090,196 L1120,202 L1120,420 L700,420 Z" fill="url(#ncool2)"/>
<circle cx="968" cy="234" r="4" fill="#30e0e0" opacity="0.8"/><circle cx="1094" cy="254" r="4" fill="#30e0e0" opacity="0.8"/><circle cx="1090" cy="262" r="3" fill="#30e0e0" opacity="0.8"/><circle cx="725" cy="103" r="3" fill="#30e0e0" opacity="0.8"/><circle cx="707" cy="121" r="3" fill="#30e0e0" opacity="0.8"/><circle cx="858" cy="366" r="3.5" fill="#30e0e0" opacity="0.8"/><circle cx="761" cy="352" r="3" fill="#30e0e0" opacity="0.8"/></g><text x="1089.5" y="53.4" font-size="33" text-anchor="end" fill="#fff">DOPC:DOPS</text>
<text x="1089.5" y="83" font-size="33" text-anchor="end" fill="#fff">60:40</text>
<rect x="702.4" y="1.4" width="415.3" height="416.8" fill="none" stroke="#707070" stroke-width="2.7"/>
<g clip-path="url(#cp2)"><rect x="1127" y="0" width="421" height="420" fill="#000"/>
<path d="M1128,-5 L1163,-5 L1163,29 L1170,48 L1182,72 L1185,91 L1199,106 L1211,115 L1247,125 L1271,120 L1283,127.5 L1307,113 L1319,111 L1343.5,123 L1368,135 L1391.6,142 L1387,154 L1416,156 L1437,166 L1449,178 L1468.6,179 L1483,188 L1512,200 L1536,207 L1548,216.5 L1548,420 L1128,420 Z" fill="url(#g2)"/>
<clipPath id="t2"><path d="M1128,-5 L1163,-5 L1163,29 L1170,48 L1182,72 L1185,91 L1199,106 L1211,115 L1247,125 L1271,120 L1283,127.5 L1307,113 L1319,111 L1343.5,123 L1368,135 L1391.6,142 L1387,154 L1416,156 L1437,166 L1449,178 L1468.6,179 L1483,188 L1512,200 L1536,207 L1548,216.5 L1548,420 L1128,420 Z"/></clipPath><g clip-path="url(#t2)"><polyline points="1163,-5 1163,29 1170,48 1182,72 1185,91 1199,106 1211,115 1247,125 1271,120 1283,127.5 1307,113 1319,111 1343.5,123 1368,135 1391.6,142 1387,154 1416,156 1437,166 1449,178 1468.6,179 1483,188 1512,200 1536,207 1548,216.5" fill="none" stroke="#1040d0" stroke-width="30" stroke-opacity="0.55" filter="url(#bl4)"/></g><g filter="url(#bl8)"><ellipse cx="1200" cy="370" rx="75" ry="55" fill="#3a3a18" opacity="0.55"/><ellipse cx="1300" cy="400" rx="60" ry="25" fill="#4a4a20" opacity="0.4"/></g><path d="M1128,-5 L1163,-5 L1163,29 L1170,48 L1182,72 L1185,91 L1199,106 L1211,115 L1247,125 L1271,120 L1283,127.5 L1307,113 L1319,111 L1343.5,123 L1368,135 L1391.6,142 L1387,154 L1416,156 L1437,166 L1449,178 L1468.6,179 L1483,188 L1512,200 L1536,207 L1548,216.5 L1548,420 L1128,420 Z" fill="url(#ncool)"/>
<path d="M1128,-5 L1163,-5 L1163,29 L1170,48 L1182,72 L1185,91 L1199,106 L1211,115 L1247,125 L1271,120 L1283,127.5 L1307,113 L1319,111 L1343.5,123 L1368,135 L1391.6,142 L1387,154 L1416,156 L1437,166 L1449,178 L1468.6,179 L1483,188 L1512,200 L1536,207 L1548,216.5 L1548,420 L1128,420 Z" fill="url(#ncool2)"/>
<g filter="url(#bl4)"><circle cx="1230" cy="264" r="14" fill="#b8ec70" opacity="0.9"/><circle cx="1467" cy="378" r="23" fill="#c8f070"/><ellipse cx="1446" cy="402" rx="7" ry="14" fill="#d8f050"/><circle cx="1511" cy="394" r="10" fill="#f4e040"/><path d="M1272,304 L1280,306 L1284,330 L1290,340 L1287,360 L1270,364 L1268,380 L1260,378 L1258,352 L1262,330 Z" fill="#e8e048"/></g><ellipse cx="1275" cy="314" rx="3.5" ry="7" fill="#ff4010" opacity="0.85"/><ellipse cx="1262" cy="350" rx="4" ry="5" fill="#ff9010" opacity="0.8"/><ellipse cx="1268" cy="343" rx="6" ry="6" fill="#80f0c0" opacity="0.6"/><circle cx="1470" cy="376" r="13" fill="#e8f860" opacity="0.7"/><circle cx="1462" cy="372" r="6" fill="#90f0d0" opacity="0.6"/><rect x="1523" y="4" width="5" height="14" fill="#c0f040"/>
<rect x="1523" y="28" width="5" height="14" fill="#30c0e0"/>
<rect x="1523" y="50" width="5" height="12" fill="#20a0e0"/>
<rect x="1455" y="2" width="10" height="3" fill="#f0a020"/>
</g><text x="1520.5" y="51" font-size="33" text-anchor="end" fill="#fff">DOPC:DOPS:Chol</text>
<text x="1520.5" y="80" font-size="33" text-anchor="end" fill="#fff">42:28:30</text>
<rect x="1129.3" y="1.4" width="416.3" height="416.8" fill="none" stroke="#707070" stroke-width="2.7"/>
<g clip-path="url(#cp3)"><rect x="1555" y="0" width="421" height="420" fill="#000"/>
<path d="M1555,19 L1579,16.8 L1584,13 L1586,26.5 L1612.7,21.6 L1620,33.7 L1627,60 L1651,77 L1680,89 L1706.5,91.4 L1723,108 L1735,125 L1747,134.7 L1781,139.5 L1793,166 L1819.6,169.6 L1855.7,187.6 L1887,199.7 L1916,204.5 L1925.5,223.7 L1942,243 L1954,243 L1949.5,223.7 L1961.5,231 L1976,235.7 L1976,420 L1555,420 Z" fill="url(#g3)"/>
<path d="M1555,19 L1579,16.8 L1584,13 L1586,26.5 L1612.7,21.6 L1620,33.7 L1627,60 L1651,77 L1680,89 L1706.5,91.4 L1723,108 L1735,125 L1747,134.7 L1781,139.5 L1793,166 L1819.6,169.6 L1855.7,187.6 L1887,199.7 L1916,204.5 L1925.5,223.7 L1942,243 L1954,243 L1949.5,223.7 L1961.5,231 L1976,235.7 L1976,420 L1555,420 Z" fill="url(#nwarm2)" opacity="0.5"/>
<path d="M1555,19 L1579,16.8 L1584,13 L1586,26.5 L1612.7,21.6 L1620,33.7 L1627,60 L1651,77 L1680,89 L1706.5,91.4 L1723,108 L1735,125 L1747,134.7 L1781,139.5 L1793,166 L1819.6,169.6 L1855.7,187.6 L1887,199.7 L1916,204.5 L1925.5,223.7 L1942,243 L1954,243 L1949.5,223.7 L1961.5,231 L1976,235.7 L1976,420 L1555,420 Z" fill="url(#ncool2)" opacity="0.25"/>
<polyline points="1555,19 1579,16.8 1584,13 1586,26.5 1612.7,21.6 1620,33.7 1627,60 1651,77 1680,89 1706.5,91.4 1723,108 1735,125 1747,134.7 1781,139.5 1793,166 1819.6,169.6 1855.7,187.6 1887,199.7 1916,204.5 1925.5,223.7 1942,243 1954,243 1949.5,223.7 1961.5,231 1976,235.7" fill="none" stroke="#40d0e0" stroke-width="2.5" stroke-dasharray="3 6" opacity="0.8"/><path d="M1906,3 L1950,3 L1944,12 L1932,19 L1920,19 L1910,12 Z" fill="#c8f050"/>
</g><text x="1960.5" y="55.8" font-size="33" text-anchor="end" fill="#fff">DOPC:bSM:Chol</text>
<text x="1960.5" y="84.7" font-size="33" text-anchor="end" fill="#fff">1:1:1</text>
<rect x="1557.3" y="1.4" width="416.3" height="416.8" fill="none" stroke="#707070" stroke-width="2.7"/>
<g clip-path="url(#cp4)"><rect x="700" y="428" width="420" height="420" fill="#000"/>
<path d="M700,428 L703.6,432.8 L724,447 L748,476 L772,495 L801,529 L830,570 L851.5,582 L863.6,608 L883,628 L899.7,659 L928.5,688 L938,709.5 L955,740.7 L979,767 L998,803 L1017.5,841.8 L1024,850 L700,850 Z" fill="url(#g4)"/>
<path d="M700,428 L703.6,432.8 L724,447 L748,476 L772,495 L801,529 L830,570 L851.5,582 L863.6,608 L883,628 L899.7,659 L928.5,688 L938,709.5 L955,740.7 L979,767 L998,803 L1017.5,841.8 L1024,850 L700,850 Z" fill="url(#nwarm)" opacity="0.55"/>
<path d="M892.4,428 L895,457 L902,488 L909,512 L921,548 L926,570 L938,582 L948,596 L962,620.5 L976.6,637 L991,663.7 L1008,688 L1032,700 L1049,716.7 L1068,733.5 L1085,745.5 L1104,748 L1120,743 L1120,428 Z" fill="url(#g4b)"/>
<path d="M892.4,428 L895,457 L902,488 L909,512 L921,548 L926,570 L938,582 L948,596 L962,620.5 L976.6,637 L991,663.7 L1008,688 L1032,700 L1049,716.7 L1068,733.5 L1085,745.5 L1104,748 L1120,743 L1120,428 Z" fill="url(#nwarm2)" opacity="0.5"/>
<polyline points="891.4,428 894,457 901,488 908,512 920,548 925,570 937,582 947,596 961,620.5 975.6,637 990,663.7 1007,688 1031,700 1048,716.7 1067,733.5 1084,745.5 1103,748 1119,743" fill="none" stroke="#30d0e0" stroke-width="2.2" stroke-dasharray="4 5"/><polyline points="703.6,432.8 724,447 748,476 772,495 801,529 830,570 851.5,582 863.6,608 883,628 899.7,659 928.5,688 938,709.5 955,740.7 979,767 998,803 1017.5,841.8 1024,850" fill="none" stroke="#8a1000" stroke-width="2.2" stroke-dasharray="3 6" opacity="0.8"/></g><text x="1100" y="798.5" font-size="33" text-anchor="end" fill="#fff">DOPC:bSM:Chol</text>
<text x="1100" y="828.5" font-size="33" text-anchor="end" fill="#fff">1:1:2</text>
<rect x="702.4" y="429.4" width="415.3" height="416.3" fill="none" stroke="#707070" stroke-width="2.7"/>
<g clip-path="url(#cp5)"><rect x="1127" y="428" width="421" height="420" fill="#000"/>
<path d="M1128,428 L1548,428 L1548,616 L1428,670 L1330,719 L1233,768 L1128,823 Z" fill="url(#g5)"/>
<path d="M1128,428 L1548,428 L1548,616 L1428,670 L1330,719 L1233,768 L1128,823 Z" fill="url(#ncool)"/>
<path d="M1128,428 L1548,428 L1548,616 L1428,670 L1330,719 L1233,768 L1128,823 Z" fill="url(#ncool2)"/>
<circle cx="1266" cy="729" r="3.5" fill="#d0e040"/><circle cx="1263" cy="805" r="3" fill="#40b0a0"/></g><rect x="1455.4" y="450" width="65.6" height="8" fill="#000"/>
<text x="1517.5" y="798" font-size="33" text-anchor="end" fill="#fff">DOPC:bSM:Chol</text>
<text x="1517.5" y="827.3" font-size="33" text-anchor="end" fill="#fff">2:2:1</text>
<rect x="1129.3" y="429.4" width="416.3" height="416.3" fill="none" stroke="#707070" stroke-width="2.7"/>
<rect x="1577.5" y="441" width="160" height="178" fill="#e6e6e6" stroke="#000" stroke-width="2"/>
<rect x="1577.5" y="658" width="160" height="178" fill="#e6e6e6" stroke="#000" stroke-width="2"/>
<text x="1657.4" y="475" font-size="30" text-anchor="middle" fill="#1a1a1a">High lipid</text>
<text x="1657.4" y="502.4" font-size="30" text-anchor="middle" fill="#1a1a1a">packing</text>
<text x="1657.4" y="577.3" font-size="30" text-anchor="middle" font-weight="bold" fill="#e8553e">Planarized</text>
<text x="1657.4" y="606" font-size="30" text-anchor="middle" fill="#1a1a1a">Flipper-TR</text>
<text x="1657.4" y="692.7" font-size="30" text-anchor="middle" fill="#1a1a1a">Low lipid</text>
<text x="1657.4" y="720" font-size="30" text-anchor="middle" fill="#1a1a1a">packing</text>
<text x="1657.4" y="795.8" font-size="30" text-anchor="middle" font-weight="bold" fill="#4a8ae8">Twisted</text>
<text x="1657.4" y="824.5" font-size="30" text-anchor="middle" fill="#1a1a1a">Flipper-TR</text>
<path d="M1598.7,528.6 L1612.4,521.1 L1623.7,524.9 L1634.9,529.4 L1644.9,524.4 L1652.4,531.1 L1647.9,544.4 L1634.9,542.9 L1623.7,549.9 L1612.9,542.9 L1600.4,539.9 Z" fill="#e8553e" stroke="#000" stroke-width="1.6"/>
<path d="M1662.9,527.9 L1666.9,517.4 L1679.4,516.1 L1691.1,511.9 L1701.8,520.4 L1713.6,522.9 L1716.8,532.4 L1704.3,540.4 L1694.8,532.9 L1684.3,531.1 L1671.9,536.1 Z" fill="#e8553e" stroke="#000" stroke-width="1.6"/>
<line x1="1651.9" y1="531.9" x2="1663.4" y2="528.6" stroke="#000" stroke-width="1.6"/>
<path d="M1598.7,750.1 L1609.9,749.1 L1621.2,751.6 L1634.9,750.1 L1646.1,751.6 L1651.9,754.1 L1647.4,757.1 L1634.9,755.8 L1622.4,759.1 L1609.9,756.6 L1601.2,756.1 Z" fill="#3f86e8" stroke="#000" stroke-width="1.6"/>
<path d="M1662.9,749.1 L1669.9,739.6 L1682.3,738.4 L1691.1,732.9 L1699.8,739.6 L1713.6,741.6 L1717.3,754.6 L1706.1,761.1 L1694.8,754.6 L1677.4,752.6 L1669.9,756.1 Z" fill="#3f86e8" stroke="#000" stroke-width="1.6"/>
<line x1="1651.9" y1="754.6" x2="1662.9" y2="749.6" stroke="#000" stroke-width="1.6"/>
<path d="M1646.9,765.1 C1627.4,762.1 1627.4,742.1 1644.4,739.6" fill="none" stroke="#000" stroke-width="2"/>
<path d="M1639.4,734.1 L1656.9,733.4 L1643.6,744.1 Z" fill="#000"/>
<path d="M1770.2,492.4 L1777.2,477.4 L1784.2,492.4 V793.3 L1777.2,809 L1770.2,793.3 Z" fill="url(#jet)" stroke="#000" stroke-width="1.4"/>
<line x1="1784.2" y1="537.4" x2="1790.2" y2="537.4" stroke="#000" stroke-width="2"/>
<text x="1795" y="548.1" font-size="30" fill="#1a1a1a">4</text>
<line x1="1784.2" y1="622.3" x2="1790.2" y2="622.3" stroke="#000" stroke-width="2"/>
<text x="1795" y="633" font-size="30" fill="#1a1a1a">3</text>
<line x1="1784.2" y1="707.2" x2="1790.2" y2="707.2" stroke="#000" stroke-width="2"/>
<text x="1795" y="717.9" font-size="30" fill="#1a1a1a">2</text>
<line x1="1784.2" y1="793.3" x2="1790.2" y2="793.3" stroke="#000" stroke-width="2"/>
<text x="1795" y="804" font-size="30" fill="#1a1a1a">1</text>
<line x1="1784.2" y1="495" x2="1788.7" y2="495" stroke="#000" stroke-width="1.6"/>
<line x1="1784.2" y1="580" x2="1788.7" y2="580" stroke="#000" stroke-width="1.6"/>
<line x1="1784.2" y1="665" x2="1788.7" y2="665" stroke="#000" stroke-width="1.6"/>
<line x1="1784.2" y1="750" x2="1788.7" y2="750" stroke="#000" stroke-width="1.6"/>
<line x1="1737.8" y1="524.9" x2="1776" y2="538.6" stroke="#000" stroke-width="2"/>
<line x1="1737.8" y1="757.6" x2="1776" y2="744" stroke="#000" stroke-width="2"/>
<circle cx="1776" cy="538.6" r="5.6" fill="#000"/><circle cx="1776" cy="744" r="5.6" fill="#000"/>
<text transform="translate(1845.5,642.2) rotate(-90)" font-size="32" text-anchor="middle" fill="#1a1a1a">Flipper-TR lifetime (ns)</text>
<path d="M1883.8,490 L1891.7,473.7 L1899.6,490 V810.8 H1883.8 Z" fill="url(#gray)" stroke="#000" stroke-width="1.4"/>
<line x1="1899.6" y1="490" x2="1905.6" y2="490" stroke="#000" stroke-width="1.6"/>
<line x1="1899.6" y1="506" x2="1904.1" y2="506" stroke="#000" stroke-width="1.6"/>
<line x1="1899.6" y1="522.1" x2="1904.1" y2="522.1" stroke="#000" stroke-width="1.6"/>
<line x1="1899.6" y1="538.1" x2="1904.1" y2="538.1" stroke="#000" stroke-width="1.6"/>
<line x1="1899.6" y1="554.2" x2="1904.1" y2="554.2" stroke="#000" stroke-width="1.6"/>
<line x1="1899.6" y1="570.2" x2="1904.1" y2="570.2" stroke="#000" stroke-width="1.6"/>
<line x1="1899.6" y1="586.2" x2="1904.1" y2="586.2" stroke="#000" stroke-width="1.6"/>
<line x1="1899.6" y1="602.3" x2="1904.1" y2="602.3" stroke="#000" stroke-width="1.6"/>
<line x1="1899.6" y1="618.3" x2="1904.1" y2="618.3" stroke="#000" stroke-width="1.6"/>
<line x1="1899.6" y1="634.4" x2="1904.1" y2="634.4" stroke="#000" stroke-width="1.6"/>
<line x1="1899.6" y1="650.4" x2="1904.1" y2="650.4" stroke="#000" stroke-width="1.6"/>
<line x1="1899.6" y1="666.4" x2="1904.1" y2="666.4" stroke="#000" stroke-width="1.6"/>
<line x1="1899.6" y1="682.5" x2="1904.1" y2="682.5" stroke="#000" stroke-width="1.6"/>
<line x1="1899.6" y1="698.5" x2="1904.1" y2="698.5" stroke="#000" stroke-width="1.6"/>
<line x1="1899.6" y1="714.6" x2="1904.1" y2="714.6" stroke="#000" stroke-width="1.6"/>
<line x1="1899.6" y1="730.6" x2="1904.1" y2="730.6" stroke="#000" stroke-width="1.6"/>
<line x1="1899.6" y1="746.6" x2="1904.1" y2="746.6" stroke="#000" stroke-width="1.6"/>
<line x1="1899.6" y1="762.7" x2="1904.1" y2="762.7" stroke="#000" stroke-width="1.6"/>
<line x1="1899.6" y1="778.7" x2="1904.1" y2="778.7" stroke="#000" stroke-width="1.6"/>
<line x1="1899.6" y1="794.8" x2="1904.1" y2="794.8" stroke="#000" stroke-width="1.6"/>
<line x1="1899.6" y1="810.8" x2="1905.6" y2="810.8" stroke="#000" stroke-width="1.6"/>
<text x="1907" y="500.8" font-size="30" fill="#1a1a1a">1</text>
<text x="1907" y="822.5" font-size="30" fill="#1a1a1a">0</text>
<text transform="translate(1950.5,651) rotate(-90)" font-size="32" text-anchor="middle" fill="#1a1a1a">Photon count (×10<tspan font-size="21" dy="-11">2</tspan><tspan dy="11">)</tspan></text>
<text x="37.7" y="929.3" font-size="62" fill="#000">c</text>
<marker id="m1" markerWidth="11" markerHeight="11" refX="5.5" refY="5.5" markerUnits="userSpaceOnUse" overflow="visible"><circle cx="5.5" cy="5.5" r="3.5" fill="#333333" fill-opacity="0.3" stroke="#ffffff" stroke-opacity="0.45" stroke-width="0.9"/></marker><path d="M345 1129L284 1159L314 1115L314 1155L361 1190L266 1127L266 1134L349 1112L347 1144L144 1055L335 1123L310 1117L266 1124L302 1140L318 1200L329 1216L359 1169L280 1112L271 1119L312 1148L260 1141L359 1134L329 1144L356 1141L294 1129L291 1142L254 1103L364 1155L365 1163L342 1166L359 1137L254 1089L332 1160L287 1108L335 1155L368 1173L343 1155L366 1121L217 1084L368 1135L347 1157L338 1138L353 1113L355 1147L297 1126L260 1124L291 1204L322 1115L229 1085L344 1140L247 1076L181 1087L294 1107L284 1128L340 1147L316 1126L324 1178L330 1161L324 1137L266 1134L363 1153L336 1139L239 1078L351 1132L322 1147L297 1127L280 1093L339 1139L202 1027L366 1136L307 1219L275 1103L326 1117L305 1129L247 1110L336 1118L318 1103L360 1151L350 1136L322 1136L362 1183L355 1119L336 1101L316 1127L247 1109L287 1129L354 1122L344 1150L356 1125L302 1139L340 1141L360 1131L297 1142L367 1145L326 1127L247 1059L300 1120L360 1133L280 1125L254 1051L181 1107L294 1114L329 1124L239 1105L254 1114L305 1188L356 1254L271 1154L280 1097L340 1125L287 1147L320 1113L181 1115L181 1039L355 1157L365 1166L339 1118L320 1142L254 1111L312 1122L280 1137L322 1131L345 1158L144 1110L302 1080L333 1121L202 1088L318 1100L271 1115L300 1088L352 1135L346 1129L326 1092L291 1119L307 1118L318 1122L322 1147L342 1139L352 1135L229 1110L332 1126L365 1170L254 1117L351 1153L336 1117L312 1143L316 1186L347 1163L330 1155L294 1108L350 1136L217 1091L318 1128L284 1095L202 1089L307 1153L368 1135L355 1137L217 1110L229 1083L364 1116L330 1150L356 1131L305 1141L284 1108L305 1108L366 1153L368 1152L284 1114L312 1139L349 1165L333 1129L297 1136L302 1122L339 1110L300 1130L333 1159L332 1146L365 1164L368 1139L302 1106L367 1159L355 1148L305 1133L357 1133L318 1140L338 1142L343 1110L365 1152L352 1133L346 1167L247 1087L254 1108L354 1155L365 1174L229 1084L260 1120L329 1123L364 1166L351 1137L333 1142L332 1126L329 1114L291 1119L338 1149L346 1166L335 1195L305 1154L368 1167L254 1109L310 1134L324 1144L358 1157L247 1113L362 1165L254 1106L320 1131L314 1146L324 1145L362 1187L266 1090L359 1137L330 1119L333 1143L339 1140L287 1125L338 1105L343 1167L307 1130L326 1162L345 1137L202 1096L275 1107L294 1129L352 1125L314 1147L363 1148L357 1102L363 1160L335 1133L271 1109L349 1176L318 1157L365 1146L302 1147L327 1129L368 1186L307 1143L314 1259L359 1146L349 1171L322 1132L336 1134L329 1132L202 1090L294 1125L318 1139L342 1159L353 1175L340 1163L312 1144L239 1099L342 1160L367 1140L339 1185L346 1156L239 1076L360 1167L364 1143L280 1121L351 1123L358 1140L338 1144L360 1185L358 1151L356 1158L144 1091L326 1122L202 1114L350 1167L287 1128L359 1152L327 1120L333 1154L336 1162L302 1114L335 1138L229 1117L346 1147L359 1127L343 1149L353 1114L330 1147L330 1156L239 1053L254 1132L368 1167L217 1116L310 1126L344 1155L345 1120L368 1140L358 1154L368 1158L344 1109L318 1133L359 1161L291 1112L358 1134L364 1105L353 1141L302 1112L354 1127L365 1149L359 1156L297 1148L355 1137L335 1156L365 1163L354 1175L353 1162L247 1127L229 1101L202 1083L217 1062L366 1192L351 1204L368 1135L324 1136L354 1136L326 1127L367 1156L229 1102L287 1141L275 1118L312 1135L300 1147L247 1123L327 1139L365 1144L339 1138L260 1098L349 1139L291 1119L307 1136L359 1139L297 1118L362 1167L320 1158L361 1153L291 1134L307 1156L367 1164L239 1088L320 1121L271 1117L350 1131L350 1143L360 1188L327 1133L271 1137L239 1132L360 1147L368 1135L305 1092L340 1138L320 1117L332 1126L363 1165L260 1102L316 1102L327 1134L275 1142L329 1154L181 1113L326 1143L144 1051L247 1088L357 1115L327 1106L310 1139L354 1116L342 1126L344 1119L294 1121L217 1104L356 1134L294 1092L202 1073L275 1142L329 1185L291 1107L342 1168L364 1172L361 1167L332 1180L335 1128L336 1192L327 1150L336 1129L307 1127L181 1101L333 1137L322 1133L275 1134L314 1147L322 1120L338 1142L332 1161L275 1104L324 1113L312 1160L336 1158L320 1135L339 1136L314 1136L260 1120L339 1166L181 1137L254 1136L307 1117L297 1208L275 1141L181 1110L357 1185L229 1058L367 1152L271 1098L320 1188L367 1139L284 1106L239 1109L366 1156L300 1192L346 1168L310 1123L300 1122L305 1121L294 1127L363 1139L239 1147L316 1160L320 1130L297 1119L338 1110L363 1170L291 1125L339 1147L333 1138L287 1119L335 1098L260 1103L324 1162L357 1138L260 1112L260 1130L366 1130L291 1081L300 1150L266 1133L294 1098L361 1131L239 1121L316 1208L284 1123L287 1116L356 1151L343 1114L144 1060L314 1152L144 1056L352 1160L229 1105L217 1104L336 1182L350 1156L181 1110L284 1137L357 1150L349 1137L351 1141L332 1172L326 1135L346 1123L229 1086L352 1164L266 1118L329 1152L326 1141L266 1112L312 1196L280 1115L347 1116L181 1094L330 1151L345 1196L297 1106L330 1168L365 1133L332 1118L324 1127L365 1134L144 1067L365 1152L310 1127L302 1103L347 1107L366 1156L310 1110L320 1123L358 1151L363 1162L340 1170L359 1133L239 1099L351 1160L310 1081L284 1168L344 1133L144 1068L324 1121L368 1167L339 1141L338 1100L347 1155L316 1100L307 1118L181 1099L314 1145L361 1172L300 1135L300 1151L345 1151L332 1129L229 1135L357 1142L217 1074L359 1175L342 1157L302 1204L364 1176L297 1121L275 1071L362 1134L353 1151L260 1124L343 1129L340 1144L300 1130L349 1156L347 1121L318 1135L359 1147L217 1094L345 1120L362 1119L361 1136L327 1114L330 1119L305 1143L362 1115L302 1217L361 1163L335 1133L280 1115L329 1177L305 1161L271 1132L350 1135L314 1208L327 1125L356 1160L312 1124L316 1136L338 1157L316 1117L368 1138L365 1178L353 1152L314 1150L365 1133L287 1091L351 1125L312 1168L344 1131L144 1068L366 1141L202 1088L202 1093L217 1097L333 1158L271 1119L316 1121L324 1171L354 1122L144 1052L352 1142L345 1137L202 1088L359 1140L266 1123L310 1174L343 1154L358 1098L355 1164L360 1153L280 1103L322 1159L247 1106L217 1056L287 1120" fill="none" stroke="none" marker-start="url(#m1)" marker-mid="url(#m1)" marker-end="url(#m1)"/>
<line x1="164.8" y1="1056.4" x2="372.9" y2="1173.6" stroke="#ff1010" stroke-width="2.6" stroke-dasharray="6 3.5"/>
<rect x="133.1" y="980.5" width="242.2" height="281.1" fill="none" stroke="#000" stroke-width="2.2"/>
<path d="M133.1 1160h-3.5M133.1 1114.8h-3.5M133.1 1082.7h-3.5M133.1 1057.8h-3.5M133.1 1037.5h-3.5M133.1 1020.3h-3.5M133.1 1005.4h-3.5M133.1 992.3h-3.5M133.1 1249.1h-3.5M133.1 1237.3h-5.5M133.1 980.5h-5.5M138.7 1261.6v3.5M180.9 1261.6v3.5M202.3 1261.6v3.5M217.5 1261.6v3.5M229.2 1261.6v3.5M238.8 1261.6v3.5M247 1261.6v3.5M254 1261.6v3.5M260.2 1261.6v3.5M302.4 1261.6v3.5M323.8 1261.6v3.5M339 1261.6v3.5M350.7 1261.6v3.5M360.3 1261.6v3.5M368.5 1261.6v3.5M144.3 1261.6v6M265.8 1261.6v6" fill="none" stroke="#000" stroke-width="1.8"/>
<text x="76.3" y="997.2" font-size="34.5" fill="#333">10</text>
<text x="113.9" y="983.5" font-size="23" fill="#333">1</text>
<text x="76.1" y="1244.9" font-size="34.5" fill="#333">10</text>
<text x="113.5" y="1231.4" font-size="23" fill="#333">0</text>
<text x="120.2" y="1301.8" font-size="34.5" fill="#333">10</text>
<text x="157.3" y="1288.4" font-size="23" fill="#333">0</text>
<text x="242.5" y="1301.8" font-size="34.5" fill="#333">10</text>
<text x="279.6" y="1288.4" font-size="23" fill="#333">1</text>
<text x="250.8" y="1342.7" font-size="37" text-anchor="middle" fill="#333">Timepoint</text>
<text transform="translate(65.5,1122.6) rotate(-90)" font-size="37" text-anchor="middle" fill="#333">Spreading (µm/min)</text>
<text x="413.4" y="929.4" font-size="62" fill="#000">d</text>
<rect x="489.4" y="957.9" width="257.8" height="161.7" fill="none" stroke="#333" stroke-width="2"/>
<path d="M489.4 958.4h-5.4M489.4 983.4h-5.4M489.4 1008.4h-5.4M489.4 1033.4h-5.4M489.4 1058.4h-5.4M489.4 1083.4h-5.4M489.4 1108.4h-5.4" fill="none" stroke="#333" stroke-width="2"/>
<text x="477.4" y="995.6" font-size="34" text-anchor="end" fill="#333">4</text>
<text x="477.4" y="1045.6" font-size="34" text-anchor="end" fill="#333">3</text>
<text x="477.4" y="1095.6" font-size="34" text-anchor="end" fill="#333">2</text>
<text x="477.4" y="1131.8" font-size="34" text-anchor="end" fill="#333">0</text>
<path d="M489.4,1111.1 l-2.5,3.5 l2.5,3.5 l2.5,-3.5 z" fill="#000"/><rect x="489.4" y="1137.4" width="257.8" height="161.5" fill="none" stroke="#333" stroke-width="2"/>
<path d="M489.4 1137.7h-5.4M489.4 1162.7h-5.4M489.4 1187.7h-5.4M489.4 1212.7h-5.4M489.4 1237.7h-5.4M489.4 1262.7h-5.4M489.4 1287.7h-5.4" fill="none" stroke="#333" stroke-width="2"/>
<text x="477.4" y="1174.9" font-size="34" text-anchor="end" fill="#333">4</text>
<text x="477.4" y="1224.9" font-size="34" text-anchor="end" fill="#333">3</text>
<text x="477.4" y="1274.9" font-size="34" text-anchor="end" fill="#333">2</text>
<text x="477.4" y="1311.1" font-size="34" text-anchor="end" fill="#333">0</text>
<path d="M489.4,1290.4 l-2.5,3.5 l2.5,3.5 l2.5,-3.5 z" fill="#000"/><text x="489.4" y="1334.3" font-size="34" text-anchor="middle" fill="#333">0</text>
<text x="541" y="1334.3" font-size="34" text-anchor="middle" fill="#333">10</text>
<text x="592.5" y="1334.3" font-size="34" text-anchor="middle" fill="#333">20</text>
<text x="644.1" y="1334.3" font-size="34" text-anchor="middle" fill="#333">30</text>
<text x="695.6" y="1334.3" font-size="34" text-anchor="middle" fill="#333">40</text>
<text x="747.2" y="1334.3" font-size="34" text-anchor="middle" fill="#333">50</text>
<path d="M489.4 1298.9v5.4M541 1298.9v5.4M592.5 1298.9v5.4M644.1 1298.9v5.4M695.6 1298.9v5.4M747.2 1298.9v5.4" fill="none" stroke="#333" stroke-width="2"/>
<text x="617.3" y="1369" font-size="32.5" text-anchor="middle" fill="#333">Distance to front (µm)</text>
<text transform="translate(442.8,1138) rotate(-90)" font-size="35" text-anchor="middle" fill="#333">Flipper-TR lifetime (ns)</text>
<polyline points="489.4,981.3 492,981.6 494.6,981.4 497.1,982.7 499.7,982.6 502.3,983.8 504.9,983.5 507.4,984.5 510,985 512.6,986.4 515.2,987 517.8,988.2 520.3,989.2 522.9,989.8 525.5,991.1 528.1,991.5 530.6,991.8 533.2,992.6 535.8,993.2 538.4,992.8 541,993.8 543.5,994.3 546.1,994.4 548.7,994.9 551.3,995.2 553.9,995.7 556.4,995.5 559,996.7 561.6,997.4 564.2,998 566.7,998.5 569.3,1000 571.9,1001 574.5,1001 577.1,1003 579.6,1003.4 582.2,1003.8 584.8,1003.9 587.4,1005.4 589.9,1006.2 592.5,1005.6 595.1,1006.3 597.7,1006.5 600.3,1006.5 602.8,1006.9 605.4,1007.2 608,1007.9 610.6,1007.9 613.1,1008.4 615.7,1009.5 618.3,1010.4 620.9,1010.8 623.5,1011.7 626,1013 628.6,1013.7 631.2,1014 633.8,1015 636.3,1015.7 638.9,1016.1 641.5,1016.6 644.1,1017 646.7,1017.8 649.2,1016.9 651.8,1017.6 654.4,1018.1 657,1017.8 659.5,1018.3 662.1,1018.7 664.7,1018.8 667.3,1019 669.9,1020.1 672.4,1020.5 675,1021 677.6,1022.7 680.2,1023.3 682.8,1023.7 685.3,1025.1 687.9,1025.3 690.5,1025.3 693.1,1025.8 695.6,1026.3 698.2,1027.3 700.8,1026.3 703.4,1026.9 706,1027 708.5,1027.2 711.1,1028 713.7,1028.1 716.3,1028.3 718.8,1027.7 721.4,1029 724,1029.3 726.6,1029.9 729.2,1030.3 731.7,1031 734.3,1031.7 736.9,1032.8 739.5,1034 742,1033.5 744.6,1034 747.2,1034" fill="none" stroke="#2a2a2a" stroke-width="2.8" stroke-linejoin="round"/>
<line x1="489.4" y1="983.4" x2="747.2" y2="1038.4" stroke="#ff0000" stroke-width="1.8" stroke-dasharray="4 3"/>
<polyline points="489.4,1278.8 492,1275.5 494.6,1275.1 497.1,1277.3 499.7,1276.3 502.3,1275.7 504.9,1277.4 507.4,1278.5 510,1277.2 512.6,1273.7 515.2,1273.2 517.8,1273.2 520.3,1271.4 522.9,1269.5 525.5,1272.4 528.1,1274.8 530.6,1274.7 533.2,1271.7 535.8,1271.6 538.4,1271.5 541,1268.5 543.5,1265.8 546.1,1265.1 548.7,1267 551.3,1268.4 553.9,1266.9 556.4,1268.6 559,1271 561.6,1268.4 564.2,1264.8 566.7,1262.8 569.3,1263.8 571.9,1262.7 574.5,1262.5 577.1,1261.7 579.6,1265.1 582.2,1266.2 584.8,1263.6 587.4,1261.6 589.9,1261.3 592.5,1259.7 595.1,1256.6 597.7,1257.6 600.3,1260.1 602.8,1260.2 605.4,1259.5 608,1260 610.6,1260.7 613.1,1259.6 615.7,1255.3 618.3,1252.1 620.9,1254.1 623.5,1254.3 626,1253.8 628.6,1255.1 631.2,1257.2 633.8,1256.1 636.3,1254.4 638.9,1251.7 641.5,1250.5 644.1,1250.7 646.7,1248.5 649.2,1247.3 651.8,1251.9 654.4,1252.9 657,1252.1 659.5,1250.5 662.1,1250.3 664.7,1248.5 667.3,1245.6 669.9,1244.1 672.4,1245.4 675,1246.2 677.6,1246 680.2,1246.5 682.8,1246.2 685.3,1248.1 687.9,1245.2 690.5,1241.1 693.1,1240.4 695.6,1240.9 698.2,1240.2 700.8,1240.3 703.4,1242.7 706,1245.4 708.5,1243.2 711.1,1240.4 713.7,1239.1 716.3,1239.7 718.8,1236.9 721.4,1234.9 724,1236.6 726.6,1239.6 729.2,1239.6 731.7,1238.1 734.3,1237.3 736.9,1237.9 739.5,1235.8 742,1231.1 744.6,1230.8 747.2,1232.2" fill="none" stroke="#2a2a2a" stroke-width="2.8" stroke-linejoin="round"/>
<line x1="489.4" y1="1277.7" x2="747.2" y2="1231.7" stroke="#ff0000" stroke-width="1.8" stroke-dasharray="4 3"/>
<text x="625" y="988.9" font-size="25" fill="#ff0000">R<tspan font-size="17" dy="-10">2</tspan><tspan dy="10"> = 0.98</tspan></text>
<text x="526" y="1224" font-size="25" fill="#ff0000">R<tspan font-size="17" dy="-10">2</tspan><tspan dy="10"> = 0.97</tspan></text>
<text x="733" y="1081.7" font-size="31" text-anchor="end" fill="#333">DOPC:bSM:Chol</text>
<text x="733" y="1109" font-size="31" text-anchor="end" fill="#333">1:1:1</text>
<text x="733" y="1167" font-size="31" text-anchor="end" fill="#333">DOPC:bSM:Chol</text>
<text x="733" y="1194.4" font-size="31" text-anchor="end" fill="#333">2:2:1</text>
<text x="788.8" y="928.6" font-size="62" fill="#000">e</text>
<path d="M922.6 1283.1L979.5 1250.5M924.1 1272L970.7 1246.5M917.9 1269.4L973.5 1250.5M918.6 1268.3L971.9 1250.5M920.1 1266.6L971.3 1236.4M917.8 1258.5L979.3 1250.5M921.8 1252L974.9 1217.8M916 1249.5L979.4 1236.4M921.5 1246.4L972.5 1206.1M918.1 1244.8L976.5 1219.7M921.3 1244.2L973 1217.8M923.8 1237.4L973.6 1204.8M917.3 1235.2L978.4 1224.2M916.4 1234.1L976.9 1199.9M916.8 1231.8L976.1 1220.9M917.6 1230.5L974.1 1213.8M923.7 1227.6L974.9 1226.5M919 1226.1L976.3 1207.9M917.6 1224.6L972.2 1204.8M918.5 1223.4L973.1 1219.7M916.7 1221.4L979.4 1231.9M915.3 1221.3L978.1 1208M923.6 1220.8L977.1 1201.3M915.2 1220.6L975.2 1207.9M915.4 1213.2L976.2 1219.7M921.4 1211.3L972.8 1209.1M915.1 1210.2L975.6 1204.8M915.9 1209.9L973.4 1245.3M919.2 1209.7L978.8 1206.1M918.4 1208.3L971.8 1181.5M922.3 1208L978.2 1212.8M919.9 1207.8L971.1 1195.9M916.7 1206.6L974.3 1175.6M920.1 1206.5L972.7 1184.3M922.4 1204.6L978.4 1181.5M923.5 1201.1L978.7 1191.1M915.2 1201L976 1204.8M915.7 1199L978.9 1164.6M921.9 1198.8L977.6 1182.3M916.7 1198.3L971.1 1181.8M922.5 1197.8L976.2 1169.8M920.7 1197.4L974.9 1175.6M922.4 1197.3L973.7 1181.5M917.5 1196.6L973.8 1191.8M917.7 1196L976.4 1179.1M923.2 1192.7L971.3 1178.9M915.6 1192.6L975.3 1182.3M921.2 1192.2L972.3 1184.3M917.5 1190.1L971.1 1184.3M915.3 1189.7L975.2 1175.6M921.3 1188.6L976.6 1178.6M916.5 1187.6L971.6 1170.7M923.6 1187L975.6 1166.4M918.8 1186.4L977 1168.7M921.7 1185.3L975.4 1170.7M915.7 1180.6L978.2 1162.6M917 1178.1L971 1165.2M918.2 1177.1L975.5 1179.1M920.8 1176.4L972.2 1173.2M921.5 1175.5L975.1 1166.9M916.5 1175.2L978.4 1173.2M922.4 1174.8L978.9 1162.7M921.3 1174L972.6 1178.4M922.2 1173.4L978.9 1178.6M919.9 1173.4L979 1157.9M923.9 1172.7L974.2 1161.7M923.7 1172.2L979.2 1173.3M922.3 1171.8L970.7 1163.1M918.2 1169.8L976.2 1154.7M920.6 1169.3L977.6 1167.4M921 1168.6L972.1 1167.4M923.6 1168.2L975.5 1166.9M923.1 1166.5L972.5 1165.1M924.2 1166.2L975.7 1168.4M922.1 1166.2L977.4 1161.7M923.1 1164.5L973.9 1165.2M915.8 1163.2L974.3 1157.6M916.6 1160.8L975.6 1154.7M922.5 1160.6L973.9 1162.6M916.2 1160.1L970.8 1154.7M1034 1200.2L1083.1 1184M1032.4 1197.3L1088.9 1191.8M1032.4 1196.3L1090.7 1192M1034.3 1194.6L1084.1 1177.2M1035.4 1192.8L1084.8 1192M1029.7 1190.6L1090.8 1178M1027.7 1189.6L1085.4 1178.1M1032 1188.1L1084.3 1183.2M1028.7 1185L1089.1 1177.2M1031.8 1184.9L1088.6 1192M1033.5 1184.2L1089.8 1185.1M1034.4 1183.3L1089.4 1183.2M1035.2 1182.6L1086.4 1178.1M1032.7 1182L1086.5 1180.4M1035.1 1181.9L1087.8 1169.9M1030.2 1181.2L1087.9 1180.4M1028.9 1181.2L1083 1178.1M1029.8 1179.4L1083.1 1184M1026.2 1178.8L1082.7 1177M1030.4 1175.2L1088.8 1171M1026.6 1175L1087.7 1178.7M1027.2 1174.8L1086.5 1181.3M1028.9 1174.8L1085.9 1181.3M1032.7 1174.1L1085.6 1166.6M1029.8 1173.9L1088.5 1168.7M1027.3 1172.2L1085 1170.5M1032.7 1172.2L1089.5 1166.6M1035.2 1171.8L1084.2 1168.3M1032 1170.2L1084.7 1168.3M1032.7 1170L1089.6 1178M1027.4 1168.8L1085 1164.4M1034.8 1168.5L1085 1163.6M1032 1167.9L1089.3 1160M1028.8 1167L1089 1160M1026.2 1166.5L1084.9 1168.8M1027.7 1165.6L1085 1161.7M1028.2 1163.3L1082 1171M1033.6 1163L1083.4 1155.5M1031.5 1163L1086.9 1170.5M1034 1162.7L1089.6 1156.8M1031.9 1161.9L1083.4 1164.4M1033.2 1160.1L1082.7 1163.7M1034.7 1159.8L1084.6 1163.7M1028.5 1159.4L1083.8 1160M1029.8 1158.8L1089.1 1155.8M1034.1 1158L1088.7 1152.7M1032.9 1157.9L1084 1156.8M1029.2 1156.9L1084.6 1152.7M1030.2 1156.3L1089.8 1152.4M1035.4 1154L1082.6 1143.2M1035.1 1153.8L1090.2 1156.5M1030.4 1153.7L1088.2 1153.1M1033.4 1152.8L1083.5 1150.6M1031.9 1152.8L1090.8 1152.7M1034.3 1151.4L1090.2 1149.9M1027 1150.6L1088.4 1153.5M1030.7 1149.9L1090.2 1153.1M1027.7 1149.1L1086.8 1153.5M1027.3 1148.4L1089.2 1153.1M1032.8 1147.7L1082.1 1153.5M1029 1147.4L1083.1 1149.1M1032 1147L1087.6 1153.5M1026.8 1145.8L1090.5 1150M1035.1 1144.3L1085.9 1141.4M1031.5 1142.2L1085.1 1153.5M1031.8 1141.8L1085.5 1150.6M1030.3 1138.8L1088.7 1146.4M1027.9 1138.8L1084.5 1149.9M1033.2 1130.5L1083.9 1149.1M1026.8 1129.6L1090.2 1132.9M1139.8 1102.8L1193.4 1106.7M1143.3 1097.4L1199.1 1117.7M1139.5 1096.6L1201.5 1117.7M1143.2 1096.2L1194.9 1113.4M1146.1 1093.9L1200.9 1113.4M1140.3 1092.2L1201 1117.7M1138.6 1089.9L1196.2 1108M1141.3 1089.9L1201.8 1117.7M1140.1 1085.6L1196.5 1092.5M1139.3 1084.4L1200.5 1113.4M1139.1 1083.2L1200.8 1117.7M1140.5 1082.3L1198.1 1107.1M1145.5 1081.8L1195.5 1106.5M1142.3 1081.7L1198.9 1101.2M1142.7 1079.7L1196.7 1105.5M1143.3 1079.1L1195.9 1101.2M1138.8 1078.8L1193.1 1104.1M1143 1078.6L1198.3 1105.7M1144.8 1077.9L1194.4 1111.5M1143.6 1077.1L1197.2 1107.1M1142.2 1076.7L1200.6 1101.8M1142.2 1076.6L1197 1109.8M1143.3 1076.3L1194.4 1095.3M1145.4 1076.2L1197.8 1101.3M1137.8 1073.6L1197.4 1092.5M1146.1 1073.6L1202 1093M1141.3 1073.4L1195.4 1098.2M1146 1071.4L1195.6 1073.5M1137.6 1071.2L1195.3 1088M1141.7 1069.3L1199.2 1100.6M1138 1068.6L1196.1 1092.6M1144.1 1068.6L1196.2 1097M1139 1067.5L1199.5 1100.6M1141.4 1066.5L1199.4 1092.6M1141.9 1065.3L1200.5 1095.3M1142.1 1065.1L1202 1087.6M1144.9 1061.6L1199.6 1101.2M1141.9 1060.8L1198.6 1089.6M1140.9 1060.4L1193.7 1079.5M1145.5 1060L1200.4 1088.1M1144.5 1059.7L1200.9 1072.9M1142.5 1059.6L1202.1 1068.7M1141.8 1055.4L1202 1095.3M1138.1 1053.6L1196.5 1089.6M1142.7 1051.8L1200.5 1089.7M1142.2 1050.2L1200.3 1070.1M1140.8 1049.7L1199.2 1088.1M1144.7 1049.6L1198.5 1097M1137.6 1049.6L1199 1088.1M1137.4 1049.4L1195.8 1086.2M1138.5 1049.3L1200 1083.8M1138.9 1047.8L1199.6 1082.5M1138.1 1044.9L1194.9 1078.4M1143.8 1044.2L1201.5 1087.4M1138.1 1042.3L1198.7 1076.2M1141.1 1041.1L1198.7 1082.3M1138.1 1041L1193.2 1079.5M1138.1 1040.8L1201.2 1075.1M1141.9 1039.8L1198.6 1063.7M1138.6 1038.5L1199.3 1070.1M1145.7 1037.3L1194.8 1063.7M1144.6 1037.3L1200.8 1076.2M1146.5 1037.1L1198.2 1087.4M1143.3 1037L1196.2 1068.7M1144.6 1036.6L1195.9 1062.1M1143.1 1036.2L1198.8 1065.7M1146.5 1036L1200.2 1070.1M1138.3 1035.4L1194.6 1082.3M1140.7 1035L1196.6 1062.3M1144 1032.8L1195.4 1070.1M1142.5 1032.6L1197.2 1078.4M1140.2 1030.6L1198.9 1059.8M1141.4 1030.2L1202 1062.1M1138.6 1029.8L1201.3 1041M1143.3 1026.9L1197.2 1070.1M1138.1 1026.9L1199 1070.1M1144.8 1025.3L1196.2 1056.1M1144 1022.8L1197.9 1037.4M1138.2 1016L1200.9 1048.9M1140.3 1012.3L1197.4 1041M1144.4 1010.8L1201.1 1064M1145.3 1005.4L1196.4 1042.8M1145.2 1003.1L1194.4 1063.7M1142.5 998.2L1197 1066.2M1145.4 997.4L1199.6 1037.4M1143.5 991.3L1200.5 1037.4M1140.6 988.2L1197.1 1051.6M1138.3 987.6L1196.2 1038.1M1139.2 985.6L1199.7 1037.4M1138.6 979.9L1201.4 1039.9M1256.8 1073.8L1305.9 1102.5M1257.6 1069.1L1308.5 1097.7M1254.2 1067.2L1311.8 1102.5M1256.2 1064.5L1308 1102.5M1252.8 1064.1L1311.5 1097.7M1251 1063.4L1307 1102.5M1256.6 1060.6L1312.3 1088.6M1256.2 1058.4L1307.4 1097.3M1251.8 1058.4L1305.2 1102.5M1256.3 1057.8L1304.6 1090.8M1250.3 1057.1L1304.4 1088.8M1252.8 1056.9L1313.4 1093.9M1249.2 1056L1306.5 1098M1251.1 1051.4L1310.7 1090.1M1251.9 1050.7L1305.8 1090.1M1255 1050.6L1312.5 1088.8M1250.1 1049.7L1304.8 1102.5M1252.3 1048.2L1312.8 1090.1M1249.1 1047.1L1305.5 1069.3M1254.5 1045.5L1311.2 1072M1252.8 1045.5L1304.6 1074.4M1253.7 1045L1305.1 1080.6M1249.3 1044.2L1304.7 1073.9M1257.2 1043.8L1305.1 1074.7M1253 1042.9L1311.8 1078.2M1250.4 1042.2L1307.8 1077.3M1255.9 1041.2L1309.4 1076.3M1250.4 1041L1309.1 1088.8M1257.8 1040.8L1311.7 1069.8M1257.5 1040.7L1304.4 1069.8M1249.1 1040.3L1308.8 1073.8M1248.7 1038.1L1313.1 1072M1251.3 1037.3L1309.3 1078.2M1256.7 1037L1308.1 1073.8M1255.6 1037L1305.6 1074.7M1252.7 1036.8L1310.9 1076.3M1252.9 1036.6L1305.9 1069.3M1256.5 1036.5L1307.5 1052.5M1257 1036.4L1307.1 1056.3M1256.2 1036.4L1305.3 1068.7M1254.8 1035.9L1313 1070.6M1254.4 1035.4L1308 1049.1M1257.6 1035.2L1313.1 1072M1256.2 1034.6L1306.2 1069.8M1249.4 1034.4L1309.8 1062.6M1249.8 1031.8L1304.8 1042.9M1253.7 1031.2L1312.9 1049.1M1251.1 1030.4L1311.8 1074.7M1257.4 1029.5L1312.9 1074.4M1249.3 1028.4L1305.4 1069.3M1257.4 1025.7L1313.1 1049.1M1250.2 1025.5L1305.9 1065.9M1255.2 1025L1305.1 1064.1M1249.6 1024.6L1305.7 1041.9M1253.9 1024.2L1307.6 1064.7M1256.4 1024L1305.6 1033.7M1256.9 1021.2L1311.4 1069.3M1252 1021.2L1309.8 1061.1M1254.8 1019.7L1305.3 1030.3M1257.2 1017.3L1308.3 1062.4M1253.3 1012.3L1312 1048.1M1248.8 1010.7L1306.7 1033.7M1248.9 1010L1311 1033.7M1250.6 1009.3L1310.8 1036M1255.2 1008.4L1313.4 1034.6M1250.3 1007.3L1308 1029.1M1255.9 1005.1L1308.3 1036M1250.2 1003.3L1310.4 1042.9M1255.9 999.1L1308.3 1013.6M1252.1 998.7L1305.4 1052.1M1252.3 998.1L1311.9 1030.3M1251.9 996.1L1313 1041.9M1251.9 995.6L1308.6 1030.3M1255.8 995L1312.6 1013.6M1256.4 994.9L1308.1 1052.5M1252.8 992.3L1305.4 1049.1M1253.6 991.9L1311.7 1013.6M1250.4 991.6L1307.1 1014.1M1249.2 989.9L1308.4 1014M1253 988.5L1313.3 1014M1361.9 1156L1418.4 1121.3M1361 1153.4L1416.4 1141M1368.9 1147.1L1416.2 1143.6M1368.7 1144L1421.8 1129.8M1366.6 1143L1416.4 1140.6M1366.1 1141.8L1417.2 1130.3M1364.5 1138.3L1419.6 1141M1368.1 1138L1416.3 1131.9M1359.9 1134.8L1420.8 1143.6M1364.6 1134.5L1421.4 1129.8M1360.6 1134.5L1418.8 1143.6M1366.4 1134.3L1420.8 1139.4M1362.7 1134.1L1415.5 1129M1360.2 1129.9L1423.6 1121.6M1362.3 1127.8L1416.1 1116.7M1362.5 1127.5L1417.3 1120.7M1364.8 1125.7L1415.9 1122.7M1364.8 1125.4L1421.3 1117.1M1364.7 1124.6L1420.9 1139.4M1362 1124.1L1419 1140.2M1366.7 1123.9L1418 1118.6M1367.4 1123.3L1417.1 1140.2M1364.2 1121.5L1423.7 1114.3M1365.9 1121L1417.9 1118.6M1363.2 1121L1418 1116M1366.7 1120.5L1418.8 1109.9M1367.5 1120.3L1421.8 1116M1367.4 1120.1L1420.3 1114.8M1362.4 1120L1421.7 1118.6M1363.8 1119.9L1415.9 1109.9M1363.9 1119.9L1417.1 1116M1360.5 1119.6L1417.8 1116M1368.6 1119.5L1421.6 1111.7M1363.8 1118.6L1420.8 1110.1M1363.4 1118.4L1420.6 1115.3M1362.2 1118.3L1423.3 1113.6M1367.1 1117.7L1419.5 1116.2M1364.9 1117.4L1418.8 1112M1366.9 1117L1423.1 1116M1368.3 1116.8L1416.4 1112.7M1368.2 1116.7L1417.4 1106.2M1360.8 1116.6L1419.2 1109.9M1365.8 1116.3L1416.5 1109.9M1365.7 1115.8L1424.3 1106M1367 1115.8L1423 1107.4M1361.3 1114.1L1418.5 1106M1362.1 1113.6L1418.8 1106.5M1367.9 1112.7L1424.6 1109.7M1362.2 1111.5L1420.6 1100.7M1365.4 1111.2L1424.3 1105.1M1363.9 1111.1L1416.5 1106M1360.7 1111L1416.7 1104.5M1364.2 1110.9L1416.2 1093.7M1366.2 1110.5L1417.2 1103.2M1360.2 1110.3L1422 1098.5M1364.1 1109.8L1422.4 1108.4M1365.1 1108.5L1418.9 1104.6M1360.4 1107.2L1423.3 1100.7M1366.1 1106.9L1417.8 1100.7M1360.6 1106.6L1421.2 1100.7" stroke="#b0b0b0" stroke-opacity="0.4" stroke-width="1.1" fill="none"/>
<path d="M895.9 1174.2H943.4 V1218.9 H895.9 Z M895.9 1196.9H943.4 M919.6 1218.9V1284.1 M919.6 1174.2V1151.5 M906.4 1284.1H932.9 M906.4 1151.5H932.9" fill="none" stroke="#969696" stroke-width="2.0"/>
<path d="M951.5 1169.5H999 V1208.7 H951.5 Z M951.5 1183.7H999 M975.2 1208.7V1267.1 M975.2 1169.5V1142.8 M962 1267.1H988.5 M962 1142.8H988.5" fill="none" stroke="#969696" stroke-width="2.0"/>
<path d="M1007 1152.8H1054.5 V1182 H1007 Z M1007 1167.9H1054.5 M1030.8 1182V1202.9 M1030.8 1152.8V1126.1 M1017.5 1202.9H1044 M1017.5 1126.1H1044" fill="none" stroke="#969696" stroke-width="2.0"/>
<path d="M1062.7 1147H1110.2 V1175.4 H1062.7 Z M1062.7 1161.2H1110.2 M1086.4 1175.4V1197.1 M1086.4 1147V1125.3 M1073.2 1197.1H1099.7 M1073.2 1125.3H1099.7" fill="none" stroke="#969696" stroke-width="2.0"/>
<path d="M1118.2 1030.2H1165.8 V1077.8 H1118.2 Z M1118.2 1052.7H1165.8 M1142 1077.8V1108.6 M1142 1030.2V975.1 M1128.8 1108.6H1155.2 M1128.8 975.1H1155.2" fill="none" stroke="#969696" stroke-width="2.0"/>
<path d="M1173.8 1066.9H1221.3 V1102.8 H1173.8 Z M1173.8 1086.1H1221.3 M1197.6 1102.8V1130.3 M1197.6 1066.9V1015.2 M1184.3 1130.3H1210.8 M1184.3 1015.2H1210.8" fill="none" stroke="#969696" stroke-width="2.0"/>
<path d="M1229.5 1013.5H1277 V1046.9 H1229.5 Z M1229.5 1033.5H1277 M1253.2 1046.9V1076.1 M1253.2 1013.5V986 M1240 1076.1H1266.5 M1240 986H1266.5" fill="none" stroke="#969696" stroke-width="2.0"/>
<path d="M1285 1050.2H1332.5 V1080.3 H1285 Z M1285 1066.9H1332.5 M1308.8 1080.3V1125.3 M1308.8 1050.2V1006.8 M1295.5 1125.3H1322 M1295.5 1006.8H1322" fill="none" stroke="#969696" stroke-width="2.0"/>
<path d="M1340.7 1115.3H1388.2 V1130.3 H1340.7 Z M1340.7 1122H1388.2 M1364.4 1130.3V1154.5 M1364.4 1115.3V1102.8 M1351.2 1154.5H1377.7 M1351.2 1102.8H1377.7" fill="none" stroke="#969696" stroke-width="2.0"/>
<path d="M1396.2 1108.6H1443.8 V1123.6 H1396.2 Z M1396.2 1115.3H1443.8 M1420 1123.6V1144.5 M1420 1108.6V1091.9 M1406.8 1144.5H1433.2 M1406.8 1091.9H1433.2" fill="none" stroke="#969696" stroke-width="2.0"/>
<marker id="m2" markerWidth="12.8" markerHeight="12.8" refX="6.4" refY="6.4" markerUnits="userSpaceOnUse" overflow="visible"><circle cx="6.4" cy="6.4" r="4.4" fill="#0000ff" fill-opacity="0.55" stroke="#0000ff" stroke-opacity="0.55" stroke-width="1.0"/></marker><path d="M917 1178L918 1196L922 1197L921 1189L915 1213L920 1208L918 1170L924 1237L924 1172L921 1197L923 1165L921 1246L916 1199L918 1208L924 1272L917 1232L924 1187L922 1176L922 1173L918 1225L921 1192L918 1269L922 1161L922 1166L915 1221L916 1249L921 1244L916 1175L915 1210L918 1231L916 1181L924 1168L921 1211L917 1161L923 1283L919 1268L924 1228L916 1163L919 1210L916 1160L917 1190L916 1234L922 1198L917 1198L917 1221L921 1169L924 1221L922 1185L924 1201L922 1208L915 1221L917 1197L920 1267L916 1193L922 1252L919 1223L918 1245L918 1177L923 1166L924 1166L921 1169L922 1205L921 1176L917 1207L917 1235L922 1172L915 1201L919 1226L920 1173L916 1210L923 1193L922 1175L922 1199L916 1188L921 1174L924 1173L920 1207L918 1258L919 1186L915 1190" fill="none" stroke="none" marker-start="url(#m2)" marker-mid="url(#m2)" marker-end="url(#m2)"/>
<marker id="m3" markerWidth="12.8" markerHeight="12.8" refX="6.4" refY="6.4" markerUnits="userSpaceOnUse" overflow="visible"><circle cx="6.4" cy="6.4" r="4.4" fill="#4169e1" fill-opacity="0.55" stroke="#4169e1" stroke-opacity="0.55" stroke-width="1.0"/></marker><path d="M971 1179L976 1170L976 1155L978 1167L979 1158L977 1169L979 1179L973 1184L977 1162L976 1155L973 1209L974 1176L972 1167L972 1250L975 1218L973 1245L979 1250L971 1184L972 1171L977 1179L976 1205L978 1182L977 1200L976 1221L978 1213L978 1208L973 1218L979 1236L979 1165L975 1182L976 1208L976 1179L978 1224L974 1162L971 1182L979 1250L972 1173L976 1166L979 1206L974 1214L974 1158L971 1165L973 1165L974 1182L973 1220L975 1176L974 1205L972 1182L975 1226L974 1192L972 1205L975 1179L976 1220L977 1201L978 1182L972 1206L978 1163L974 1165L973 1250L975 1208L972 1184L971 1163L978 1173L971 1196L977 1220L975 1176L976 1167L979 1173L974 1163L979 1232L979 1191L973 1178L975 1167L976 1205L971 1247L971 1155L979 1163L975 1171L971 1236L976 1168" fill="none" stroke="none" marker-start="url(#m3)" marker-mid="url(#m3)" marker-end="url(#m3)"/>
<marker id="m4" markerWidth="12.8" markerHeight="12.8" refX="6.4" refY="6.4" markerUnits="userSpaceOnUse" overflow="visible"><circle cx="6.4" cy="6.4" r="4.4" fill="#ff8c00" fill-opacity="0.55" stroke="#ff8c00" stroke-opacity="0.55" stroke-width="1.0"/></marker><path d="M1035 1160L1029 1175L1035 1183L1033 1174L1035 1193L1033 1170L1032 1196L1026 1179L1033 1184L1029 1159L1033 1131L1030 1175L1029 1181L1033 1172L1029 1167L1028 1163L1030 1191L1034 1195L1031 1142L1028 1166L1030 1154L1032 1185L1028 1139L1027 1172L1027 1175L1033 1153L1034 1183L1032 1188L1033 1158L1030 1139L1027 1169L1029 1157L1034 1158L1034 1163L1027 1151L1033 1148L1034 1151L1032 1142L1026 1166L1032 1162L1027 1146L1031 1150L1027 1175L1027 1148L1034 1163L1035 1182L1027 1130L1032 1170L1030 1159L1034 1200L1035 1154L1030 1156L1031 1163L1035 1172L1032 1147L1032 1153L1032 1197L1035 1168L1028 1190L1033 1182L1035 1154L1030 1174L1033 1160L1029 1147L1028 1149L1035 1144L1030 1181L1032 1168L1029 1185L1030 1179" fill="none" stroke="none" marker-start="url(#m4)" marker-mid="url(#m4)" marker-end="url(#m4)"/>
<marker id="m5" markerWidth="12.8" markerHeight="12.8" refX="6.4" refY="6.4" markerUnits="userSpaceOnUse" overflow="visible"><circle cx="6.4" cy="6.4" r="4.4" fill="#ffd700" fill-opacity="0.55" stroke="#ffd700" stroke-opacity="0.55" stroke-width="1.0"/></marker><path d="M1085 1153L1085 1164L1090 1153L1084 1168L1084 1157L1085 1153L1083 1184L1084 1149L1084 1160L1086 1181L1090 1152L1086 1181L1083 1156L1085 1162L1090 1150L1089 1160L1089 1146L1087 1180L1089 1177L1085 1164L1082 1171L1086 1141L1091 1153L1088 1153L1085 1164L1084 1183L1083 1178L1089 1153L1089 1167L1083 1177L1088 1170L1088 1179L1090 1178L1089 1192L1088 1180L1086 1178L1083 1143L1084 1177L1085 1192L1089 1160L1083 1184L1084 1151L1090 1185L1089 1153L1088 1153L1083 1164L1085 1150L1085 1171L1087 1171L1091 1192L1091 1150L1089 1156L1088 1153L1085 1169L1091 1178L1089 1192L1089 1171L1085 1168L1085 1178L1089 1183L1090 1156L1090 1157L1083 1164L1083 1149L1086 1167L1089 1169L1085 1151L1090 1133L1082 1153L1087 1153" fill="none" stroke="none" marker-start="url(#m5)" marker-mid="url(#m5)" marker-end="url(#m5)"/>
<marker id="m6" markerWidth="12.8" markerHeight="12.8" refX="6.4" refY="6.4" markerUnits="userSpaceOnUse" overflow="visible"><circle cx="6.4" cy="6.4" r="4.4" fill="#008000" fill-opacity="0.55" stroke="#008000" stroke-opacity="0.55" stroke-width="1.0"/></marker><path d="M1145 1082L1140 1103L1144 1044L1142 1082L1143 1033L1139 1090L1143 1052L1141 1030L1141 1035L1139 1084L1139 1097L1145 1078L1140 1092L1138 1035L1145 997L1142 1050L1144 1077L1143 1079L1145 1062L1138 1069L1138 1042L1143 991L1142 1055L1138 1074L1144 1069L1147 1037L1137 1049L1145 1025L1139 980L1139 1079L1139 1048L1142 1069L1146 1074L1142 1040L1142 1060L1141 1060L1143 1076L1142 1061L1147 1036L1138 1016L1141 1073L1138 1071L1138 1027L1145 1037L1138 1054L1139 1030L1145 1076L1143 1037L1142 998L1140 1086L1138 1045L1144 1011L1146 1037L1143 1097L1143 1080L1143 1079L1139 986L1142 1065L1138 988L1141 1067L1140 1031L1138 1041L1145 1005L1138 1050L1144 1060L1139 1038L1141 988L1143 1096L1140 1012L1142 1065L1145 1037L1138 1041L1144 1033L1145 1050L1143 1036L1138 1049L1141 1041L1142 1077L1143 1027L1146 1094L1145 1003L1146 1071L1144 1023L1139 1068L1146 1060L1142 1077L1141 1050L1139 1083L1141 1082L1141 1090" fill="none" stroke="none" marker-start="url(#m6)" marker-mid="url(#m6)" marker-end="url(#m6)"/>
<marker id="m7" markerWidth="12.8" markerHeight="12.8" refX="6.4" refY="6.4" markerUnits="userSpaceOnUse" overflow="visible"><circle cx="6.4" cy="6.4" r="4.4" fill="#9acd32" fill-opacity="0.55" stroke="#9acd32" stroke-opacity="0.55" stroke-width="1.0"/></marker><path d="M1201 1075L1201 1113L1194 1064L1196 1038L1196 1097L1199 1082L1199 1088L1197 1093L1199 1090L1196 1086L1196 1101L1202 1062L1199 1101L1194 1080L1193 1104L1194 1095L1197 1078L1196 1062L1199 1070L1199 1093L1198 1107L1200 1070L1197 1110L1196 1108L1201 1118L1198 1101L1198 1087L1201 1041L1198 1106L1195 1106L1197 1107L1200 1101L1196 1093L1197 1052L1197 1041L1201 1040L1199 1070L1201 1073L1202 1069L1197 1070L1201 1118L1201 1049L1200 1088L1195 1070L1200 1037L1197 1093L1200 1084L1199 1076L1200 1070L1195 1088L1196 1073L1198 1037L1197 1106L1200 1101L1202 1095L1195 1078L1195 1113L1196 1043L1201 1118L1202 1087L1200 1083L1199 1066L1196 1069L1197 1062L1201 1113L1202 1093L1202 1118L1195 1098L1196 1090L1201 1102L1201 1064L1193 1080L1197 1066L1193 1107L1199 1060L1199 1101L1196 1056L1199 1064L1202 1088L1201 1076L1199 1097L1199 1118L1199 1088L1194 1112L1201 1090L1200 1037L1195 1082L1200 1037L1200 1095L1195 1064" fill="none" stroke="none" marker-start="url(#m7)" marker-mid="url(#m7)" marker-end="url(#m7)"/>
<marker id="m8" markerWidth="12.8" markerHeight="12.8" refX="6.4" refY="6.4" markerUnits="userSpaceOnUse" overflow="visible"><circle cx="6.4" cy="6.4" r="4.4" fill="#e00000" fill-opacity="0.55" stroke="#e00000" stroke-opacity="0.55" stroke-width="1.0"/></marker><path d="M1256 1065L1257 1021L1249 1044L1256 1041L1256 1036L1253 1037L1249 1034L1254 1031L1251 1063L1256 1037L1252 1051L1249 1010L1255 1025L1256 1005L1255 1051L1250 1026L1256 1058L1254 1035L1251 1009L1250 1032L1253 1057L1249 1047L1249 1056L1254 992L1256 1035L1249 1011L1253 1045L1254 1024L1251 1037L1254 1045L1255 1020L1251 1051L1249 1038L1250 1025L1250 1007L1257 1061L1257 1044L1256 995L1258 1041L1253 1037L1250 1042L1250 1041L1252 1021L1257 1036L1253 989L1252 1048L1252 996L1255 1008L1254 1067L1257 1036L1257 1030L1250 1057L1253 1064L1249 1028L1258 1035L1257 1074L1249 990L1256 999L1252 998L1257 1017L1256 1024L1256 1058L1255 1036L1250 992L1255 1045L1257 1026L1250 1003L1252 996L1253 1043L1257 1041L1257 1037L1256 995L1258 1069L1252 1058L1253 1012L1251 1030L1250 1050L1252 999L1253 992L1249 1040" fill="none" stroke="none" marker-start="url(#m8)" marker-mid="url(#m8)" marker-end="url(#m8)"/>
<marker id="m9" markerWidth="12.8" markerHeight="12.8" refX="6.4" refY="6.4" markerUnits="userSpaceOnUse" overflow="visible"><circle cx="6.4" cy="6.4" r="4.4" fill="#f08080" fill-opacity="0.55" stroke="#f08080" stroke-opacity="0.55" stroke-width="1.0"/></marker><path d="M1309 1074L1304 1089L1305 1049L1305 1081L1305 1069L1306 1103L1311 1090L1313 1090L1312 1014L1313 1035L1312 1103L1309 1078L1312 1078L1310 1043L1308 1049L1313 1071L1307 1056L1312 1089L1311 1098L1307 1098L1312 1030L1311 1072L1308 1077L1313 1049L1309 1076L1306 1075L1305 1043L1306 1070L1312 1048L1312 1089L1307 1034L1313 1094L1313 1014L1310 1063L1305 1069L1311 1034L1313 1074L1308 1062L1307 1097L1305 1074L1313 1072L1313 1014L1305 1030L1306 1069L1311 1036L1313 1072L1306 1090L1305 1074L1308 1065L1305 1103L1305 1052L1312 1075L1308 1052L1305 1064L1308 1029L1310 1061L1311 1069L1306 1066L1313 1049L1308 1036L1307 1103L1313 1042L1306 1042L1311 1076L1309 1098L1309 1030L1306 1034L1308 1103L1308 1014L1309 1089L1308 1014L1305 1091L1305 1103L1307 1014L1312 1070L1305 1069L1304 1070L1305 1075L1307 1052L1308 1074" fill="none" stroke="none" marker-start="url(#m9)" marker-mid="url(#m9)" marker-end="url(#m9)"/>
<marker id="m10" markerWidth="12.8" markerHeight="12.8" refX="6.4" refY="6.4" markerUnits="userSpaceOnUse" overflow="visible"><circle cx="6.4" cy="6.4" r="4.4" fill="#8a2be2" fill-opacity="0.55" stroke="#8a2be2" stroke-opacity="0.55" stroke-width="1.0"/></marker><path d="M1362 1120L1368 1113L1361 1114L1365 1111L1364 1121L1368 1117L1366 1116L1365 1109L1360 1110L1368 1120L1362 1156L1361 1111L1364 1120L1365 1117L1367 1118L1360 1135L1361 1107L1363 1121L1364 1111L1368 1138L1362 1111L1367 1116L1367 1123L1369 1119L1360 1120L1369 1147L1368 1117L1366 1116L1367 1120L1367 1124L1366 1110L1366 1107L1361 1134L1363 1134L1361 1117L1367 1117L1364 1111L1360 1130L1365 1126L1360 1107L1366 1134L1365 1125L1366 1121L1363 1118L1364 1119L1362 1128L1369 1144L1365 1125L1362 1118L1364 1110L1361 1153L1367 1143L1366 1142L1365 1135L1364 1120L1367 1121L1362 1114L1364 1138L1362 1124L1362 1128" fill="none" stroke="none" marker-start="url(#m10)" marker-mid="url(#m10)" marker-end="url(#m10)"/>
<marker id="m11" markerWidth="12.8" markerHeight="12.8" refX="6.4" refY="6.4" markerUnits="userSpaceOnUse" overflow="visible"><circle cx="6.4" cy="6.4" r="4.4" fill="#ee82ee" fill-opacity="0.55" stroke="#ee82ee" stroke-opacity="0.55" stroke-width="1.0"/></marker><path d="M1417 1116L1417 1103L1417 1105L1421 1139L1419 1116L1418 1106L1423 1116L1424 1105L1422 1116L1418 1116L1416 1141L1424 1122L1417 1106L1422 1112L1423 1114L1415 1129L1421 1101L1420 1115L1421 1115L1422 1108L1418 1116L1423 1101L1422 1130L1416 1144L1419 1112L1418 1121L1417 1130L1421 1144L1424 1106L1417 1140L1416 1094L1419 1144L1421 1130L1422 1098L1418 1119L1418 1101L1424 1114L1418 1119L1416 1117L1416 1106L1416 1132L1419 1105L1419 1110L1416 1110L1419 1140L1422 1119L1416 1110L1416 1141L1419 1107L1421 1139L1416 1123L1425 1110L1421 1117L1417 1121L1421 1110L1419 1110L1421 1101L1423 1107L1416 1113L1420 1141" fill="none" stroke="none" marker-start="url(#m11)" marker-mid="url(#m11)" marker-end="url(#m11)"/>
<rect x="881.8" y="956.8" width="567.8" height="354.8" fill="none" stroke="#333" stroke-width="2"/>
<path d="M881.8 998.5h-7M881.8 1040.2h-7M881.8 1081.9h-7M881.8 1123.6h-7M881.8 1165.4h-7M881.8 1207.1h-7M881.8 1248.8h-7M881.8 1290.5h-7M881.8 1311.6h-7M919.6 1311.6v7M975.2 1311.6v7M1030.8 1311.6v7M1086.4 1311.6v7M1142 1311.6v7M1197.6 1311.6v7M1253.2 1311.6v7M1308.8 1311.6v7M1364.4 1311.6v7M1420 1311.6v7" fill="none" stroke="#333" stroke-width="2"/>
<path d="M878,1306 l7,-4 M878,1300 l7,-4" fill="none" stroke="#333" stroke-width="1.5"/>
<text x="867.5" y="1011.1" font-size="38" text-anchor="end" fill="#333">4</text>
<text x="867.5" y="1094.5" font-size="38" text-anchor="end" fill="#333">3</text>
<text x="867.5" y="1178" font-size="38" text-anchor="end" fill="#333">2</text>
<text x="867.5" y="1261.4" font-size="38" text-anchor="end" fill="#333">1</text>
<text x="867.5" y="1324.2" font-size="38" text-anchor="end" fill="#333">0</text>
<text x="919.6" y="1352" font-size="38" text-anchor="middle" fill="#333">F</text>
<text x="975.2" y="1352" font-size="38" text-anchor="middle" fill="#333">R</text>
<text x="1030.8" y="1352" font-size="38" text-anchor="middle" fill="#333">F</text>
<text x="1086.4" y="1352" font-size="38" text-anchor="middle" fill="#333">R</text>
<text x="1142" y="1352" font-size="38" text-anchor="middle" fill="#333">F</text>
<text x="1197.6" y="1352" font-size="38" text-anchor="middle" fill="#333">R</text>
<text x="1253.2" y="1352" font-size="38" text-anchor="middle" fill="#333">F</text>
<text x="1308.8" y="1352" font-size="38" text-anchor="middle" fill="#333">R</text>
<text x="1364.4" y="1352" font-size="38" text-anchor="middle" fill="#333">F</text>
<text x="1420" y="1352" font-size="38" text-anchor="middle" fill="#333">R</text>
<text x="898" y="994.7" font-size="38" fill="#333">F: front</text>
<text x="898" y="1035.2" font-size="38" fill="#333">R: rear</text>
<text transform="translate(827.5,1135.5) rotate(-90)" font-size="35" text-anchor="middle" fill="#333">Flipper-TR lifetime (ns)</text>
<line x1="1545.8" y1="1181.9" x2="1764.6" y2="1181.9" stroke="#333" stroke-width="2"/>
<marker id="m12" markerWidth="12.8" markerHeight="12.8" refX="6.4" refY="6.4" markerUnits="userSpaceOnUse" overflow="visible"><circle cx="6.4" cy="6.4" r="4.4" fill="#0000ff" fill-opacity="0.55" stroke="#0000ff" stroke-opacity="0.55" stroke-width="1.0"/></marker><path d="M1588 1209L1580 1203L1583 1177L1585 1230L1584 1196L1589 1235L1584 1187L1591 1199L1581 1166L1589 1210L1590 1201L1588 1233L1585 1199L1582 1230L1581 1201L1584 1175L1583 1179L1581 1235L1586 1198L1581 1203L1583 1230L1583 1203L1588 1225L1591 1215L1583 1201L1582 1200L1586 1223L1586 1229L1588 1233L1587 1225L1588 1198L1581 1221L1584 1187L1590 1227L1581 1185L1588 1190L1587 1216L1585 1223L1589 1205L1587 1178L1590 1212L1590 1199L1589 1228L1584 1219L1587 1181L1589 1192L1583 1219L1585 1183L1586 1207L1582 1193L1582 1236L1584 1202L1588 1191L1589 1234L1582 1207L1585 1195L1580 1202L1591 1204L1589 1187L1581 1176L1590 1207L1591 1178L1586 1198L1590 1225L1580 1226L1590 1204L1588 1195L1582 1207L1588 1223L1588 1227L1585 1205L1590 1222L1583 1205L1582 1209L1587 1168L1585 1195L1585 1166L1589 1177L1589 1220L1584 1226" fill="none" stroke="none" marker-start="url(#m12)" marker-mid="url(#m12)" marker-end="url(#m12)"/>
<marker id="m13" markerWidth="12.8" markerHeight="12.8" refX="6.4" refY="6.4" markerUnits="userSpaceOnUse" overflow="visible"><circle cx="6.4" cy="6.4" r="4.4" fill="#ff8c00" fill-opacity="0.55" stroke="#ff8c00" stroke-opacity="0.55" stroke-width="1.0"/></marker><path d="M1621 1193L1617 1196L1620 1232L1624 1204L1623 1206L1623 1203L1622 1182L1624 1205L1621 1185L1623 1192L1620 1194L1621 1247L1618 1187L1621 1183L1620 1186L1619 1227L1616 1204L1620 1179L1623 1181L1624 1244L1615 1202L1621 1251L1621 1245L1617 1188L1618 1196L1619 1196L1622 1196L1625 1212L1615 1186L1620 1190L1622 1225L1620 1194L1617 1182L1622 1186L1617 1186L1614 1184L1624 1192L1621 1202L1624 1189L1623 1197L1619 1194L1617 1202L1624 1190L1620 1206L1624 1183L1622 1183L1618 1192L1619 1246L1624 1204L1625 1193L1615 1195L1622 1217L1620 1215L1616 1188L1618 1198L1622 1196L1616 1194L1621 1205L1619 1190L1618 1195L1623 1204L1625 1195L1620 1204L1614 1202L1618 1199L1622 1239L1624 1192L1617 1189L1617 1189L1621 1253" fill="none" stroke="none" marker-start="url(#m13)" marker-mid="url(#m13)" marker-end="url(#m13)"/>
<marker id="m14" markerWidth="12.8" markerHeight="12.8" refX="6.4" refY="6.4" markerUnits="userSpaceOnUse" overflow="visible"><circle cx="6.4" cy="6.4" r="4.4" fill="#008000" fill-opacity="0.55" stroke="#008000" stroke-opacity="0.55" stroke-width="1.0"/></marker><path d="M1650 1160L1659 1104L1654 1122L1648 1182L1654 1089L1657 1094L1650 1151L1648 1063L1654 1116L1649 1106L1651 1115L1651 1098L1657 1105L1652 1110L1658 1069L1655 1052L1657 1173L1653 1159L1658 1079L1651 1129L1651 1145L1655 1128L1653 1158L1659 1170L1648 1102L1655 1128L1659 1124L1650 1171L1653 1140L1657 1126L1655 1103L1649 1141L1657 1159L1651 1118L1655 1122L1655 1137L1658 1155L1654 1132L1659 1177L1652 1108L1651 1176L1654 1183L1657 1049L1654 1108L1650 1156L1658 1108L1651 1084L1656 1072L1655 1114L1653 1132L1648 1083L1656 1183L1649 1142L1653 1144L1649 1051L1655 1181L1655 1150L1649 1143L1651 1170L1648 1076L1653 1185L1653 1119L1659 1135L1652 1143L1653 1118L1658 1164L1650 1154L1650 1118L1650 1107L1650 1154L1654 1134L1653 1122L1649 1175L1656 1114L1656 1125L1654 1106L1656 1101L1656 1172L1657 1139L1650 1062L1653 1135L1651 1065L1658 1164L1648 1134L1658 1085L1653 1095L1657 1137L1657 1115L1649 1106L1656 1094" fill="none" stroke="none" marker-start="url(#m14)" marker-mid="url(#m14)" marker-end="url(#m14)"/>
<marker id="m15" markerWidth="12.8" markerHeight="12.8" refX="6.4" refY="6.4" markerUnits="userSpaceOnUse" overflow="visible"><circle cx="6.4" cy="6.4" r="4.4" fill="#e00000" fill-opacity="0.55" stroke="#e00000" stroke-opacity="0.55" stroke-width="1.0"/></marker><path d="M1689 1118L1686 1053L1689 1121L1693 1106L1693 1095L1692 1081L1684 1062L1686 1101L1691 1147L1691 1081L1690 1043L1686 1042L1691 1134L1692 1119L1683 1121L1692 1103L1684 1165L1692 1162L1693 1135L1690 1118L1692 1087L1688 1076L1692 1116L1687 1094L1688 1135L1692 1121L1691 1114L1691 1038L1690 1061L1684 1083L1692 1099L1688 1092L1687 1170L1693 1106L1687 1111L1687 1095L1688 1157L1691 1089L1691 1129L1686 1119L1685 1109L1686 1150L1692 1097L1685 1087L1690 1153L1689 1125L1687 1153L1689 1114L1692 1129L1690 1106L1686 1058L1690 1136L1684 1077L1683 1114L1687 1095L1685 1097L1687 1149L1687 1121L1688 1143L1693 1118L1691 1158L1682 1034L1691 1076L1688 1094L1687 1114L1689 1070L1692 1076L1688 1082L1687 1063L1692 1113L1690 1118L1685 1116L1693 1063L1687 1116L1686 1167L1688 1102L1682 1115L1687 1108L1685 1081L1690 1065" fill="none" stroke="none" marker-start="url(#m15)" marker-mid="url(#m15)" marker-end="url(#m15)"/>
<marker id="m16" markerWidth="12.8" markerHeight="12.8" refX="6.4" refY="6.4" markerUnits="userSpaceOnUse" overflow="visible"><circle cx="6.4" cy="6.4" r="4.4" fill="#8a2be2" fill-opacity="0.55" stroke="#8a2be2" stroke-opacity="0.55" stroke-width="1.0"/></marker><path d="M1725 1206L1726 1199L1724 1192L1719 1245L1721 1195L1720 1213L1724 1258L1718 1231L1717 1210L1720 1221L1716 1184L1727 1177L1720 1194L1724 1209L1725 1192L1723 1210L1717 1205L1724 1211L1722 1173L1717 1197L1717 1192L1717 1210L1720 1238L1722 1203L1726 1193L1726 1177L1726 1228L1723 1194L1719 1195L1717 1192L1724 1193L1722 1187L1719 1195L1722 1175L1723 1195L1718 1255L1721 1233L1724 1182L1722 1224L1723 1191L1717 1196L1725 1171L1720 1212L1719 1203L1720 1236L1723 1233L1719 1196L1722 1213L1723 1204L1717 1240L1723 1187L1719 1192L1721 1193L1717 1221L1717 1179L1718 1181L1723 1215L1726 1265L1726 1259L1725 1209" fill="none" stroke="none" marker-start="url(#m16)" marker-mid="url(#m16)" marker-end="url(#m16)"/>
<rect x="1545.8" y="959.7" width="218.8" height="355.3" fill="none" stroke="#333" stroke-width="2"/>
<path d="M1545.8 959.2h-7.6M1545.8 1003.7h-7.6M1545.8 1048.2h-7.6M1545.8 1092.8h-7.6M1545.8 1137.4h-7.6M1545.8 1181.9h-7.6M1545.8 1226.5h-7.6M1545.8 1271h-7.6M1545.8 1315.6h-7.6M1545.8 959.7h-7.6M1545.8 1315h-7.6M1585.4 1315v-7M1619.5 1315v-7M1653.6 1315v-7M1687.8 1315v-7M1721.9 1315v-7" fill="none" stroke="#333" stroke-width="2"/>
<text x="1533" y="1017.4" font-size="38" text-anchor="end" fill="#333">1.0</text>
<text x="1533" y="1106.5" font-size="38" text-anchor="end" fill="#333">0.5</text>
<text x="1533" y="1195.6" font-size="38" text-anchor="end" fill="#333">0.0</text>
<text x="1533" y="1284.7" font-size="38" text-anchor="end" fill="#333">-0.5</text>
<text x="1657.8" y="998.3" font-size="38" text-anchor="middle" fill="#333">Front-Rear</text>
<text x="1775.2" y="981.2" font-size="28" fill="#0000ff">DOPC:DOPS</text>
<text x="1775.2" y="1005.8" font-size="28" fill="#0000ff">60:40</text>
<text x="1775.2" y="1039.2" font-size="28" fill="#ff6a00">DOPC:DOPS:Ch</text>
<text x="1775.2" y="1064.8" font-size="28" fill="#ff6a00">42:28:30</text>
<text x="1775.2" y="1098" font-size="28" fill="#008000">DOPC:bSM:Ch</text>
<text x="1775.2" y="1123.9" font-size="28" fill="#008000">1:1:1</text>
<text x="1775.2" y="1156" font-size="28" fill="#d40000">DOPC:bSM:Ch</text>
<text x="1775.2" y="1182.6" font-size="28" fill="#d40000">1:1:2</text>
<text x="1775.2" y="1215" font-size="28" fill="#8a2be2">DOPC:bSM:Ch</text>
<text x="1775.2" y="1240.6" font-size="28" fill="#8a2be2">2:2:1</text>
<text x="-1.5" y="1456" font-size="62" fill="#000">f</text>
<defs><linearGradient id="fg1" x1="0" y1="0" x2="0" y2="1"><stop offset="0" stop-color="#f02828"/><stop offset="0.45" stop-color="#f88a2a"/><stop offset="1" stop-color="#ffff22"/></linearGradient><linearGradient id="fg2" x1="0" y1="0" x2="0" y2="1"><stop offset="0" stop-color="#f98628"/><stop offset="0.45" stop-color="#fcb42a"/><stop offset="1" stop-color="#ffff22"/></linearGradient></defs>
<rect x="59.3" y="1439.1" width="161.1" height="288.1" fill="#cccccc" stroke="#000" stroke-width="1.8"/>
<path d="M60.2,1582.8 Q140,1480 219.5,1582.8 V1726.3 H60.2 Z" fill="url(#fg1)"/>
<path d="M60.2,1582.8 Q140,1480 219.5,1582.8" fill="none" stroke="#000" stroke-width="1.8"/>
<rect x="59.3" y="1439.1" width="161.1" height="288.1" fill="none" stroke="#000" stroke-width="1.8"/>
<text x="70.5" y="1477" font-size="37" fill="#1a1a1a">t-1</text>
<rect x="99.4" y="1490.9" width="160.6" height="288.4" fill="#cccccc" stroke="#000" stroke-width="1.8"/>
<path d="M100.3,1599.8 Q175.4,1494 259.1,1596 V1778.4 H100.3 Z" fill="url(#fg2)"/>
<path d="M100.3,1599.8 Q175.4,1494 259.1,1596" fill="none" stroke="#000" stroke-width="1.8"/>
<path d="M100.3,1632 Q175.4,1526 259.1,1626.2" fill="none" stroke="#000" stroke-width="1.6" stroke-dasharray="5 3.5"/>
<rect x="99.4" y="1490.9" width="160.6" height="288.4" fill="none" stroke="#000" stroke-width="1.8"/>
<text x="111.3" y="1532.9" font-size="37" fill="#1a1a1a">t</text>
<path d="M264.6,1587.3 H271.4 V1626.3 H264.6 M271.4,1604.7 H286.5 V1526.8 H305" fill="none" stroke="#000" stroke-width="2.2"/>
<path d="M297,1519 L305.5,1526.8 L297,1534.6" fill="none" stroke="#000" stroke-width="2.2"/>
<path d="M305.4,1596 H317.5 V1781.2 H305.4 M317.5,1691.3 H344.5" fill="none" stroke="#000" stroke-width="2.2"/>
<path d="M336.5,1683.5 L345,1691.3 L336.5,1699.1" fill="none" stroke="#000" stroke-width="2.2"/>
<text x="261" y="1457.3" font-size="35.9" fill="#000">For <tspan font-weight="bold">each timepoint</tspan>:</text>
<text x="426" y="1492" font-size="29.5" text-anchor="middle" fill="#000">Δ area</text>
<line x1="337.2" y1="1500" x2="520.1" y2="1500" stroke="#000" stroke-width="2"/>
<text x="428.1" y="1528" font-size="28" text-anchor="middle" fill="#000">Width × Δ time</text>
<text x="318.5" y="1576" font-size="30" fill="#000">=</text>
<rect x="338.3" y="1544.2" width="221.5" height="45.4" fill="#cccccc" stroke="#000" stroke-width="2"/>
<text x="449.2" y="1575.2" font-size="30" text-anchor="middle" fill="#000">Speed (µm/min)</text>
<path d="M559.8,1566.1 H646 M636,1557 L646.5,1566.1 L636,1575.2" fill="none" stroke="#000" stroke-width="2.2"/>
<path d="M403.7,1620 V1744.3 H597" fill="none" stroke="#000" stroke-width="2.6"/>
<polyline points="403,1724.6 410.1,1733.9 418.7,1721 421.6,1723.1 428.7,1708.8 431.6,1718.8 434.5,1711.7 438,1721.7 443.8,1729.6 448.8,1726 454.5,1716 458.8,1697.4 464.5,1706.7 473.1,1697.4 478.1,1684.5 483.1,1703.1 488.9,1697.4 498.2,1680.2 501,1693.1 511.8,1685.9 518.9,1698.1 526.8,1671.6 531.1,1673 535.4,1658 541.8,1669.4 546.1,1660.1 549.7,1665.9 559.7,1645.8 563.3,1649.4 570.5,1655.8 577.6,1647.3 581.9,1630.8" fill="none" stroke="#000" stroke-width="2.3" stroke-linejoin="round"/>
<line x1="403.7" y1="1743.8" x2="581.2" y2="1639.4" stroke="#ff0000" stroke-width="2.4" stroke-dasharray="8 5"/>
<text x="429" y="1642.1" font-size="30" fill="#000">y = <tspan font-weight="bold">m</tspan>x+b</text>
<text transform="translate(387.2,1679) rotate(-90)" font-size="30" text-anchor="middle" fill="#000">Lifetime</text>
<text x="494.3" y="1775.6" font-size="30" text-anchor="middle" fill="#000">Y position</text>
<rect x="291.8" y="1805.8" width="306.2" height="46.1" fill="#cccccc" stroke="#000" stroke-width="2"/>
<text x="445" y="1838" font-size="30" text-anchor="middle" fill="#000">Lifetime slope (ns/µm)</text>
<path d="M419.6,1851.9 V1872 H729 M719,1863 L729.5,1872 L719,1881" fill="none" stroke="#000" stroke-width="2.2"/>
<marker id="m17" markerWidth="13.6" markerHeight="13.6" refX="6.8" refY="6.8" markerUnits="userSpaceOnUse" overflow="visible"><circle cx="6.8" cy="6.8" r="4.8" fill="#0000ff" fill-opacity="0.22" stroke="#0000ff" stroke-opacity="0.22" stroke-width="1.0"/></marker><path d="M1103 1684L932 1681L1246 1714L1276 1694L1175 1665L963 1627L1235 1707L1262 1715L1262 1702L1248 1728L1305 1727L1286 1691L900 1631L1267 1745L1035 1749L1231 1684L1218 1724L1119 1681L1263 1703L1256 1698L1233 1703L1045 1755L1154 1585L1202 1664L852 1631L1162 1589L1011 1601L1118 1706L1353 1699L1117 1549L1191 1577L1059 1676L993 1695L1157 1666L1175 1644L1156 1637L991 1712L1218 1708L1200 1651L1107 1591L1090 1724L1081 1642L1267 1739L1268 1704L1251 1698L1305 1711L1243 1712L1187 1627L1220 1724L1102 1543L1268 1677L1296 1733L1083 1655L1283 1722L1163 1682L1205 1695L1232 1693L1210 1676L1113 1566L1139 1671L1210 1713L1068 1690L993 1636L1085 1713L1314 1742L1249 1756L1171 1670L1295 1717L1208 1682L1044 1731L1271 1732L1207 1730L1253 1709L1275 1716L819 1582L1290 1517L858 1646L1290 1724L1262 1732L1202 1713L1261 1705L950 1606L1264 1722L1286 1741L1133 1625L1172 1713L1183 1575L1174 1721L1274 1713L1150 1650L1047 1652L1041 1571L1242 1705L1126 1739L917 1579L1120 1652L1314 1738L1215 1721L1159 1654L1311 1716L1080 1604L1216 1722L1209 1706L1208 1666L872 1501L1225 1741L973 1622L1281 1749L1194 1709L1262 1698L1125 1739L789 1530L1283 1713L1159 1691L1233 1704L871 1518L1277 1733L1175 1705L1067 1619L1234 1689L1250 1721L1342 1731L1051 1598L1265 1712L1038 1656L1164 1676L1168 1688L1208 1716L1039 1709L1240 1733L1070 1679L1126 1580L1166 1658L1071 1711L1214 1695L1166 1545L1170 1646L1283 1729L1161 1721L1212 1694L1184 1701L1183 1704L1157 1673L1168 1714L1236 1734L1156 1728L1200 1679L1188 1737L1175 1751L999 1618L1071 1698L1047 1603L1055 1720L1275 1717L1316 1758L1226 1732L1314 1685L1184 1686L1075 1663L1255 1678L779 1582L1304 1726L965 1591L1292 1695L865 1542L1234 1679L1281 1706L983 1595L1213 1719L1277 1735L1189 1706L1169 1669L1302 1730L1031 1556L1248 1704L1260 1735L1270 1741L1111 1719L1245 1704L1258 1732L1163 1608L1277 1712L1233 1678L1181 1683L1280 1746L1181 1704L1063 1691L1231 1650L1065 1591L933 1653L1214 1685L1137 1679L930 1593L801 1529L1150 1664L990 1709L1139 1683L1156 1585L820 1448L1151 1636L1285 1713L1148 1592L1100 1717L1046 1638L992 1724L1066 1618L910 1688L1213 1693L1185 1722L1177 1672L1099 1657L1300 1714L1100 1719L1301 1743L1200 1632L1291 1697L1221 1709L818 1485L1255 1693L1170 1711L1253 1716L1203 1707L1228 1695L1179 1656L1010 1721L780 1561L1187 1707L1247 1711L862 1589L1212 1688L788 1685L1167 1669L1187 1665L1240 1727L1019 1734L1241 1719L1129 1648L1127 1601L1267 1725L1218 1680L1266 1748L1312 1731L1145 1639L1263 1714L1046 1582L1176 1704L1207 1724L1253 1665L1208 1691L1025 1597L1280 1705L1215 1696L1006 1677L1232 1705L1250 1716L1198 1680L1214 1716L1206 1703L1239 1715L938 1653L1293 1733L1155 1718L1304 1745L1293 1707L908 1628L1120 1740L1278 1691L1204 1646L1207 1653L1220 1691L1175 1689L1288 1739L1110 1618L1309 1731L1005 1675L1243 1735L1092 1738L1183 1703L1035 1702L1167 1533L1271 1725L802 1577L954 1668L1126 1667L1253 1723L1231 1710L925 1655L1241 1677L1146 1660L1086 1537L1189 1717L1193 1711L1089 1537L1080 1595L1164 1598L1277 1721L1135 1721L1263 1719L1227 1642L1246 1682L1014 1607L1301 1701L806 1579L1117 1678L1087 1648L1061 1695L1181 1781L1238 1687L1308 1724L944 1617L1198 1739L1204 1696L1261 1730L1154 1708L1226 1681L1102 1670L1080 1520L1173 1689L1148 1665L1256 1718L854 1531L1207 1711L841 1476L1231 1754L1132 1557L972 1600L1196 1685L1154 1679L965 1611L1297 1752L1138 1717L1026 1667L1235 1710L1155 1586L1011 1615L1274 1687L1046 1707L1224 1746L1153 1719L1314 1696L1294 1711L1279 1732L1017 1607L1135 1568L1267 1705L1310 1726L1219 1745L1132 1661L1280 1728L1124 1548L1342 1778L844 1527L1182 1666L1244 1723L1088 1591L1133 1731L1205 1732L1076 1640L1136 1718L1157 1522L1252 1746L1163 1681L1191 1677L1232 1650L1291 1736L1202 1694L1102 1576L1227 1676L1176 1670L1154 1674L1213 1635L1315 1524L1224 1684L1256 1707L1044 1698L1285 1718L954 1694L1193 1706L1246 1680L1239 1662L1170 1705L782 1549L1129 1769L1022 1669L1274 1703L1131 1683L1158 1623L1204 1721L1304 1717L1096 1731L1193 1705L1250 1765L1234 1738L1230 1671L1012 1690L1033 1541L968 1613L1266 1701L1097 1690L1278 1720L1079 1558L1054 1589L1191 1784L1070 1640L1083 1647L1192 1675L976 1661L1213 1716L1148 1680L865 1474L1221 1743L973 1675L1251 1723L1175 1680L1219 1736L1160 1734L812 1555L1098 1599L1242 1652L876 1667L1261 1691L1046 1735L1252 1743L1213 1676L1094 1726L934 1598L1051 1703L1278 1695L967 1657L1190 1740L1246 1707L1156 1590L1017 1616L1181 1636L1319 1741L1102 1689L1263 1716L1233 1728L1274 1724L1211 1689L1122 1706L1188 1705L1074 1608L1167 1643L1122 1742L1316 1743L922 1638L907 1680L1269 1724L1178 1662L1203 1684L1259 1687L1202 1701L1284 1721L901 1573L1138 1636L1242 1689L1298 1720L941 1654L1084 1594L1309 1701L1288 1720L1217 1722L1276 1683L912 1674L1224 1735L1236 1679L1154 1553L1278 1731L803 1578L1025 1601L1316 1717L1197 1808L1240 1682L1265 1703L1297 1719L1043 1548L1283 1749L1300 1725L1255 1682L1304 1712L1216 1704L1271 1705L1296 1727L1127 1671L1223 1722L1055 1601L1292 1726L958 1695L845 1592L1219 1731L897 1518L1086 1638L1128 1673L1058 1602L1166 1636L1164 1658L1150 1710L1061 1714L1102 1661L1266 1734L1022 1681L1173 1692L1266 1694L1162 1604L1274 1700L1187 1554L1227 1699L1260 1706L968 1701L1179 1662L1272 1718L1191 1699L1284 1742L1237 1747L1124 1602L1126 1659L1065 1639L1093 1675L1107 1715L1256 1737L1116 1599L1246 1749L1260 1723L1275 1717L1161 1553L1062 1661L1106 1654L818 1566L1033 1540L1287 1713L1208 1693L1190 1680L1259 1731L1241 1697L1220 1643L1262 1730L1226 1701L1226 1684L1258 1675L879 1541L1312 1716L1312 1691L1015 1701L1238 1709L1142 1689L1034 1608L1202 1682L1236 1703L1243 1711L945 1669L1104 1610L1213 1630L1173 1564L1120 1714L1226 1677L1228 1715L1280 1727L778 1527L1298 1747L1249 1720L1207 1726L1300 1725L1168 1662L1198 1699L1313 1734L1208 1664L1232 1677L1166 1654L810 1484L1196 1647L977 1625L1148 1712L1162 1668L1285 1716L1197 1678L1169 1681L1044 1620L1012 1695L1124 1659L1074 1635L1109 1680L1106 1605L1043 1722L1128 1690L1250 1662L1022 1661L1042 1672L1049 1681L1068 1597L1238 1722L1100 1723L1287 1740L1186 1638L1244 1705L1198 1683L1019 1731L1210 1734L1212 1694L1042 1626L906 1698L978 1654L1144 1547L1059 1593L1261 1675L935 1626L1066 1693L1162 1643L1220 1674L1203 1715L1151 1733L1209 1698L1309 1719L1296 1746L1093 1656L1255 1722L1130 1653L1022 1740L973 1614L1274 1703L927 1661L879 1662L892 1509L1245 1713L1219 1678L1194 1699L1154 1670L1001 1604L1154 1651L1157 1601L1294 1710L1128 1544L1316 1693L1212 1709L1217 1654L1264 1722L1276 1705L959 1710L946 1628L1090 1739L1253 1724L1297 1695L1203 1708L1164 1664L1008 1697L966 1643L1268 1714L1313 1704L1070 1721L1212 1674L1084 1725L1169 1781L1104 1668L1249 1703L1158 1703L1266 1724L1277 1704L1309 1733L1102 1699L1211 1678L1121 1597L1244 1736L1025 1673L1263 1683L1123 1719L1140 1665L1272 1712L1116 1608L878 1612L1032 1590L1302 1757L1252 1713L1261 1687L871 1481L1231 1700L1237 1707L1061 1587L1117 1658L1259 1720L1056 1621L1316 1724L1218 1698L1270 1697L1162 1669L1229 1709L1205 1696L1130 1650L1180 1713L1051 1660L1123 1759L1054 1675L1158 1686L1180 1659L1168 1621L1310 1725L1116 1690L1037 1633L1067 1723L1185 1737L1000 1597L1290 1731L1103 1672L1234 1738L1181 1589L1148 1592L1070 1664L1266 1727L1252 1683L1303 1721L985 1606L1219 1702L1185 1660L1252 1749L912 1645L1270 1740L1171 1623L1261 1743L1244 1673L860 1570L1156 1693L1082 1522L1173 1676L1035 1702L1292 1704L1161 1708L802 1540L1252 1669L1292 1726L1198 1753L1104 1702L958 1633L1249 1713L1300 1714L1204 1712L1260 1730L1279 1699L827 1532L1296 1725L1121 1720L1265 1741L1174 1634L1030 1634L1279 1687L1310 1715L787 1579L1209 1722L967 1609L1197 1684L1113 1583L1348 1472L1102 1678L1257 1721L1191 1682L1213 1671L878 1654L1085 1678L1277 1709L1316 1736L1283 1712L1219 1681L967 1709L1062 1681L1213 1737L1274 1688L1261 1715L1254 1698L1055 1630L1164 1679L820 1605L1139 1740L1326 1725L954 1666L1307 1686L1122 1720L1253 1716L1155 1563L1129 1730L1051 1623L942 1665L1280 1721L1191 1714L964 1655L1164 1635L958 1629L1193 1642L1117 1668L1067 1555L1114 1651L1262 1705L1236 1718L1183 1677L1216 1695L1011 1705L1263 1731L1159 1566L1223 1690L1098 1585L1220 1692L1151 1653L1282 1722L1317 1727L1085 1526L1329 1751L838 1629L1048 1605L1225 1700L1111 1707L1232 1682L850 1577L975 1708L1261 1695L1064 1752L1166 1657L1285 1710L1297 1707L1178 1664L1318 1710L1140 1566L1100 1665L1277 1741L1216 1678L1128 1747L1152 1518L1021 1628L1177 1713L1134 1704L935 1665L1245 1686L1278 1707L1272 1749L1273 1721L1183 1709L1028 1648L1167 1541L1195 1692L1191 1753L1121 1722L1176 1685L1307 1685L1185 1766L1138 1715L1201 1698L1244 1719L1052 1692L1208 1654L1218 1709L1140 1671L1146 1608L1149 1600L1222 1662L1188 1665L1177 1558L1048 1683L855 1511L1216 1718L1307 1692L1158 1639L1157 1691L1223 1703L1127 1699L1248 1697L1255 1713L1273 1703L1029 1731L1203 1708L1277 1736L1248 1726L910 1627L1247 1727L1221 1704L1127 1572L877 1552L1089 1616L1136 1715L1180 1613L1175 1687L1164 1694L800 1600L1128 1715L1302 1727L1067 1539L1012 1663L892 1627L1201 1712L1245 1694L1238 1691L1194 1692L1131 1764L905 1697L1076 1642L916 1577L1285 1744L1283 1710L1058 1734L1239 1730L1281 1723L952 1617L1183 1680L969 1618L1144 1657L1254 1720L1056 1658L1150 1738L1310 1496L1138 1669L1246 1702L831 1495L1315 1733L1305 1745L1023 1630L1120 1654L1140 1555L1044 1666L1221 1710L1110 1706L918 1636L913 1653L1277 1684L968 1607L1058 1640L1169 1737L1198 1696L1271 1744L1184 1704L1184 1659L1307 1705L1138 1691L1292 1725L1203 1704L1127 1618L1163 1608L1007 1620L1145 1540L1171 1686L1124 1741L1130 1664L937 1699L1293 1729L1025 1681L1149 1667L819 1546L1198 1641L1213 1723L1194 1674L791 1618L1247 1691L1101 1700L1158 1691L1107 1570L1147 1599L1328 1740L1227 1710L1143 1673L1201 1693L906 1633L1179 1679L1045 1681L1084 1681L1217 1718L1123 1558L1201 1740L1227 1735L1076 1703L1135 1781L1282 1688L1067 1639L1299 1720L1169 1736L1038 1664L1192 1658L1263 1720L934 1662L1198 1720L992 1629L858 1631L1286 1715L1125 1619L1320 1739L1150 1664L1201 1686L1227 1715L1175 1689L1121 1705L1214 1714L1107 1739L1232 1702L1175 1613L1187 1705L1080 1645L1173 1600L1093 1534L1194 1700L1096 1642L1255 1710L900 1627L1034 1706L1335 1519L1194 1695L1124 1553L1202 1674L923 1586L1154 1690L1280 1707L1261 1717L1196 1715L955 1666L822 1564L959 1660L1108 1670L1233 1732L1181 1690L906 1621L1176 1666L1101 1576L1236 1714L1300 1791L1060 1718L1145 1695L1273 1694L1112 1672L1276 1717L1163 1672L1211 1703L778 1522L1244 1714L1261 1729L1228 1736L955 1632L1084 1539L1244 1710L1002 1597L1075 1678L1149 1659L1159 1553L1206 1703L1159 1674L952 1668L1187 1648L1254 1707L1116 1638L870 1522L1282 1742L1205 1695L886 1521L979 1637L1082 1580L1060 1584L1194 1698L1241 1697L1126 1580L1119 1618L1307 1746L1236 1673L1216 1642L1271 1722L1301 1718L1193 1670L1223 1742L1319 1723L1197 1727L1286 1693L984 1609L1198 1764L1056 1656L1182 1710L1290 1727L975 1702L967 1626L1225 1704L959 1638L1095 1524L1316 1721L1245 1726L1301 1700L1185 1574L1170 1708L1117 1742L1218 1690L955 1594L1283 1716L1298 1747L1233 1734L1171 1761L1189 1700L1068 1700L1122 1583L1057 1746L1266 1694L1294 1712L1265 1727L1161 1669L1255 1740L1193 1679L842 1458L1220 1697L1036 1658L1292 1727L1277 1738L1178 1749L1232 1707L1286 1717L1090 1646L1284 1712L1193 1606L1272 1711L799 1609L916 1656L1224 1664L1122 1659L1096 1631L1085 1508L1098 1735L1153 1626L1291 1702L1184 1723L1177 1628L1260 1720L1101 1651L1035 1695L1127 1659L1100 1678L1106 1549L1214 1724L907 1625L1275 1734L1208 1715L1264 1722L1219 1665L1219 1716L902 1652L1233 1723L1184 1590L1207 1696L1201 1668L992 1631L1209 1706L1294 1712L1157 1518L1276 1702L1242 1707L1062 1687L1086 1603L1157 1661L1249 1723L1172 1604L1186 1694L1272 1712L1303 1735L1207 1702L1075 1594L1214 1724L1070 1603L1055 1551L1294 1729L1144 1731L1311 1692L1209 1734L1158 1620L1179 1731L1143 1694L1163 1613L1213 1725L1276 1725L1195 1686L1218 1711L1150 1636L1196 1714L1300 1734L1142 1660L1135 1628L1052 1603L1226 1686L1142 1688L1168 1712L1089 1651L1178 1535L1218 1692L1265 1692L1178 1760L1256 1702L1036 1601L1276 1729L878 1531L1094 1635L1215 1720L1106 1643L1198 1677L1191 1725L1200 1675L1203 1705L1259 1738L1085 1610L1237 1715L1207 1640L1029 1665L853 1542L963 1712L1300 1734L1245 1672L1165 1761L1080 1649L1266 1691L1001 1608L1072 1690L1288 1710L1031 1654L1086 1704L1242 1705L1148 1673L1275 1682L974 1592L1097 1697L1185 1702L1184 1754L1082 1678L1210 1702L1093 1578L894 1648L1052 1673L1225 1663L1156 1595L1083 1633L1119 1541L1094 1682L1141 1691L1266 1716L1236 1709L1187 1723L1116 1728L1190 1715L1196 1711L1222 1652L1153 1621L891 1687L1300 1714L930 1679L860 1507L1171 1625L857 1492L1272 1719L1021 1672L929 1683L1290 1714L1291 1715L1185 1689L1153 1668L1193 1670L1043 1620L1234 1708L1284 1718L1077 1704L1162 1719L1188 1700L1076 1568L1170 1527L1184 1711L977 1687L1214 1692L1278 1724L944 1631L1212 1661L842 1453L1264 1726L1228 1695L1315 1722L1175 1624L1278 1695L1124 1734L1312 1697L998 1665L1111 1717L1193 1737L1244 1722L1136 1694L1038 1728L1026 1693L1097 1636L1101 1725L1103 1637L1167 1717L1182 1565L1027 1675L1143 1647L1194 1716L952 1641L1013 1652L1242 1730L1300 1725L1086 1719L988 1601L1123 1666L1196 1697L1011 1668L1213 1661L1013 1650L1293 1694L1204 1698L1158 1628L1208 1695L959 1616L1199 1697L1282 1743L1354 1685L1074 1690L1280 1724L1224 1675L1235 1649L1257 1674L889 1621L1217 1683L1180 1629L1075 1709L1065 1711L1314 1722L1284 1728L1161 1699L1159 1634L1266 1727L1192 1668L1205 1731L1195 1725L1251 1718L1125 1567L1255 1738L879 1623L953 1654L1002 1711L1129 1597L1279 1726L1147 1555L787 1539L977 1679L1267 1698L1158 1605L1172 1658L1185 1662L1094 1661L1143 1682L927 1664L1281 1714L918 1626L1302 1699L1308 1736L1069 1765L851 1626L1153 1602L1263 1500L1301 1711L1231 1709L1131 1670L1124 1592L847 1481L1254 1691L1248 1712L968 1594L1117 1731L1159 1625L939 1675L971 1622L1233 1708L1249 1716L921 1648L1309 1726L1154 1616L1231 1713L1165 1703L1166 1720L1129 1708L1309 1756L1200 1692L1185 1638L1162 1701L1212 1674L1264 1720L1177 1723L1240 1727L1128 1732L1254 1736L1134 1766L1271 1677L1151 1663L1055 1701L1310 1683L1175 1558L1199 1794L1239 1709L1209 1721L1313 1709L1259 1707L1132 1703L845 1570L1176 1683L1103 1670L1298 1725L1290 1713L1205 1691L1220 1711L1241 1692L1112 1668L944 1671L1171 1676L1209 1708L1154 1581L1214 1728L1026 1656L1245 1707L1281 1731L1164 1646L984 1620L1297 1746L1244 1659L1249 1725L1283 1723L1194 1725L1175 1720L1088 1700L1307 1757L1029 1606L1159 1678L1087 1720L1248 1692L1030 1613L1251 1724L1081 1599L1169 1685L1163 1694L1210 1687L1269 1734L1177 1536" fill="none" stroke="none" marker-start="url(#m17)" marker-mid="url(#m17)" marker-end="url(#m17)"/>
<path d="M783.6 1525H832.1 V1571.8 H783.6 Z M783.6 1535.3H832.1 M807.9 1571.8V1635.8 M807.9 1525V1472 M794.9 1635.8H820.9 M794.9 1472H820.9" fill="none" stroke="#333" stroke-width="2.4"/>
<path d="M843.6 1530.5H892.1 V1618.6 H843.6 Z M843.6 1586.2H892.1 M867.9 1618.6V1675 M867.9 1530.5V1446.6 M854.9 1675H880.9 M854.9 1446.6H880.9" fill="none" stroke="#333" stroke-width="2.4"/>
<path d="M904.2 1624.8H952.8 V1666.7 H904.2 Z M904.2 1649.5H952.8 M928.5 1666.7V1710.8 M928.5 1624.8V1568.4 M915.5 1710.8H941.5 M915.5 1568.4H941.5" fill="none" stroke="#333" stroke-width="2.4"/>
<path d="M964 1616.5H1012.5 V1678.4 H964 Z M964 1656.4H1012.5 M988.3 1678.4V1725.9 M988.3 1616.5V1586.9 M975.3 1725.9H1001.3 M975.3 1586.9H1001.3" fill="none" stroke="#333" stroke-width="2.4"/>
<path d="M1024.2 1616.5H1072.8 V1690.8 H1024.2 Z M1024.2 1668.1H1072.8 M1048.5 1690.8V1769.9 M1048.5 1616.5V1525.7 M1035.5 1769.9H1061.5 M1035.5 1525.7H1061.5" fill="none" stroke="#333" stroke-width="2.4"/>
<path d="M1084.8 1617.9H1133.3 V1708.7 H1084.8 Z M1084.8 1669.5H1133.3 M1109.1 1708.7V1761.7 M1109.1 1617.9V1521.6 M1096.1 1761.7H1122.1 M1096.1 1521.6H1122.1" fill="none" stroke="#333" stroke-width="2.4"/>
<path d="M1145.5 1613.1H1194 V1689.4 H1145.5 Z M1145.5 1647.5H1194 M1169.7 1689.4V1786.5 M1169.7 1613.1V1509.9 M1156.7 1786.5H1182.7 M1156.7 1509.9H1182.7" fill="none" stroke="#333" stroke-width="2.4"/>
<path d="M1205.7 1680.5H1254.2 V1712.8 H1205.7 Z M1205.7 1699.1H1254.2 M1229.9 1712.8V1755.5 M1229.9 1680.5V1635.1 M1216.9 1755.5H1242.9 M1216.9 1635.1H1242.9" fill="none" stroke="#333" stroke-width="2.4"/>
<path d="M1265.8 1708.7H1314.3 V1730.7 H1265.8 Z M1265.8 1719.7H1314.3 M1290.1 1730.7V1756.9 M1290.1 1708.7V1673.6 M1277.1 1756.9H1303.1 M1277.1 1673.6H1303.1" fill="none" stroke="#333" stroke-width="2.4"/>
<rect x="742.4" y="1417.2" width="615.9" height="377.5" fill="none" stroke="#333" stroke-width="2"/>
<path d="M742.4 1417h-7.5M742.4 1451.4h-7.5M742.4 1485.8h-7.5M742.4 1520.2h-7.5M742.4 1554.6h-7.5M742.4 1589h-7.5M742.4 1623.4h-7.5M742.4 1657.8h-7.5M742.4 1692.2h-7.5M742.4 1726.6h-7.5M742.4 1761h-7.5M742.4 1795.4h-7.5M778 1794.7v7.5M856.2 1794.7v7.5M934.4 1794.7v7.5M1012.6 1794.7v7.5M1090.8 1794.7v7.5M1169 1794.7v7.5M1247.2 1794.7v7.5M1325.4 1794.7v7.5" fill="none" stroke="#333" stroke-width="2"/>
<text x="727.9" y="1465.1" font-size="38" text-anchor="end" fill="#333">4</text>
<text x="727.9" y="1533.9" font-size="38" text-anchor="end" fill="#333">3</text>
<text x="727.9" y="1602.7" font-size="38" text-anchor="end" fill="#333">2</text>
<text x="727.9" y="1671.5" font-size="38" text-anchor="end" fill="#333">1</text>
<text x="727.9" y="1740.3" font-size="38" text-anchor="end" fill="#333">0</text>
<text x="727.9" y="1809.1" font-size="38" text-anchor="end" fill="#333">-1</text>
<text x="778" y="1833.2" font-size="38" text-anchor="middle" fill="#333">-0.15</text>
<text x="934.4" y="1833.2" font-size="38" text-anchor="middle" fill="#333">-0.10</text>
<text x="1090.8" y="1833.2" font-size="38" text-anchor="middle" fill="#333">-0.05</text>
<text x="1247.2" y="1833.2" font-size="38" text-anchor="middle" fill="#333">0.0</text>
<text x="1340" y="1461" font-size="30.5" text-anchor="end" fill="#333">DOPS:DOPS</text>
<text x="1340" y="1488.3" font-size="30.5" text-anchor="end" fill="#333">60:40</text>
<text transform="translate(689.3,1630.4) rotate(-90)" font-size="38" text-anchor="middle" fill="#333">Spreading speed (µm/min)</text>
<text x="1047.6" y="1877.1" font-size="38" text-anchor="middle" fill="#333">F-TR lifetime gradient slope (ns/µm)</text>
<marker id="m18" markerWidth="13.6" markerHeight="13.6" refX="6.8" refY="6.8" markerUnits="userSpaceOnUse" overflow="visible"><circle cx="6.8" cy="6.8" r="4.8" fill="#ff8c00" fill-opacity="0.3" stroke="#ff8c00" stroke-opacity="0.3" stroke-width="1.0"/></marker><path d="M1659 1657L1949 1733L1801 1690L1818 1759L1958 1719L1742 1468L1875 1703L1771 1716L1755 1712L1882 1710L1792 1702L1928 1721L1872 1712L1762 1595L1954 1742L1839 1710L1892 1721L1672 1689L1835 1741L1758 1700L1928 1730L1889 1691L1953 1713L1585 1627L1658 1587L1787 1730L1900 1699L1844 1717L1736 1624L1664 1733L1952 1730L1954 1691L1703 1573L1899 1695L1768 1522L1944 1701L1856 1743L1651 1701L1766 1664L1873 1720L1666 1637L1854 1697L1738 1517L1903 1726L1794 1748L1815 1697L1918 1725L1935 1715L1829 1706L1919 1729L1758 1721L1868 1702L1414 1697L1891 1749L1502 1650L1794 1727L1531 1767L1866 1701L1866 1711L1846 1696L1622 1672L1878 1726L1938 1685L1803 1660L1794 1709L1958 1715L1874 1705L1911 1710L1884 1702L1827 1676L1559 1735L1657 1700L1901 1735L1896 1740L1957 1727L1796 1691L1844 1716L1879 1708L1960 1700L1419 1623L1896 1712L1919 1698L1718 1652L1844 1702L1973 1740L1516 1714L1494 1603L1841 1678L1836 1666L1883 1713L1861 1759L1486 1697L1606 1710L1863 1700L1962 1735L1725 1633L1673 1738L1841 1700L1798 1721L1832 1691L1884 1680L1882 1695L1808 1703L1892 1701L1937 1724L1764 1709L1931 1701L1821 1711L1822 1692L1844 1690L1899 1701L1700 1566L1931 1725L1813 1697L1893 1721L1844 1703L1893 1718L1777 1742L1871 1745L1775 1713L1751 1635L1809 1742L1875 1725L1827 1706L1802 1661L1795 1705L1803 1668L1871 1712L1866 1715L1869 1723L1924 1719L1657 1723L1725 1635L1785 1667L1534 1612L1916 1685L1654 1668L1752 1472L1858 1669L1728 1496L1763 1698L1556 1743L1793 1701L1812 1705L1786 1695L1959 1711L1643 1681L1831 1671L1838 1694L1953 1686L1873 1740L1794 1703L1842 1713L1842 1701L1960 1728L1662 1712L1792 1736L1853 1686L1835 1704L1921 1735L1831 1707L1858 1737L1483 1591L1898 1732L1860 1743L1788 1671L1808 1651L1799 1683L1910 1733L1906 1715L1837 1714L1731 1687L1861 1725L1932 1725L1884 1697L1698 1730L1793 1708L1857 1735L1554 1621L1850 1759L1889 1719L1705 1704L1762 1703L1654 1674L1899 1708L1785 1654L1943 1715L1739 1711L1807 1726L1958 1714L1806 1720L1526 1687L1727 1664L1961 1719L1817 1707L1872 1684L1892 1705L1760 1685L1916 1730L1890 1723L1715 1674L1764 1738L1719 1532L1801 1682L1956 1714L1872 1704L1717 1701L1823 1717L1861 1687L1856 1704L1726 1641L1637 1684L1880 1710L1830 1677L1854 1727L1661 1657L1902 1731L1444 1615L1777 1714L1927 1726L1811 1686L1939 1714L1858 1683L1860 1718L1794 1703L1867 1743L1897 1709L1853 1665L1680 1695L1735 1662L1895 1754L1849 1716L1880 1717L1803 1646L1881 1706L1827 1712L1841 1721L1625 1646L1943 1725L1872 1672L1817 1657L1853 1741L1826 1712L1897 1721L1772 1725L1938 1679L1714 1651L1889 1708L1940 1707L1849 1708L1887 1697L1888 1690L1912 1696L1452 1625L1926 1712L1868 1708L1874 1689L1853 1706L1962 1716L1828 1652L1962 1721L1868 1723L1920 1714L1898 1673L1779 1740L1840 1745L1773 1641L1967 1701L1885 1710L1907 1725L1677 1655L1740 1541L1944 1731L1782 1708L1415 1633L1852 1738L1838 1717L1699 1642L1806 1745L1959 1682L1873 1712L1865 1719L1574 1757L1815 1678L1927 1734L1857 1702L1914 1715L1572 1692L1767 1609L1831 1707L1838 1730L1850 1729L1762 1598L1746 1737L1748 1711L1746 1619L1859 1700L1574 1720L1839 1704L1879 1750L1671 1679L1729 1710L1591 1684L1875 1701L1808 1678L1761 1711L1822 1710L1942 1709L1820 1713L1940 1700L1759 1754L1800 1727L1634 1681L1860 1678L1707 1748L1929 1723L1809 1672L1897 1701L1705 1585L1797 1708L1951 1685L1870 1727L1776 1730L1600 1686L1758 1728L1786 1741L1883 1719L1891 1724L1891 1691L1752 1739L1785 1734L1835 1707L1886 1702L1842 1720L1816 1733L1862 1686L1846 1708L1949 1712L1804 1666L1833 1708L1836 1729L1810 1647L1891 1756L1962 1718L1792 1690L1645 1699L1861 1703L1798 1739L1861 1708L1780 1640L1401 1630L1855 1718L1710 1644L1639 1676L1646 1732L1775 1705L1876 1669L1640 1691L1929 1728L1910 1695L1826 1710L1883 1725L1788 1752L1723 1720L1948 1721L1900 1712L1846 1715L1823 1709L1874 1702L1868 1689L1759 1756L1830 1697L1567 1616L1878 1698L1897 1695L1862 1703L1879 1736L1785 1645L1902 1693L1874 1706L1903 1731L1837 1729L1853 1704L1800 1722L1898 1707L1884 1722L1873 1698L1669 1606L1471 1692L1860 1701L1474 1687L1833 1692L1694 1540L1632 1717L1863 1677L1812 1711L1790 1489L1719 1685L1923 1722L1944 1700L1942 1702L1684 1718L1864 1710L1689 1650L1684 1765L1863 1717L1755 1659L1846 1707L1798 1693L1827 1693L1938 1740L1831 1716L1898 1705L1881 1706L1786 1740L1879 1743L1774 1683L1689 1634L1923 1684L1819 1647L1825 1682L1807 1719L1867 1721L1852 1694L1863 1716L1762 1711L1868 1701L1905 1733L1843 1717L1846 1728L1897 1744L1682 1711L1930 1712L1795 1695L1890 1735L1906 1685L1903 1724L1880 1712L1749 1732L1963 1720L1726 1653L1780 1684L1795 1710L1892 1685L1764 1740L1703 1677L1853 1673L1856 1688L1933 1688L1631 1624L1888 1713L1786 1701L1802 1688L1854 1724L1852 1705L1847 1687L1560 1616L1723 1662L1890 1688L1775 1679L1845 1740L1865 1697L1868 1711L1632 1719L1897 1708L1810 1707L1833 1711L1884 1715L1647 1677L1830 1729L1887 1697L1912 1736L1926 1730L1788 1721L1872 1699L1746 1713L1832 1715L1885 1717L1938 1722L1738 1695L1831 1650L1828 1702L1866 1720L1915 1708L1899 1734L1855 1691L1937 1686L1796 1709L1774 1683L1891 1754L1805 1708L1524 1605L1875 1699L1899 1744L1859 1667L1940 1740L1428 1649L1907 1704L1819 1693L1658 1697L1820 1719L1775 1704L1948 1738L1885 1722L1887 1708L1838 1707L1806 1705L1770 1771L1778 1706L1867 1721L1674 1688L1836 1696L1751 1739L1898 1720L1853 1716L1896 1701L1889 1755L1949 1720L1910 1721L1748 1584L1883 1688L1798 1671L1870 1726L1836 1695L1825 1707L1887 1702L1806 1704L1815 1725L1800 1670L1695 1753L1847 1712L1602 1701L1484 1621L1784 1644L1854 1723L1906 1709L1905 1707L1788 1708L1893 1718L1838 1706L1934 1691L1844 1683L1770 1575L1883 1745L1811 1736L1902 1706L1870 1700L1830 1697L1830 1682L1525 1640L1483 1694L1813 1704L1920 1698L1811 1713L1893 1714L1776 1610L1795 1747L1881 1733L1838 1694L1928 1738L1407 1608L1783 1672L1860 1718L1900 1720L1834 1712L1654 1648L1859 1723L1826 1725L1726 1674L1829 1714L1904 1697L1934 1707L1823 1711L1808 1520L1841 1711L1895 1682L1800 1714L1851 1718L1716 1625L1911 1720L1527 1743L1888 1699L1848 1678L1825 1702L1898 1703L1890 1700L1885 1697L1878 1753L1887 1718L1897 1686L1733 1577L1884 1721L1704 1672L1699 1499L1917 1727L1918 1725L1847 1705L1730 1726L1705 1680L1896 1676L1747 1636L1824 1710L1840 1738L1755 1706L1497 1619L1850 1704L1682 1760L1919 1720L1929 1727L1791 1686L1880 1715L1804 1704L1885 1711L1778 1696L1539 1766L1741 1698L1663 1716L1638 1759L1878 1716L1725 1660L1873 1710L1600 1691L1860 1722L1893 1704L1754 1728L1871 1735L1855 1704L1886 1725L1829 1677L1720 1595L1804 1708L1903 1696L1835 1723L1736 1631L1859 1719L1732 1630L1893 1739L1762 1763L1751 1549L1909 1699L1891 1707L1890 1682L1896 1733L1800 1669L1707 1582L1740 1662L1891 1713L1812 1730L1687 1729L1431 1653L1838 1684L1839 1705L1673 1710L1872 1710L1933 1696L1848 1694L1957 1685L1948 1741L1912 1719L1845 1720L1881 1756L1872 1707L1807 1655L1764 1715L1614 1630L1858 1707L1828 1794L1861 1700L1791 1731L1861 1674L1809 1678L1876 1714L1838 1695L1792 1744L1674 1702L1757 1733L1830 1650L1889 1692L1695 1755L1883 1729L1654 1750L1790 1709L1835 1725L1831 1700L1861 1700L1894 1704L1925 1723L1850 1707L1655 1570L1937 1722L1734 1743L1852 1701L1873 1722L1730 1573L1600 1682L1653 1648L1913 1719L1884 1719L1919 1700L1878 1680L1818 1662L1537 1678L1858 1729L1754 1766L1742 1738L1865 1727L1676 1617L1783 1680L1741 1626L1951 1700L1723 1704L1942 1735L1682 1718L1900 1676L1930 1704L1860 1711L1872 1700L1792 1698L1898 1677L1893 1714L1794 1719L1779 1702L1795 1704L1830 1715L1566 1747L1905 1736L1885 1725L1755 1642L1941 1708L1855 1689L1838 1710L1812 1706L1853 1719L1832 1730L1853 1703L1820 1731L1775 1451L1842 1695L1798 1699L1848 1723L1896 1719L1758 1711L1873 1725L1777 1719L1783 1729L1800 1696L1937 1729L1554 1678L1480 1685L1855 1710L1528 1608L1933 1708L1863 1711L1867 1693L1876 1725L1701 1738L1859 1682L1931 1728L1889 1695L1890 1752L1828 1690L1854 1702L1563 1704L1750 1701L1799 1697L1840 1702L1937 1714L1917 1715L1918 1711L1704 1706L1859 1717L1848 1719L1893 1698L1836 1733L1748 1710L1465 1716L1484 1703L1833 1700L1919 1717L1736 1584L1831 1695L1838 1690L1734 1712L1860 1706L1828 1650L1874 1704L1498 1703L1789 1720L1443 1721L1799 1683L1835 1686L1703 1643L1651 1641L1799 1697L1774 1711L1946 1706L1863 1708L1627 1678L1897 1751L1954 1719L1938 1716L1901 1722L1712 1734L1658 1671L1914 1709L1812 1652L1953 1743L1525 1712L1931 1725L1600 1665L1855 1734L1772 1563L1864 1740L1892 1728L1744 1716L1827 1718L1783 1710L1780 1714L1870 1697L1892 1686L1950 1681L1881 1716L1941 1710L1947 1696L1474 1610L1523 1678L1827 1681L1893 1708L1949 1682L1957 1712L1453 1697L1872 1729L1762 1657L1775 1703L1951 1727L1752 1676L1791 1653L1791 1711L1957 1689L1737 1720L1792 1749L1907 1690L1842 1708L1851 1711L1719 1593L1859 1720L1820 1684L1960 1727L1717 1710L1943 1682L1903 1712L1847 1753L1692 1664L1698 1565L1663 1582L1847 1694L1838 1712L1852 1681L1849 1728L1924 1734L1802 1709L1801 1692L1817 1695L1778 1647L1609 1701L1934 1717L1818 1730L1915 1707L1901 1702L1617 1675L1556 1737L1841 1708L1819 1685L1858 1666L1953 1713L1952 1696L1786 1710L1930 1731L1891 1716L1768 1630L1946 1701L1904 1716L1666 1614L1689 1610L1817 1686L1848 1754L1860 1751L1671 1706L1681 1683L1774 1673L1611 1695L1781 1670L1631 1726L1749 1663L1874 1710L1935 1711L1858 1722L1957 1709L1776 1707L1855 1728L1683 1740L1921 1739L1649 1646L1785 1709L1773 1755L1437 1619L1875 1710L1732 1721L1918 1710L1826 1648L1798 1673L1690 1652L1913 1715L1878 1704L1758 1716L1887 1679L1891 1711L1857 1713L1906 1716L1803 1665L1884 1729L1852 1547L1897 1666L1852 1742L1915 1695L1908 1707L1960 1718L1817 1691L1782 1672L1880 1700L1872 1710L1477 1609L1857 1707L1918 1728L1806 1706L1704 1709L1896 1709L1864 1708L1902 1707L1891 1733L1819 1702L1821 1711L1615 1681L1868 1703L1825 1716L1960 1731L1929 1725L1835 1743L1878 1693L1948 1698L1829 1711L1918 1732L1877 1727L1880 1724L1913 1722L1755 1707L1859 1706L1807 1708L1915 1713L1900 1680L1904 1717L1762 1708L1850 1750L1759 1650L1800 1681L1896 1708L1730 1686L1852 1695L1654 1727L1857 1745L1863 1717L1767 1601L1939 1715L1952 1712L1861 1701L1683 1665L1680 1649L1793 1657L1845 1669L1815 1739L1873 1732L1566 1716L1915 1714L1770 1427L1916 1701L1700 1516L1846 1680L1884 1722L1924 1733L1790 1731L1880 1712L1880 1694L1922 1689L1794 1721L1828 1714L1913 1726L1754 1737L1529 1685L1624 1686L1691 1722L1927 1743L1786 1747L1836 1651L1537 1674L1849 1697L1962 1733" fill="none" stroke="none" marker-start="url(#m18)" marker-mid="url(#m18)" marker-end="url(#m18)"/>
<path d="M1405 1620H1455 V1691.5 H1405 Z M1405 1631.7H1455 M1430 1691.5V1730.6 M1430 1620V1604.2 M1417 1730.6H1443 M1417 1604.2H1443" fill="none" stroke="#333" stroke-width="2.4"/>
<path d="M1468 1623.4H1518 V1688.7 H1468 Z M1468 1644.7H1518 M1493 1688.7V1725.8 M1493 1623.4V1585 M1480 1725.8H1506 M1480 1585H1506" fill="none" stroke="#333" stroke-width="2.4"/>
<path d="M1531 1663.3H1581 V1725.8 H1531 Z M1531 1700.4H1581 M1556 1725.8V1773.2 M1556 1663.3V1596.6 M1543 1773.2H1569 M1543 1596.6H1569" fill="none" stroke="#333" stroke-width="2.4"/>
<path d="M1594 1668.8H1644 V1716.9 H1594 Z M1594 1684.6H1644 M1619 1716.9V1767.7 M1619 1668.8V1607.6 M1606 1767.7H1632 M1606 1607.6H1632" fill="none" stroke="#333" stroke-width="2.4"/>
<path d="M1656.3 1641.3H1706.3 V1723.1 H1656.3 Z M1656.3 1687.3H1706.3 M1681.3 1723.1V1767.7 M1681.3 1641.3V1538.9 M1668.3 1767.7H1694.3 M1668.3 1538.9H1694.3" fill="none" stroke="#333" stroke-width="2.4"/>
<path d="M1719.7 1626.2H1769.7 V1714.1 H1719.7 Z M1719.7 1691.5H1769.7 M1744.7 1714.1V1765 M1744.7 1626.2V1501.2 M1731.7 1765H1757.7 M1731.7 1501.2H1757.7" fill="none" stroke="#333" stroke-width="2.4"/>
<path d="M1781.6 1680.5H1831.6 V1712.1 H1781.6 Z M1781.6 1700.4H1831.6 M1806.6 1712.1V1755.3 M1806.6 1680.5V1635.1 M1793.6 1755.3H1819.6 M1793.6 1635.1H1819.6" fill="none" stroke="#333" stroke-width="2.4"/>
<path d="M1844.2 1698.3H1894.2 V1722.4 H1844.2 Z M1844.2 1709.3H1894.2 M1869.2 1722.4V1760.8 M1869.2 1698.3V1660.5 M1856.2 1760.8H1882.2 M1856.2 1660.5H1882.2" fill="none" stroke="#333" stroke-width="2.4"/>
<path d="M1907.2 1707.9H1957.2 V1728.5 H1907.2 Z M1907.2 1718.2H1957.2 M1932.2 1728.5V1753.3 M1932.2 1707.9V1677.7 M1919.2 1753.3H1945.2 M1919.2 1677.7H1945.2" fill="none" stroke="#333" stroke-width="2.4"/>
<rect x="1381.1" y="1416.6" width="613.8" height="377.7" fill="none" stroke="#333" stroke-width="2"/>
<path d="M1381.1 1416.6h-7.5M1381.1 1451h-7.5M1381.1 1485.3h-7.5M1381.1 1519.7h-7.5M1381.1 1554h-7.5M1381.1 1588.4h-7.5M1381.1 1622.8h-7.5M1381.1 1657.1h-7.5M1381.1 1691.5h-7.5M1381.1 1725.8h-7.5M1381.1 1760.1h-7.5M1381.1 1794.5h-7.5M1415.4 1794.3v7.5M1493.7 1794.3v7.5M1572 1794.3v7.5M1650.3 1794.3v7.5M1728.6 1794.3v7.5M1806.9 1794.3v7.5M1885.2 1794.3v7.5M1963.5 1794.3v7.5" fill="none" stroke="#333" stroke-width="2"/>
<text x="1415.4" y="1832.8" font-size="38" text-anchor="middle" fill="#333">-0.15</text>
<text x="1572" y="1832.8" font-size="38" text-anchor="middle" fill="#333">-0.10</text>
<text x="1728.6" y="1832.8" font-size="38" text-anchor="middle" fill="#333">-0.05</text>
<text x="1885.2" y="1832.8" font-size="38" text-anchor="middle" fill="#333">0.0</text>
<text x="1968" y="1461.8" font-size="30.5" text-anchor="end" fill="#333">DOPS:DOPS:Chol</text>
<text x="1968" y="1489" font-size="30.5" text-anchor="end" fill="#333">42:28:30</text>
<text x="1689.3" y="1878.1" font-size="38" text-anchor="middle" fill="#333">F-TR lifetime gradient slope (ns/µm)</text>
<marker id="m19" markerWidth="13.6" markerHeight="13.6" refX="6.8" refY="6.8" markerUnits="userSpaceOnUse" overflow="visible"><circle cx="6.8" cy="6.8" r="4.8" fill="#32cd32" fill-opacity="0.3" stroke="#32cd32" stroke-opacity="0.3" stroke-width="1.0"/></marker><path d="M488 2158L455 2148L229 2213L436 2202L391 2162L479 2168L337 2173L431 2137L307 2094L694 2181L332 2132L569 2065L324 2236L506 1940L307 2164L693 1984L312 2166L668 2154L426 2147L404 2129L491 2160L571 2140L276 2224L318 2187L404 2123L205 2274L502 2164L476 2121L470 2139L438 2092L293 2259L387 2140L624 2145L435 2112L500 2137L509 2150L215 2240L197 2244L474 2179L530 2153L448 2124L473 2143L315 2164L292 2276L649 2047L511 2065L341 2173L265 2206L457 2100L530 2136L351 2149L649 2153L421 2151L680 2182L480 2150L358 2116L513 2142L459 2156L280 2156L342 2186L502 2144L576 2139L510 2135L498 2112L636 2133L341 1959L378 2154L444 2219L509 2126L391 2151L359 2134L512 2064L548 2163L382 2059L429 2145L197 2219L526 2165L196 2246L298 2058L518 2111L441 2267L557 2179L279 2190L317 2237L402 2195L521 2168L429 2202L323 2129L264 2167L492 2154L579 2264L460 2147L334 2185L677 2117L457 2150L398 2204L458 2159L414 2160L580 2108L389 2159L262 2236L538 2136L271 2165L389 2147L337 2166L367 2141L421 2168L467 2165L498 2115L505 2144L476 2144L371 2125L526 2136L242 1992L474 2193L253 2173L441 2147L283 2204L327 2174L334 2164L440 2157L299 2262L350 2117L552 2139L368 2126L489 2194L630 2066L622 2026L384 2183L257 2250L367 2166L465 2136L292 2229L487 2173L370 2157L417 2152L364 2267L338 2132L477 2162L652 2111L395 2141L213 1963L417 2172L376 2061L378 2223L269 2226L636 2130L318 1983L330 2164L558 2180L453 2150L487 2165L496 2141L191 2240L396 2194L453 2134L459 2128L240 2218L687 2129L336 2067L346 2161L514 2167L499 2159L581 2117L307 2199L176 2230L277 2198L156 2223L635 2143L292 2234L442 2204L253 2216L373 2153L286 2278L388 2179L592 2060L502 2112L327 2186L353 2205L660 2155L365 2153L529 2064L397 2154L419 2128L487 2150L493 2130L492 2137L430 2152L315 2182L432 2147L436 2113L357 2137L301 2198L379 2145L354 2126L512 2136L270 2130L595 2163L288 2176L469 2145L379 2167L467 2154L372 2153L409 2149L235 2235L416 2167L517 2142L197 2234L415 2200L335 2082L341 2207L450 2187L345 2174L599 2136L342 2161L214 2245L374 2153L533 2083L182 2236L287 2164L280 2249L474 2158L277 2221L477 2166L162 2245L398 2209L611 2160L291 2048L319 2044L445 2165L272 2211L375 2071L600 2017L423 2109L534 2144L617 2101L415 2219L378 2087L420 2187L613 2128L229 2229L462 2190L547 2084L515 2181L331 2152L219 2258L205 2272L470 2157L382 2141L516 2150L622 2123L377 2119L430 2178L441 2138L426 2172L374 2068L634 2126L493 2174L657 2085L639 2244L211 2205L431 2090L653 2043L641 2183L263 2096L587 2047L415 2093L421 2112L481 2180L304 2215L613 2116L387 2139L412 2189L287 2129L454 2104L670 2121L556 2149L591 2105L591 2152L377 2065L431 2160L424 2148L563 2038L396 2095L328 2143L472 2149L425 2153L368 2181L479 2148L425 2138L461 2109L441 2142L460 2154L264 2287L363 2157L542 2118L565 2086L356 2210L313 2235L307 2149L367 2160L398 2162L347 2124L534 2036L494 2162L392 2116L337 2170L491 2108L349 2160L378 2156L349 2098L448 2140L412 2179L355 2163L555 2027L634 2138L475 2157L312 2133L436 2149L611 2092L393 2176L389 2186L286 2208L508 2149L383 2149L313 2161L258 2208L298 2074L434 2149L326 2157L407 2164L364 2170L423 2149L553 1942L343 2086L507 2152L578 2066L246 2163L593 2127L538 2084L336 2138L389 2183L332 2146L350 2079L343 2064L295 2172L349 2111L497 2155L480 2158L422 2131L281 2184L636 2134L518 2089L421 2139L268 2248L519 2046L249 2226L397 2115L493 2112L481 2040L414 2145L408 2108L222 2013L253 2250L402 2160L588 2149L338 2166L283 2286L468 2133L448 2169L477 2160L479 2147L251 2022L462 2151L472 2108L391 2164L313 2115L647 2096L458 2120L307 2236L626 2114L399 2141L396 2134L216 2187L166 2216L693 2142L572 2127L477 2149L246 2161L437 2171L480 2139L560 2098L392 2143L480 2143L422 2139L548 2162L359 2056L511 2179L487 2142L323 2065L491 2151L486 2141L332 2083L645 2127L480 2128L386 2178L329 2187L424 2155L539 2110L153 2227L539 2118L592 2135L421 2199L395 2153L428 2149L531 2167L355 2156L592 2152L514 2114L472 2183L692 2123L361 2214L620 2059L292 2163L601 2141L396 2155L425 2132L373 2177L254 2163L590 2097L424 2157L209 2243L483 2154L618 2120L362 2150L333 2032L466 2170L270 2182L492 2003L402 2179L264 2242L322 2060L335 2150L430 2136L438 2143L299 2235L693 2140L361 2117L343 2174L252 1962L424 2159L440 2147L320 2199L532 2130L374 2154L604 1997L638 2139L352 2165L497 2147L431 2148L270 2192L309 2254L395 2177L279 2214L438 2118L214 2200L421 2141L397 2133L337 2130L537 2140L362 2151L333 2171L569 2006L426 2165L319 2184L507 2157L425 2114L454 2110L429 2166L437 2197L477 2150L433 2187L274 2236L379 2149L376 2176L606 2120L274 2159L630 2152L244 2250L457 2155L390 2099L389 2155L406 2173L363 2100L398 2161L420 2142L298 2253L445 2118L467 2134L364 2156L355 2152L433 2195L393 2163L245 2227L225 2154L372 2156L531 2142L317 2145L358 2149L411 2161L439 2171L348 2159L353 2129L473 2136L296 2100L297 2156L625 2099L417 2149L417 2143L418 2145L438 2140L413 2162L598 2096L375 2132L552 2168L358 2193L376 2133L424 2154L667 2106L487 2119L385 2163L591 2156L338 2172L600 2156L417 2168L475 2127L302 2056L495 2155L302 2116L389 2179L393 2112L316 2234L432 2108L304 2185L442 2145L376 2167L621 2148L565 2116L505 2142L365 2201L613 2151L630 2012L216 2258L385 2117L525 2156L433 2165L365 2181L622 2164L651 2125L224 2233L506 2163L374 2135L369 2144L219 2169L204 2185L445 2150L553 2144L658 2122L226 2196L677 2112L479 2127L459 2146L468 2157L216 2158L339 2151L367 2100L227 2182L342 2136L343 2069L531 2119L472 2151L308 2113L431 2172L331 2115L478 2146L285 2077L493 2159L392 2189L422 2018L383 2169L490 2157L393 2163L450 2101L490 2147L495 2169L297 2094L475 2157L566 2138L512 2159L697 2119L264 2262L421 2203L382 2150L330 2144L200 2262L352 2176L328 2154L447 2150L523 2153L300 2169L327 2139L477 2100L422 2157L489 2108L417 2141L437 2171L349 2052L600 2142L300 2210L487 2055L531 2083L451 2166L324 2109L611 2125L438 2149L390 2147L569 2065L264 2089L372 2060L504 2140L394 2104L448 2154L380 2156L393 2103L582 2153L310 2187L442 2186L372 2102L406 2152L532 2170L489 2154L469 2161L687 2125L415 2086L399 2153L492 2126L358 2157L459 2152L393 2158L455 2141L434 2158L364 2193L277 2184L430 2164L444 2152L530 2146L577 2144L463 2153L525 2124L430 2151L400 2012L415 2183L317 2230L255 2184L332 2177L587 2133L395 2124L345 2161L662 2185L426 2145L413 2151L694 2098L675 2082L535 2164L375 2203L445 2129L417 2167L293 2054L329 2152L333 2158L387 2206L575 2138L297 2236L386 2152L264 2251L443 2179L293 2232L587 2157L303 2155L550 2092L390 2152L480 2144L484 2112L354 2137L554 2148L520 2148L375 2139L183 2224L263 2211L634 2247L386 2214L257 2153L436 2142L513 2144L229 2225L547 2147L466 2145L408 2119L625 2147L287 2152L560 2168L338 2158L589 2165L246 2226L449 2137L267 2222L496 2146L265 2231L500 2155L456 2166L510 2131L454 2141L522 2097L439 2120L386 2105L558 2141L585 2102L302 2201L422 2139L430 2154L259 2236L580 2094L507 2162L455 2152L304 2010L585 2098L450 2140L211 2186L537 1969L315 2080L469 2148L381 2186L491 2160L455 2139L538 2175L484 2164L457 2157L354 2132L502 2181L386 2106L509 2114L520 2140L410 2009L472 2141L209 2047L475 2131L391 2184L559 2136L316 2227L211 2202L436 2101L281 2235L359 2154L341 2117L552 2002L418 2154L349 2127L472 2148L471 2135L484 2152L491 2188L328 2158L382 2148L272 2264L409 2140L463 2153L625 2154L374 1953L443 2152L278 2231L432 2119L316 2179L300 2169L455 2123L443 2159L490 2178L459 2156L666 2128L439 2114L397 2155L501 2138L365 2102L453 1946L490 2036L323 2159L278 2229L474 2143L327 2111L584 2160L619 2060L370 2083L347 2128L383 2171L403 2150L448 2154L476 2151L559 2180L581 2138L474 2147L378 2131L373 2132L470 2105L438 2146L354 2096L405 2164L472 2139L294 2039L338 2160L484 2114L549 2160L557 2071L495 1964L149 2237L431 2136L409 2158L545 2130L282 2152L615 2108L388 2157L221 2252L414 2120L340 2144L423 2165L503 2141L356 2160L240 2153L625 2136L419 2138L321 2138L473 2155L442 2150L393 2136L430 2105L431 2142L477 2156L674 2175L473 2155L509 2134L391 2137L339 2107L397 2142L391 2155L411 2046L468 2147L420 2136L303 2250L251 2162L283 2106L240 2256L377 2132L442 2161L472 2150L224 2228L431 2087L324 2069L473 2173L437 2169L384 2153L475 2149L454 2147L290 2081L379 2165L570 2063L369 2144L548 2049L467 2158L448 2180L673 2126L549 2146L443 2195L318 2069L244 1981L683 2174L636 2170L429 2148L196 2222L387 2141L618 2088L645 2105L455 2167L684 2118L254 2189L359 2054L501 2145L627 2113L466 2116L423 2164L520 2125L334 2183L326 2128L396 2198L570 2254L558 2134L555 2142L454 2162L349 2137L410 2213L435 2133L334 1937L243 2249L516 2165L479 2128L252 2217L336 2164L403 2093L632 2152L387 2128L497 2167L612 2141L238 2227L218 2232L227 1990L450 2144L516 2111L538 2137L575 2133L259 2258L203 1996L326 2221L382 2123L438 2134L493 2103L386 2153L401 2144L413 2159L420 2132L285 2154L355 2180L329 2107L324 2155L295 2087L281 2136L302 2187L169 2243L225 1939L459 2142L554 2149L436 2144L452 2176L406 2163L203 2241L448 1946L406 2202L458 2112L375 2137L401 2243L660 2121L622 2109L384 2201L351 2192L611 2166L400 2132L492 2155L230 2159L404 2140L552 2135L508 2116L392 1967L593 2106L426 2169L359 2176L505 2171L335 2217L354 2138L621 2074L499 2133L458 2170L639 2081L272 2091L467 2139L401 1938L412 2155L341 2155L692 2187L345 2186L646 2139L299 2197L206 2250L446 2179L268 2204L365 2113L333 2161L640 2050L599 2106L342 2157L418 2128L461 2132L406 2205L323 2225L511 2108L486 2134L601 2142L440 2166L294 2246L532 2140L441 2131L410 2140L417 2147L542 2149L508 2157L372 2169L289 2229L460 2137L507 2110L322 2118L477 1983L372 2106L455 2150L498 2152L407 2116L424 2156L626 2128L315 1941L319 2212L277 2224L648 2079L288 2262L330 2220L422 2164L456 2106L383 2188L423 2124L234 2187L504 1941L496 2136L139 2252L435 2149L220 2011L691 2121L413 2205L429 2110L196 2179L500 2124L439 2170L347 2212L141 2226L320 2138L417 2031L348 2128L350 2093L524 2113L466 2156L362 2219L174 2243L296 2150L387 2148L211 2159L328 2158L601 2162L514 2151L536 2105L417 2163L563 2144L300 2125L329 2183L569 2116L411 2142L399 2156L256 2235L311 2230L417 2130L199 2258L399 2158L527 2135L297 2165L346 2121L440 2140L342 2196L384 2209L190 2222L544 2230L365 2172L215 2252L212 2267L564 2162L334 2130L485 2155L553 2088L457 2150L394 2190L627 2098L456 2160L449 2112L438 2148L395 2154L491 2149L364 2164L440 2136L212 2184L489 2146L498 2042L367 2157L502 2124L275 2178L501 2155L653 2145L430 2117L543 2145L397 2182L275 2234L288 2160L377 2040L223 2224L373 2123L466 2162L421 2135L346 2132L377 2126L576 2157L404 2184L496 2272L337 2148L349 2117L453 2132L355 2118L390 2147L300 1950L389 1998L548 2114L386 2202L310 2252L318 2227L391 2185L525 2116L536 2130L146 2239L230 2201L582 2125L356 2056L487 2143L466 2151L639 2116L699 2042L467 2179L609 2135L392 2164L568 2144L529 2144L442 2166L387 2170L300 2193L377 2152L638 2267L575 2158L388 2143L342 2162L237 2163L392 2137L345 2140L331 2200L350 2160L319 2166L482 2154L469 2130L344 2141L503 2039L654 2152L333 2160L514 2147L645 2107L277 2165L339 2138L350 2161L338 2157L465 2167L408 2104L677 2114L470 2158L523 2131L337 2166L601 2156L484 2144L206 2050L485 2119L492 2149L412 2211L556 2158L323 2160L337 2129L426 1972L581 2117L397 2124L489 2141L491 2174L472 2144L567 2125L401 2099L413 2141L322 2167L559 2132L388 2159L368 2214L661 2111L569 2125L351 2209L501 2173L539 2135L249 2233L430 2147L241 2230L388 2148L441 2204L204 2215L157 2267L588 2162L286 1943L445 2140L405 2155L243 1990L405 2115L348 2184L249 2194L383 2164L212 2006L463 2186L374 2159L555 2073L381 2141L445 2154L476 2151L500 2187L450 2116L375 2157L334 2187L484 2162L291 2225L414 2137L383 2158L489 1949L459 2157L335 2140L542 2170L271 2274L328 2192L416 2179L366 2106L471 2133L184 2234L372 2106L315 2240L683 2148L357 2167L617 2129L269 2247L475 2189L323 2133L417 2204L356 2155L432 2128L408 2103L597 2126L366 2154L281 2286L275 2285L537 1986L432 2012L268 2241L354 2107L511 2126L294 2246L441 2143L667 2102L484 2154L529 2162L269 1952L443 2154L681 2121L491 2141L274 2089L327 2162" fill="none" stroke="none" marker-start="url(#m19)" marker-mid="url(#m19)" marker-end="url(#m19)"/>
<path d="M137.4 2227.8H188.4 V2243 H137.4 Z M137.4 2237.5H188.4 M162.9 2243V2255.4 M162.9 2227.8V2221.6 M149.9 2255.4H175.9 M149.9 2221.6H175.9" fill="none" stroke="#333" stroke-width="2.4"/>
<path d="M200.5 2188.6H251.5 V2238.9 H200.5 Z M200.5 2226.5H251.5 M226 2238.9V2274 M226 2188.6V2149.3 M213 2274H239 M213 2149.3H239" fill="none" stroke="#333" stroke-width="2.4"/>
<path d="M264.4 2149.3H315.4 V2230.6 H264.4 Z M264.4 2199.6H315.4 M289.9 2230.6V2283.6 M289.9 2149.3V2029.4 M276.9 2283.6H302.9 M276.9 2029.4H302.9" fill="none" stroke="#333" stroke-width="2.4"/>
<path d="M327.1 2119.7H378.1 V2167.2 H327.1 Z M327.1 2152H378.1 M352.6 2167.2V2236.8 M352.6 2119.7V2050.1 M339.6 2236.8H365.6 M339.6 2050.1H365.6" fill="none" stroke="#333" stroke-width="2.4"/>
<path d="M390.2 2134.8H441.2 V2167.9 H390.2 Z M390.2 2153.4H441.2 M415.7 2167.9V2218.9 M415.7 2134.8V2083.8 M402.7 2218.9H428.7 M402.7 2083.8H428.7" fill="none" stroke="#333" stroke-width="2.4"/>
<path d="M452.9 2133.4H503.9 V2159.6 H452.9 Z M452.9 2147.2H503.9 M478.4 2159.6V2195.4 M478.4 2133.4V2096.9 M465.4 2195.4H491.4 M465.4 2096.9H491.4" fill="none" stroke="#333" stroke-width="2.4"/>
<path d="M514.7 2112.1H565.7 V2147.9 H514.7 Z M514.7 2131.4H565.7 M540.2 2147.9V2186.5 M540.2 2112.1V2061.8 M527.2 2186.5H553.2 M527.2 2061.8H553.2" fill="none" stroke="#333" stroke-width="2.4"/>
<path d="M579 2105.9H630 V2148.6 H579 Z M579 2133.4H630 M604.5 2148.6V2172.7 M604.5 2105.9V2056.3 M591.5 2172.7H617.5 M591.5 2056.3H617.5" fill="none" stroke="#333" stroke-width="2.4"/>
<path d="M642.1 2116.2H693.1 V2146.5 H642.1 Z M642.1 2126.5H693.1 M667.6 2146.5V2190.6 M667.6 2116.2V2072.8 M654.6 2190.6H680.6 M654.6 2072.8H680.6" fill="none" stroke="#333" stroke-width="2.4"/>
<rect x="100.2" y="1926.8" width="614.4" height="377.3" fill="none" stroke="#333" stroke-width="2"/>
<path d="M100.2 1926h-7.5M100.2 1960.5h-7.5M100.2 1994.9h-7.5M100.2 2029.4h-7.5M100.2 2063.8h-7.5M100.2 2098.3h-7.5M100.2 2132.8h-7.5M100.2 2167.2h-7.5M100.2 2201.7h-7.5M100.2 2236.1h-7.5M100.2 2270.5h-7.5M100.2 2305h-7.5M135.3 2304.1v7.5M203.7 2304.1v7.5M272.1 2304.1v7.5M340.5 2304.1v7.5M408.9 2304.1v7.5M477.3 2304.1v7.5M545.7 2304.1v7.5M614.1 2304.1v7.5M682.5 2304.1v7.5" fill="none" stroke="#333" stroke-width="2"/>
<text x="85.7" y="1974.2" font-size="38" text-anchor="end" fill="#333">4</text>
<text x="85.7" y="2043.1" font-size="38" text-anchor="end" fill="#333">3</text>
<text x="85.7" y="2112" font-size="38" text-anchor="end" fill="#333">2</text>
<text x="85.7" y="2180.9" font-size="38" text-anchor="end" fill="#333">1</text>
<text x="85.7" y="2249.8" font-size="38" text-anchor="end" fill="#333">0</text>
<text x="85.7" y="2318.7" font-size="38" text-anchor="end" fill="#333">-1</text>
<text x="203.7" y="2342.6" font-size="38" text-anchor="middle" fill="#333">0.0</text>
<text x="340.5" y="2342.6" font-size="38" text-anchor="middle" fill="#333">0.1</text>
<text x="477.3" y="2342.6" font-size="38" text-anchor="middle" fill="#333">0.2</text>
<text x="614.1" y="2342.6" font-size="38" text-anchor="middle" fill="#333">0.3</text>
<text x="694.5" y="1972.2" font-size="30.5" text-anchor="end" fill="#333">DOPC:bSM:Chol</text>
<text x="694.5" y="1999" font-size="30.5" text-anchor="end" fill="#333">1:1:1</text>
<text transform="translate(37.5,2136) rotate(-90)" font-size="38" text-anchor="middle" fill="#333">Spreading speed (µm/min)</text>
<text x="410.3" y="2390.7" font-size="38" text-anchor="middle" fill="#333">F-TR lifetime gradient slope (ns/µm)</text>
<marker id="m20" markerWidth="13.6" markerHeight="13.6" refX="6.8" refY="6.8" markerUnits="userSpaceOnUse" overflow="visible"><circle cx="6.8" cy="6.8" r="4.8" fill="#ff0000" fill-opacity="0.26" stroke="#ff0000" stroke-opacity="0.26" stroke-width="1.0"/></marker><path d="M1015 2189L1053 2233L1032 2173L1140 2129L1006 2174L995 2239L973 2235L946 2172L956 2219L914 2251L1027 2203L1154 2045L948 2211L1190 2141L930 2235L1051 2182L1208 2179L1012 2209L901 2233L912 2197L1170 2137L1064 2168L1248 2095L1013 2212L956 2238L1178 2150L850 2184L930 2256L1039 2187L1085 2206L1162 2159L1018 2186L982 2186L1193 2168L984 2190L1024 2241L957 2208L1172 2168L1155 2138L974 2232L901 2265L1115 2228L1004 2212L1007 2211L1021 2195L1213 2111L1231 2116L1163 2129L998 2218L1044 2188L1082 2193L1156 2115L1095 2172L1057 2229L872 2201L1074 2258L1015 2198L991 2229L1039 2221L1039 2198L924 2151L867 2201L1007 2202L915 2184L990 2230L842 2225L1076 2198L958 2233L1036 2177L1063 2207L996 2198L986 2167L1234 2105L1158 2125L1004 2228L1052 2211L986 2163L1142 2154L1307 1995L1026 2203L1159 2156L1163 2145L823 2293L1009 2221L1169 2132L1083 2172L966 2209L1076 2177L936 2142L987 2205L1001 2159L934 2147L1182 2109L1021 2191L926 2224L871 2174L1015 2205L890 2231L1001 2216L969 2229L1006 2146L1165 2149L1112 2211L947 2214L943 2210L867 2232L1006 2192L1019 2186L855 2207L1139 2188L1017 2213L1041 2168L989 2231L1207 2138L991 2210L938 2217L991 2184L1192 2134L1144 2188L1012 2209L942 2178L1039 2218L1059 2209L975 2196L1000 2146L1285 2005L959 2227L876 2214L905 2240L1006 2146L1252 2107L1268 2021L958 2230L1116 2198L1001 2188L978 2159L1025 2187L886 2172L847 2210L916 2225L1018 2207L1062 2157L963 2225L1006 2206L1104 2140L979 2206L1052 2196L1080 2245L873 2204L992 2215L1218 2095L878 2203L1012 2206L1055 2178L1021 2211L1305 2020L986 2201L1024 2202L949 2243L983 2217L999 2194L1187 2126L1048 2156L769 2241L835 2188L963 2221L1038 2231L1172 2043L767 2244L925 2207L1003 2144L1030 2218L998 2206L1109 2163L944 2221L1118 2204L954 2202L916 2184L1184 2142L914 2183L927 2225L999 2188L1070 2186L1024 2194L1038 2208L771 2290L1070 2196L817 2236L1003 2185L1113 2177L1155 2173L943 2222L1296 2097L1102 2184L857 2171L953 2224L1066 2188L857 2199L1285 2058L980 2192L1036 2202L982 2201L1224 2104L1193 2101L1040 2171L1057 2184L1068 2194L1140 2131L901 2188L980 2208L932 2236L1216 2118L994 2191L1060 2185L1191 2002L980 2162L1094 2167L993 2212L887 2191L881 2204L991 2168L1197 2110L1244 2116L1066 2234L1089 2195L1083 2144L1075 2199L837 2265L971 2225L1078 2144L1047 2199L1012 2198L956 2226L1017 2204L925 2271L889 2224L985 2222L1016 2215L1049 2188L1280 2002L1089 2185L946 2166L1131 2165L868 2268L1025 2204L1048 2195L1125 2067L881 2223L1002 2194L1236 2129L1049 2200L921 2145L962 2225L1022 2220L1035 2178L1057 2195L828 2283L1000 2203L874 2205L1122 2171L946 2235L957 2215L902 2227L964 2218L928 2246L1105 2231L1179 2173L938 2227L992 2194L1042 2195L989 2203L866 2179L909 2211L1015 2195L1080 2212L1117 2185L909 2220L1072 2216L1101 2155L1098 2216L1048 2193L1034 2217L1084 2183L985 2219L933 2144L1012 2174L843 2176L1218 2124L1037 2175L1044 2192L1019 2244L1067 2196L1215 2009L1059 2163L982 2232L1126 2187L1179 2152L973 2199L887 2197L1092 2206L778 2233L1110 2216L968 2193L966 2176L969 2196L1167 2142L1052 2180L848 2195L937 1988L1099 2193L1048 2180L1015 2198L1045 2209L870 2272L902 2211L1150 2155L811 2242L1041 2203L997 2172L952 2204L1140 2154L863 2212L860 2192L1299 2025L959 2189L784 2235L1011 2171L1186 2128L1195 2129L1105 2169L1242 2126L1026 2199L981 2222L884 2191L931 2237L1206 2088L974 2227L1072 2181L1074 2246L993 2156L1058 2198L1033 2185L1096 2182L899 2215L1042 2237L1064 2197L948 2210L1109 2205L967 2225L959 2178L927 2176L1123 2028L1117 2216L1030 2237L946 2235L1178 2143L1118 2159L936 2211L989 2185L1030 2160L1007 2193L838 2226L923 2218L1034 2204L1210 2159L1031 2197L1102 2210L983 2213L1051 2187L1000 2205L1194 2165L959 2230L1067 2199L1090 2184L1213 2118L1075 2012L1054 2202L1108 2181L1065 2188L995 2204L963 2203L1282 2073L1015 2181L1057 2181L1270 2105L920 2199L1244 2088L1106 2169L1215 2062L1031 2240L947 2131L966 2221L1012 2188L1187 2123L988 2219L1088 2191L973 2225L1068 2207L1014 2207L873 2200L1019 2184L1048 2189L999 2161L1006 2195L1016 2200L878 2191L1023 2248L1189 2027L781 2234L1020 2193L1157 2160L1029 2199L1092 2202L1174 2156L966 2186L833 2205L1180 2015L1023 2212L905 2264L964 2245L1037 2206L1047 2199L1033 2196L1069 2159L929 2131L1286 2093L912 2232L1293 2051L1044 2202L1019 2237L1007 2199L1139 2151L983 2215L961 2225L958 2167L1051 2224L1274 2060L1127 2133L1016 2210L1044 2183L1304 1974L1208 2153L910 2236L1032 2213L1220 2129L1026 2204L1007 2204L1027 2162L1029 2203L894 2169L1015 2191L1051 2214L844 2214L994 2188L1031 2203L974 2243L979 2221L968 2195L1233 2113L879 2232L1172 2159L888 2201L992 2204L1319 1933L1140 2130L1069 2224L989 2243L842 2213L1036 2191L818 2246L1118 2179L1175 2072L840 2239L998 2234L1037 2190L1182 2098L924 2180L1039 2191L1017 2185L946 2223L984 2231L1120 2148L1093 2229L1023 2233L846 2213L1104 2151L980 2176L996 2228L1032 2171L1071 2182L1258 2099L1310 2018L1062 2184L1122 2180L861 2207L1166 2150L826 2236L838 2244L1202 2125L1114 2176L1098 2175L1185 2100L865 2197L1044 2215L1011 2190L1017 2239L1064 2180L995 2215L1122 2174L1055 2187L1006 2201L1107 2165L856 2173L865 2192L974 2289L1312 2125L1004 2171L855 2176L1219 2126L899 2148L906 2230L956 2192L1231 2108L917 2219L1043 2168L956 2199L857 2217L990 2191L824 2221L1234 2090L1054 2198L1033 2193L1170 2036L1195 2186L1030 2215L1091 2227L1180 2133L1015 2164L1216 2163L1221 2155L1029 2201L826 2239L1058 2163L788 2235L965 2191L900 2164L941 2223L862 2198L1043 2170L1217 2123L1079 2204L1030 2217L847 2223L964 2177L1240 2043L1030 2189L803 2242L999 2218L1000 2189L1096 2189L959 2180L891 2253L851 2226L1241 2101L1271 2032L1092 2233L859 2272L861 2203L996 2194L1003 2226L1070 2145L1169 2136L1040 2202L1092 2159L1096 2168L917 2155L1256 2022L1299 2090L1048 2190L1102 2176L958 2194L1188 2174L992 2184L952 2213L961 2219L996 2165L974 2252L1049 2188L944 2129L960 2186L1236 2139L1122 2162L1066 2197L1030 2237L1187 2126L927 2231L1101 2220L1020 2206L1152 2145L982 2199L1105 2200L834 2214L963 2197L886 2219L994 2218L1082 2206L1056 2182L993 2193L976 2212L1064 2182L1030 2194L1185 2122L954 2238L1002 2202L937 2227L1122 2189L998 2203L965 2191L1011 2188L961 2236L1191 2167L1147 2046L1201 2169L1282 2006L1127 2129L875 2220L1251 2069L1117 2201L936 2189L925 2215L950 2192L936 2234L1083 2194L1036 2190L963 2211L984 2215L1068 2162L1031 2233L1057 2190L1008 2193L923 2205L1214 2125L1079 2242L1194 2102L1046 2223L1072 2226L1005 2232L1208 2143L978 2159L1064 2188L1136 2194L1214 2125L1250 2136L773 2242L779 2232L1099 2145L1212 2096L1005 2192L984 2162L1034 2199L951 2207L1067 2177L966 2222L948 2197L1007 2211L1094 2188L1176 2130L1175 2163L929 2215L857 2171L1241 2103L1296 2073L1031 2191L963 2249L984 2197L1019 2198L977 2161L1301 2083L996 2203L872 2179L1066 2181L939 2164L847 2221L924 2164L1068 2212L993 2200L1173 2183L1062 2189L1067 2155L1231 2116L1254 2091L1003 2218L1213 2106L968 2208L912 2227L1006 2150L860 2195L1142 2168L975 2198L994 2239L1001 2182L1064 2207L1025 2224L830 2282L1156 2159L1132 2224L1117 2209L901 2232L1004 2207L1026 2191L936 2281L1057 2225L1040 2171L935 2170L939 2199L1037 2195L843 2272L994 2203L908 2171L948 2187L1069 2192L1003 2210L1317 2104L953 2238L1234 2121L887 2197L948 2226L908 2229L1003 2170L1160 2073L1224 2121L1121 2174L1026 2182L1039 2168L876 2193L1190 2085L876 2206L1006 2219L1294 2089L988 2198L1017 2232L964 2223L1068 2185L878 2216L970 2181L853 2215L1060 2211L1064 2179L1129 2181L1067 2212L1134 2163L834 2227L962 2201L1111 2179L940 2188L1189 2172L1029 2228L1114 2185L1041 2181L1011 1943L933 2169L1047 2220L899 2268L1186 2144L1026 2186L1055 2209L1063 2171L797 2233L1305 2036L992 2231L974 2224L906 2203L999 2211L1048 2218L994 2202L781 2229L1028 2204L1200 2137L922 2151L1217 2106L971 2204L1186 2114L787 2273L1026 2213L1001 2180L946 2192L1111 2190L880 2189L963 2212L1159 2115L1050 2223L1115 2187L969 2193L932 2159L1063 2178L815 2243L899 2143L1288 2092L953 2225L766 2284L1003 2207L1007 2211L861 2220L1033 2201L1185 2139L1032 2212L992 2216L1020 2203L959 2233L1010 2213L1115 2156L1168 2114L1156 2142L1197 2175L797 2240L935 2219L830 2210L887 2246L919 2197L981 2218L1071 2213L807 2229L1056 2179L1013 2194L1089 2184L918 2179L1152 2141L944 2166L1010 2178L1054 2188L980 2192L825 2238L907 2156L1075 2254L1179 2139L992 2213L828 2219L955 2238L1030 2193L1104 2178L1180 2115L1026 2207L906 2230L1166 2142L963 2223L1046 2198L1182 2142L997 2208L1055 2223L1118 2192L834 2201L1002 2192L1089 2246L1043 2235L1178 2108L1002 2171L1050 2196L869 2187L913 2219L1006 2161L832 2274L923 2244L1052 2185L1026 2186L1243 2072L1022 2202L844 2224L839 2220L1140 2084L1100 2205L955 2232L930 2239L960 2186L1049 2170L1146 2091L1030 2214L977 2208L1042 2191L1034 2198L971 2244L891 2154L1199 2105L851 2239L1004 2190L1268 2071L998 2222L1103 2180L1025 2179L1220 2049L1124 2196L954 2238L1070 2179L859 2217L1000 2204L1051 2171L963 2216L1077 2215L1043 2206L1049 2201L934 2219L1054 2183L1063 2156L1162 2170L1185 2165L1272 1994L1043 2165L1062 2169L931 2236L1020 2219L1011 2179L890 2141L995 2181L882 2251L963 2199L1027 2187L981 2226L970 2217L1020 2175L926 2200L1117 2188L1250 2085L1154 2150L1087 2187L867 2221L997 2212L880 2207L1007 2220L1031 2191L1007 2213L1155 2158L778 2233L985 2187L1010 2182L978 2193L1275 2085L1107 2235L1137 2195L1024 2196L1075 2206L1251 2140L993 2189L1167 2084L833 2226L1030 2181L975 2267L1035 2172L1047 2228L905 2232L1177 2144L987 2214L1135 2158L858 2257L1277 2031L837 2249L883 2243L1191 2132L1039 2219L941 2228L837 2185L1207 2100L1173 2149L1119 2144L981 2196L1063 2202L1005 2221L907 2258L1111 2169L914 2264L1083 2190L993 2202L1163 2178L1018 2242L1203 2153L851 2214L1007 2152L877 2225L1070 2234L862 2252L964 2170L1030 2178L1136 2182L998 2199L1141 2156L1048 2172L799 2235L1196 2029L1130 2143L1037 2209L979 2185L944 2166L820 2242L1169 2180L864 2185L1053 1940L969 2156L1153 2150L1102 2198L986 2217L865 2244L1057 2227L1205 2137L976 2193L1028 2216L1024 2208L979 2217L1192 2140L1082 2213L1163 2137L950 2184L1010 2191L1026 2198L1031 2208L1093 2177L946 2147L1042 2206L1099 2219L861 2199L1078 2159L1162 2111L942 2229L1223 2121L1237 2089L1106 2198L1087 2179L1095 2147L1258 2021L782 2239L942 2224L1011 2193L988 2219L1026 2216L773 2228L972 2204L984 2190L975 2172L994 2209L881 2193L1161 2145L983 2235L874 2232L965 2217L1305 2056L1054 2165L1102 2229L1245 2105L1171 2135L1070 2204L1088 2181L1132 2188L874 2204L967 2224L1201 2147L1056 2236L786 2225L1038 2189L967 2219L944 2208L841 2240L970 2222L1185 2130L1013 2234L886 2206L859 2247L974 2212L1004 2232L961 2246L828 2223L1123 2190L1076 2238L928 2177L1020 2198L1120 2167L1049 2177L839 2255L946 2203L996 2210L967 2199L1151 2170L862 2170L941 2205L1182 2141L940 2223L1090 2170L1114 2128L968 2188L1043 2246L1100 2064L1027 2180L894 2226L867 2194L1027 2161L1013 2196L933 2213L995 2173L1049 2201L1031 2206L999 2220L1205 2052L1076 2203L1023 2200L1031 2216L1066 2204L1162 2182L894 2273L1051 2171L1002 2190L870 2250L1056 2188L1127 2165L962 2177L1161 2158L1022 2188L1131 2153L1086 2245L1128 2213L975 2213L1000 2201L1029 2223L842 2239L1245 1998L997 2205L1046 2155L991 2197L1019 2218L1131 2158L1195 2131L1262 2097L913 2214L940 2214L870 2245L976 2214L1091 2167L866 2221L1183 2140L988 2214L1143 2158L990 2232L1080 2181L1128 2052L814 2232L1236 2136L807 2231L794 2237L995 2225L1308 2002L958 2187L1208 2111L943 2209L1176 2166L939 2190L1278 2011L1143 2135L867 2213L946 2213L1038 2233L932 2242L903 2232L1173 2132L1041 2234L978 2193L832 2200L946 2239L891 2205L896 2227L845 2253L836 2188L973 2249" fill="none" stroke="none" marker-start="url(#m20)" marker-mid="url(#m20)" marker-end="url(#m20)"/>
<path d="M771.9 2229.5H821.4 V2237.4 H771.9 Z M771.9 2233.2H821.4 M796.6 2237.4V2246.3 M796.6 2229.5V2219.5 M783.6 2246.3H809.6 M783.6 2219.5H809.6" fill="none" stroke="#333" stroke-width="2.4"/>
<path d="M833.4 2196.8H882.9 V2233.9 H833.4 Z M833.4 2210.6H882.9 M858.1 2233.9V2278.6 M858.1 2196.8V2165.9 M845.1 2278.6H871.1 M845.1 2165.9H871.1" fill="none" stroke="#333" stroke-width="2.4"/>
<path d="M894.5 2174.8H944 V2230.5 H894.5 Z M894.5 2216.1H944 M919.3 2230.5V2269.7 M919.3 2174.8V2128.8 M906.3 2269.7H932.3 M906.3 2128.8H932.3" fill="none" stroke="#333" stroke-width="2.4"/>
<path d="M955.6 2190H1005.1 V2224.3 H955.6 Z M955.6 2210.6H1005.1 M980.4 2224.3V2249.7 M980.4 2190V2148.1 M967.4 2249.7H993.4 M967.4 2148.1H993.4" fill="none" stroke="#333" stroke-width="2.4"/>
<path d="M1016.8 2184.5H1066.3 V2209.9 H1016.8 Z M1016.8 2196.1H1066.3 M1041.6 2209.9V2245.6 M1041.6 2184.5V2151.5 M1028.6 2245.6H1054.6 M1028.6 2151.5H1054.6" fill="none" stroke="#333" stroke-width="2.4"/>
<path d="M1078.3 2165.2H1127.8 V2204.4 H1078.3 Z M1078.3 2179.7H1127.8 M1103.1 2204.4V2248.4 M1103.1 2165.2V2119.9 M1090.1 2248.4H1116.1 M1090.1 2119.9H1116.1" fill="none" stroke="#333" stroke-width="2.4"/>
<path d="M1139.5 2137.7H1189 V2160.4 H1139.5 Z M1139.5 2148.7H1189 M1164.3 2160.4V2193.4 M1164.3 2137.7V2103.4 M1151.3 2193.4H1177.3 M1151.3 2103.4H1177.3" fill="none" stroke="#333" stroke-width="2.4"/>
<path d="M1200.2 2101.3H1249.8 V2130.9 H1200.2 Z M1200.2 2119.2H1249.8 M1225 2130.9V2172.1 M1225 2101.3V2075.9 M1212 2172.1H1238 M1212 2075.9H1238" fill="none" stroke="#333" stroke-width="2.4"/>
<path d="M1262.2 2030.6H1311.7 V2083.5 H1262.2 Z M1262.2 2060.8H1311.7 M1286.9 2083.5V2123.3 M1286.9 2030.6V1984.5 M1273.9 2123.3H1299.9 M1273.9 1984.5H1299.9" fill="none" stroke="#333" stroke-width="2.4"/>
<rect x="737.8" y="1926.5" width="614.6" height="377.8" fill="none" stroke="#333" stroke-width="2"/>
<path d="M737.8 1926.2h-7.5M737.8 1960.5h-7.5M737.8 1994.9h-7.5M737.8 2029.2h-7.5M737.8 2063.6h-7.5M737.8 2097.9h-7.5M737.8 2132.2h-7.5M737.8 2166.6h-7.5M737.8 2201h-7.5M737.8 2235.3h-7.5M737.8 2269.7h-7.5M737.8 2304h-7.5M772 2304.3v7.5M955.5 2304.3v7.5M1138.5 2304.3v7.5M1320.8 2304.3v7.5" fill="none" stroke="#333" stroke-width="2"/>
<text x="772" y="2342.8" font-size="38" text-anchor="middle" fill="#333">0.0</text>
<text x="955.5" y="2342.8" font-size="38" text-anchor="middle" fill="#333">0.1</text>
<text x="1138.5" y="2342.8" font-size="38" text-anchor="middle" fill="#333">0.2</text>
<text x="1320.8" y="2342.8" font-size="38" text-anchor="middle" fill="#333">0.3</text>
<text x="755" y="1970.1" font-size="30.5" fill="#333">DOPC:bSM:Chol</text>
<text x="987" y="1996.6" font-size="30.5" text-anchor="end" fill="#333">1:1:2</text>
<text x="1041.3" y="2390" font-size="38" text-anchor="middle" fill="#333">F-TR lifetime gradient slope (ns/µm)</text>
<marker id="m21" markerWidth="13.6" markerHeight="13.6" refX="6.8" refY="6.8" markerUnits="userSpaceOnUse" overflow="visible"><circle cx="6.8" cy="6.8" r="4.8" fill="#8a2be2" fill-opacity="0.24" stroke="#8a2be2" stroke-opacity="0.24" stroke-width="1.0"/></marker><path d="M1846 2200L1787 2053L1952 2214L1872 2195L1660 2094L1949 2261L1403 1976L1900 2252L1793 2192L1504 2057L1614 2117L1741 2119L1824 2126L1462 2014L1956 2196L1799 2190L1899 2201L1844 2225L1854 2193L1844 2210L1724 2081L1847 2170L1806 2250L1901 2216L1878 2206L1936 2186L1896 2256L1856 2238L1758 2041L1856 2146L1855 2229L1736 2061L1949 2236L1853 2197L1793 2190L1906 2189L1809 2198L1821 2211L1811 2088L1926 2226L1734 2207L1868 2207L1835 2072L1864 2187L1772 2208L1952 2209L1796 2123L1860 2229L1922 2193L1707 2114L1897 2230L1425 2040L1460 1982L1906 2153L1785 2196L1772 2110L1822 2245L1956 2218L1928 2226L1888 2218L1660 2082L1640 2036L1762 2142L1865 2233L1882 2209L1558 2065L1921 2186L1842 2260L1871 2230L1815 2246L1687 2094L1866 2236L1869 2261L1712 2127L1787 2195L1722 2125L1859 2176L1920 2205L1451 2053L1779 2204L1734 2109L1916 2222L1825 2173L1837 2204L1783 2197L1875 2196L1605 2079L1736 2089L1852 2213L1809 2197L1861 2210L1953 2231L1940 2212L1871 2221L1865 2174L1503 2048L1794 2225L1882 2234L1838 2201L1834 2201L1668 2023L1703 2088L1950 2222L1854 2177L1496 2072L1666 2148L1901 2198L1436 1979L1753 2163L1697 1980L1786 2129L1831 2174L1830 2233L1879 2253L1891 2213L1939 2232L1842 2279L1756 2136L1683 2270L1868 2190L1834 2208L1609 2101L1879 2220L1801 2155L1922 2214L1758 2243L1881 2226L1891 2242L1738 2226L1812 2193L1404 1995L1877 2230L1711 2143L1882 2221L1849 2189L1946 2283L1512 2051L1936 2260L1841 2105L1900 2201L1947 2240L1873 2225L1635 2085L1794 2205L1812 2207L1964 2268L1855 2218L1951 2245L1561 2018L1775 2245L1681 2073L1858 2226L1415 2045L1654 2093L1737 2096L1851 2153L1896 2176L1922 2207L1810 2222L1901 2192L1840 2285L1706 2109L1796 2159L1933 2245L1718 2113L1965 2208L1919 2210L1889 2221L1885 2160L1760 2073L1656 2092L1950 2192L1834 2089L1834 2260L1675 2170L1920 2217L1827 2195L1862 2217L1926 2242L1935 2236L1929 2274L1687 2112L1749 2150L1802 2071L1910 2226L1828 2228L1852 2219L1882 2203L1821 2195L1492 2088L1819 2207L1824 2268L1821 2241L1877 2257L1934 2236L1833 2281L1843 2205L1920 2241L1755 2093L1440 1997L1747 2270L1890 2243L1482 1998L1939 2259L1867 2165L1776 2152L1872 2237L1951 2271L1487 1989L1837 2153L1803 2193L1893 2254L1680 1984L1895 2237L1668 2108L1674 2065L1655 2115L1828 2234L1820 2264L1867 2212L1760 2102L1914 2187L1879 2186L1903 2232L1906 2214L1964 2213L1934 2226L1814 2221L1878 2248L1756 2067L1750 2223L1636 2078L1747 2195L1815 2251L1945 2255L1939 2248L1638 2078L1957 2187L1884 2226L1846 2210L1822 2181L1795 2213L1764 2280L1783 2202L1891 2230L1860 2202L1946 2192L1870 2294L1809 2243L1709 2132L1653 2169L1451 2045L1722 2196L1830 2217L1879 2208L1938 2220L1946 2238L1783 2160L1802 2224L1834 2260L1828 2227L1931 2228L1856 2137L1906 2242L1931 2190L1823 2163L1939 2254L1730 2183L1961 2255L1875 2207L1804 2216L1889 2248L1852 2238L1840 2244L1804 2214L1780 2208L1854 2228L1914 2252L1868 2152L1665 2093L1912 2252L1859 2232L1496 2042L1901 2174L1877 2232L1728 2093L1856 2208L1726 2033L1800 2211L1522 2046L1674 2141L1442 1991L1873 2252L1932 2267L1728 2114L1850 2177L1890 2177L1643 2082L1869 2169L1725 1998L1784 2234L1895 2171L1814 2236L1944 2174L1439 2049L1903 2229L1829 2222L1804 2154L1687 2164L1941 2205L1778 2221L1837 2172L1798 2095L1966 2219L1875 2249L1481 1999L1820 2260L1962 2249L1779 2229L1889 2260L1740 2193L1728 2188L1742 2119L1666 2118L1887 2146L1816 2234L1445 1995L1765 2166L1937 2181L1813 2179L1782 2049L1674 2134L1955 2283L1866 2242L1821 2231L1897 2201L1786 2169L1751 2261L1779 2207L1661 2084L1857 2190L1911 2234L1677 2068L1762 2219L1769 2197L1917 2172L1915 2231L1830 2082L1860 2225L1620 2078L1848 2220L1913 2248L1879 2254L1963 2250L1815 2213L1839 2213L1942 2219L1784 2148L1970 2228L1841 2188L1766 2279L1905 2266L1902 2224L1849 2239L1837 2258L1892 2193L1520 2077L1849 2245L1851 2222L1666 2162L1848 2173L1663 2156L1852 2226L1912 2230L1935 2229L1787 2245L1887 2177L1819 2187L1742 2144L1960 2251L1932 2179L1807 2175L1827 2262L1858 2233L1725 2113L1756 2199L1943 2253L1810 2153L1822 2264L1841 2186L1692 2129L1723 2023L1797 2149L1838 2158L1563 2056L1581 2074L1893 2234L1936 2276L1814 2262L1933 2202L1732 2034L1921 2220L1889 2181L1861 2220L1700 2112L1940 2228L1851 2242L1860 2215L1720 2117L1844 2250L1852 2176L1410 1999L1766 2161L1680 2046L1898 2227L1780 2183L1762 2188L1755 2266L1683 2118L1868 2215L1885 2207L1837 2214L1758 2033L1865 2202L1820 2192L1909 2237L1934 2261L1877 2232L1860 2264L1830 2168L1816 2150L1913 2183L1952 2251L1811 2224L1822 2230L1939 2284L1664 2118L1901 2270L1936 2234L1744 2094L1774 2281L1711 2154L1722 2221L1885 2183L1836 2250L1770 2120L1605 2128L1655 2052L1959 2216L1611 2086L1935 2193L1622 2212L1471 2013L1851 2213L1896 2242L1919 2229L1695 2108L1962 2201L1621 2114L1858 2207L1825 2174L1881 2199L1796 2179L1936 2266L1653 2120L1762 2268L1810 2199L1712 2112L1891 2225L1690 2139L1884 2266L1965 2211L1718 2194L1817 2205L1908 2207L1904 2210L1875 2187L1600 2112L1894 2199L1871 2243L1682 2118L1850 2245L1928 2240L1913 2239L1510 2078L1775 2195L1559 2027L1697 2135L1450 2061L1800 2057L1955 2248L1937 2198L1899 2259L1768 2174L1954 2195L1922 2213L1850 2226L1943 2234L1748 2045L1650 2253L1797 2247L1963 2185L1943 2240L1419 1991L1824 2187L1708 2114L1750 2178L1784 2061L1932 2219L1876 2250L1875 2176L1855 2142L1819 2104L1874 2211L1891 2226L1956 2249L1823 2222L1733 2153L1666 2102L1947 2260L1690 2105L1792 2259L1832 2247L1803 2116L1969 2176L1488 2080L1813 2246L1968 2263L1724 2123L1770 2178L1810 2266L1822 2214L1907 2246L1785 2194L1906 2224L1913 2219L1930 2220L1706 2108L1719 2175L1948 2246L1795 2141L1825 2171L1920 2201L1857 2174L1718 2181L1871 2192L1926 2220L1742 2129L1929 2213L1737 2213L1788 2170L1852 2218L1743 2073L1845 2212L1757 2122L1722 2175L1791 2225L1791 2165L1832 2211L1818 2173L1761 2157L1888 2220L1903 2184L1873 2208L1731 2110L1825 2227L1813 2151L1868 2220L1858 2180L1771 2220L1753 2277L1895 2273L1855 2205L1938 2221L1761 2165L1885 2199L1813 2195L1877 2234L1935 2269L1911 2207L1965 2222L1601 2079L1886 2203L1855 2202L1721 2184L1880 2191L1944 2231L1854 2232L1755 2153L1841 2201L1464 2049L1788 2194L1734 2152L1849 2153L1832 2244L1912 2221L1834 2230L1868 2203L1940 2242L1654 2046L1846 2211L1937 2187L1765 2224L1730 2204L1936 2177L1828 2194L1849 2213L1830 2204L1484 2007L1941 2243L1789 2170L1920 2207L1866 2224L1938 2216L1901 2175L1907 2200L1457 1991L1775 2144L1921 2211L1905 2239L1779 2241L1958 2179L1954 2213L1925 2253L1839 2233L1930 2225L1968 2250L1622 2117L1782 2190L1491 2041L1718 2095L1816 2257L1817 2109L1872 2169L1855 2210L1726 2209L1743 2246L1885 2224L1718 2086L1872 2225L1766 2066L1890 2243L1924 2260L1836 2190L1438 1998L1788 2222L1864 2199L1501 2011L1772 2173L1809 2163L1932 2219L1723 2012L1701 2094L1850 2198L1733 2134L1883 2223L1890 2237L1924 2227L1890 2212L1718 1991L1521 2010L1956 2198L1966 2194L1658 2038L1763 2204L1843 2171L1837 2274L1886 2255L1670 2092L1962 2182L1720 2125L1723 2147L1827 2231L1717 1947L1790 2094L1791 2227L1887 2234L1536 2061L1918 2198L1713 2117L1821 2219L1837 2222L1969 2205L1844 2216L1507 2106L1874 2207L1750 2139L1777 2199L1543 2078L1721 2040L1976 2191L1827 2240L1887 2228L1820 2198L1759 2250L1867 2236L1936 2225L1840 2116L1861 2192L1873 2166L1819 2211L1758 2091L1909 2252L1965 2218L1884 2211L1953 2234L1721 2099L1784 2043L1898 2240L1773 2169L1900 2242L1674 2097L1936 2206L1915 2232L1656 2048L1808 2202L1837 2199L1819 2171L1558 2038L1878 2261L1724 2052L1852 2170L1899 2235L1760 2229L1752 2119L1776 2186L1956 2274L1848 2250L1843 2190L1871 2215L1855 2219L1902 2261L1855 2192L1737 2232L1878 2223L1829 2197L1756 2081L1805 2236L1824 2171L1797 2259L1927 2218L1927 2232L1766 2289L1810 2221L1800 2226L1923 2251L1807 2218L1784 2199L1819 2192L1804 2153L1855 2185L1839 2235L1925 2265L1671 2112L1969 2268L1938 2223L1896 2180L1945 2231L1794 2184L1922 2240L1881 2267L1879 2218L1728 2065L1721 2160L1472 2055L1650 1964L1790 2203L1812 2246L1860 2159L1970 2249L1840 2236L1803 2161L1898 2264L1781 2156L1672 2117L1813 2233L1404 2044L1957 2220L1900 2223L1836 2159L1879 2198L1923 2262L1847 2134L1518 2062L1829 2163L1674 2100L1843 2294L1902 2262L1862 2224L1846 2189L1913 2248L1735 2182L1828 2201L1907 2224L1810 2207L1517 2048L1849 2202L1805 2177L1818 2209L1880 2193L1873 2206L1871 2223L1955 2189L1780 2184L1872 2212L1768 2227L1948 2196L1804 2100L1655 2116L1754 2141L1744 2229L1864 2178L1896 2230L1827 2215L1890 2242L1742 2030L1936 2235L1783 2251L1803 2242L1781 2229L1831 2279L1936 2239L1820 2128L1682 2119L1848 2192L1667 2141L1781 2198L1962 2205L1748 2081L1937 2225L1965 2260L1889 2216L1798 2086L1878 2222L1846 2227L1899 2216L1800 2219L1748 2090L1955 2194L1860 2229L1474 2061L1845 2217L1885 2223L1672 2094L1785 2184L1873 2239L1765 2143L1829 2216L1743 2062L1859 2221L1961 2226L1810 2165L1745 2237L1771 2132L1963 2232L1728 1950L1844 2227L1731 2243L1466 2020L1933 2219L1782 2132L1877 2206L1692 2085L1946 2210L1682 2087L1750 2122L1655 2079L1748 2096L1939 2243L1718 2159L1818 2173L1687 2129L1670 2041L1674 2159L1837 2138L1527 2068L1841 2280L1793 2180L1700 2139L1951 2224L1748 2187L1693 2139L1818 2073L1879 2205L1761 2164L1866 2205L1887 2258L1672 2076L1743 2117L1489 2019L1875 2216L1579 2026L1702 2077L1767 2098L1837 2206L1760 2237L1731 2111L1957 2218L1958 2236L1809 2231L1857 2197L1774 2072L1872 2195L1834 2266L1873 2157L1962 2256L1938 2194L1913 2178L1760 2057L1474 2060L1785 2199L1835 2187L1816 2116L1881 2225L1814 2161L1780 2150L1929 2257L1895 2256L1807 2162L1795 2111L1785 2155L1796 2225L1868 2199L1849 2254L1944 2220L1654 2089L1411 2006L1806 2125L1905 2189L1705 2167L1853 2195L1811 2195L1642 2079L1664 2127L1888 2270L1874 2270L1722 2033L1887 2192L1880 2204L1849 2201L1695 2109L1795 2169L1847 2198L1877 2248L1831 2204L1865 2235L1745 2076L1928 2234L1786 2140L1431 1973L1930 2186L1877 2208L1765 2155L1726 2131L1917 2254L1915 2189L1734 2114L1864 2225L1815 2229L1807 2191L1700 2115L1889 2167L1850 2133L1699 2118L1526 2091L1967 2219L1872 2154L1737 2122L1751 2144L1894 2272L1934 2239L1863 2248L1904 2235L1925 2253L1808 2077L1757 2252L1896 2206L1717 2221L1909 2233L1833 2202L1866 2218L1662 2030L1750 2153L1406 2000L1816 2227L1908 2202L1902 2274L1917 2238L1832 2255L1488 2007L1427 2041L1823 2239L1630 2078L1685 2145L1666 2094L1759 2177L1761 2138L1852 2233L1779 2303L1950 2221L1460 1997L1834 2179L1825 2227L1955 2200L1909 2237L1631 2105L1817 2141L1787 2217L1926 2243L1864 2205L1781 2205L1966 2180L1940 2213L1426 1977L1695 2144L1686 2183L1844 2212L1872 2154L1646 2117L1760 2176L1928 2262L1905 2270L1534 2073L1667 2097L1896 2231L1679 2145L1795 2148L1863 2260L1708 2182L1913 2227L1880 2201L1873 2239L1871 2211L1733 2212L1799 2162L1908 2220L1849 2167L1658 2179L1870 2225L1731 2209L1938 2270L1963 2239L1829 2207L1721 2102L1834 2198L1483 2081L1854 2217L1776 2294L1768 2078L1814 2231L1424 1990L1746 2088L1803 2150L1932 2223L1585 2017L1720 2036L1423 2030L1915 2243L1892 2212L1748 2037L1400 2046L1815 2214L1750 2215L1846 2240L1883 2210L1694 2171L1861 2239L1865 2228L1747 2041L1856 2181L1708 2061L1884 2186L1906 2200L1911 2243L1798 2163L1935 2227L1505 2071L1923 2230L1770 2174L1742 2084L1775 2036L1629 2079L1866 2243L1740 2147L1643 2113L1646 2046L1736 2126L1953 2266L1870 2192L1908 2191L1730 2117L1732 2111L1933 2228L1876 2214L1868 2213L1746 2185L1789 2087L1808 2098L1955 2188L1754 2102L1857 2262L1763 2168L1913 2235L1730 2171L1897 2214L1473 2080L1871 2242L1899 2239L1922 2211L1829 2135L1826 2160L1845 2200L1755 2272L1875 2199L1454 2066L1495 2025L1946 2199L1953 2202L1784 2120L1848 2199L1469 2049L1815 2255L1956 2239L1676 2156L1510 1997L1574 2066L1937 2227L1944 2244L1772 2102L1944 2230L1770 2240L1963 2218L1857 2204L1959 2196L1565 2065L1838 2168L1888 2225L1876 2141L1911 2223L1945 2195L1711 2131L1746 1954L1760 2022L1399 2003L1842 2216L1531 2048L1964 2247L1720 2183L1898 2249L1915 2215L1809 2221L1955 2238L1852 2230L1675 2110L1786 2188L1747 2180L1809 2187L1814 2174L1876 2207L1690 2122" fill="none" stroke="none" marker-start="url(#m21)" marker-mid="url(#m21)" marker-end="url(#m21)"/>
<path d="M1405 1998.9H1456.5 V2046.4 H1405 Z M1405 2035.4H1456.5 M1430.7 2046.4V2069.8 M1430.7 1998.9V1970.7 M1417.7 2069.8H1443.7 M1417.7 1970.7H1443.7" fill="none" stroke="#333" stroke-width="2.4"/>
<path d="M1469 2016.1H1520.5 V2062.2 H1469 Z M1469 2047.8H1520.5 M1494.7 2062.2V2106.9 M1494.7 2016.1V1983.8 M1481.7 2106.9H1507.7 M1481.7 1983.8H1507.7" fill="none" stroke="#333" stroke-width="2.4"/>
<path d="M1532.5 2035.4H1584 V2065 H1532.5 Z M1532.5 2049.8H1584 M1558.3 2065V2082.2 M1558.3 2035.4V2014.8 M1545.3 2082.2H1571.3 M1545.3 2014.8H1571.3" fill="none" stroke="#333" stroke-width="2.4"/>
<path d="M1596.2 2079.4H1647.8 V2117.3 H1596.2 Z M1596.2 2100.8H1647.8 M1622 2117.3V2134.5 M1622 2079.4V2077.4 M1609 2134.5H1635 M1609 2077.4H1635" fill="none" stroke="#333" stroke-width="2.4"/>
<path d="M1659 2095.2H1710.5 V2140.7 H1659 Z M1659 2115.2H1710.5 M1684.8 2140.7V2195.7 M1684.8 2095.2V2028.5 M1671.8 2195.7H1697.8 M1671.8 2028.5H1697.8" fill="none" stroke="#333" stroke-width="2.4"/>
<path d="M1722.8 2120H1774.2 V2204.6 H1722.8 Z M1722.8 2148.9H1774.2 M1748.5 2204.6V2285.1 M1748.5 2120V2009.2 M1735.5 2285.1H1761.5 M1735.5 2009.2H1761.5" fill="none" stroke="#333" stroke-width="2.4"/>
<path d="M1786 2150.3H1837.5 V2228 H1786 Z M1786 2188.8H1837.5 M1811.7 2228V2278.3 M1811.7 2150.3V2056 M1798.7 2278.3H1824.7 M1798.7 2056H1824.7" fill="none" stroke="#333" stroke-width="2.4"/>
<path d="M1849.7 2192.3H1901.2 V2232.2 H1849.7 Z M1849.7 2215.6H1901.2 M1875.4 2232.2V2273.4 M1875.4 2192.3V2134.5 M1862.4 2273.4H1888.4 M1862.4 2134.5H1888.4" fill="none" stroke="#333" stroke-width="2.4"/>
<path d="M1913.2 2212.9H1964.8 V2243.2 H1913.2 Z M1913.2 2228H1964.8 M1939 2243.2V2287.2 M1939 2212.9V2169.6 M1926 2287.2H1952 M1926 2169.6H1952" fill="none" stroke="#333" stroke-width="2.4"/>
<rect x="1375.2" y="1926.6" width="614.9" height="377.4" fill="none" stroke="#333" stroke-width="2"/>
<path d="M1375.2 1926h-7.5M1375.2 1960.4h-7.5M1375.2 1994.8h-7.5M1375.2 2029.2h-7.5M1375.2 2063.6h-7.5M1375.2 2098h-7.5M1375.2 2132.4h-7.5M1375.2 2166.8h-7.5M1375.2 2201.2h-7.5M1375.2 2235.6h-7.5M1375.2 2270h-7.5M1375.2 2304.4h-7.5M1547.9 2304v7.5M1721.1 2304v7.5M1894.6 2304v7.5" fill="none" stroke="#333" stroke-width="2"/>
<text x="1547.9" y="2342.5" font-size="38" text-anchor="middle" fill="#333">-0.10</text>
<text x="1721.1" y="2342.5" font-size="38" text-anchor="middle" fill="#333">-0.05</text>
<text x="1894.6" y="2342.5" font-size="38" text-anchor="middle" fill="#333">0.00</text>
<text x="1964" y="1970.3" font-size="30.5" text-anchor="end" fill="#333">DOPC:bSM:Chol</text>
<text x="1964" y="1996.9" font-size="30.5" text-anchor="end" fill="#333">2:2:1</text>
<text x="1684" y="2390.2" font-size="38" text-anchor="middle" fill="#333">F-TR lifetime gradient slope (ns/µm)</text>
</svg>
</body></html>
